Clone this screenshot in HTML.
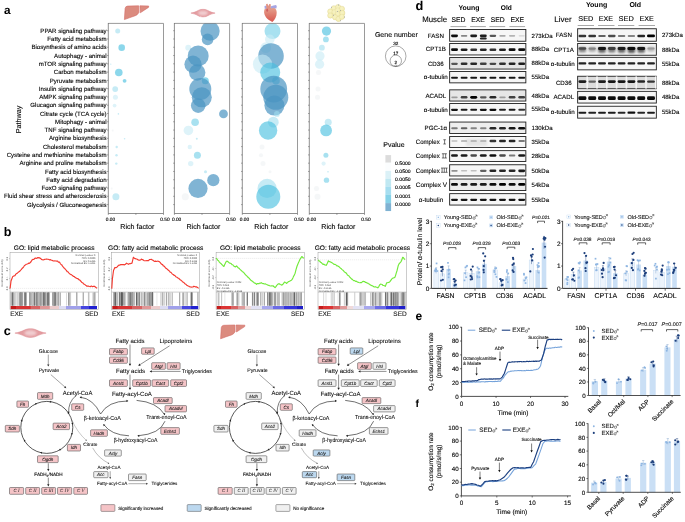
<!DOCTYPE html><html><head><meta charset="utf-8"><style>html,body{margin:0;padding:0;background:#fff;}svg{display:block;font-family:"Liberation Sans", sans-serif;will-change:transform;text-rendering:geometricPrecision;}</style></head><body>
<svg width="685" height="522" viewBox="0 0 685 522">
<defs><filter id="blur1" x="-50%" y="-50%" width="200%" height="200%"><feGaussianBlur stdDeviation="0.8"/></filter><filter id="blur3" x="-30%" y="-50%" width="160%" height="200%"><feGaussianBlur stdDeviation="0.9"/></filter><filter id="blur2" x="-20%" y="-50%" width="140%" height="200%"><feGaussianBlur stdDeviation="0.45"/></filter><linearGradient id="rwb" x1="0" x2="1" y1="0" y2="0"><stop offset="0" stop-color="#c41c1c"/><stop offset="0.06" stop-color="#c41c1c"/><stop offset="0.061" stop-color="#d83434"/><stop offset="0.23" stop-color="#d83434"/><stop offset="0.231" stop-color="#d86464"/><stop offset="0.34" stop-color="#d86464"/><stop offset="0.341" stop-color="#e09898"/><stop offset="0.45" stop-color="#e09898"/><stop offset="0.451" stop-color="#eccccc"/><stop offset="0.555" stop-color="#eccccc"/><stop offset="0.556" stop-color="#dcdcf2"/><stop offset="0.645" stop-color="#dcdcf2"/><stop offset="0.646" stop-color="#a0a0ea"/><stop offset="0.81" stop-color="#a0a0ea"/><stop offset="0.811" stop-color="#4646e0"/><stop offset="0.91" stop-color="#4646e0"/><stop offset="0.911" stop-color="#2020d0"/><stop offset="1" stop-color="#2020d0"/></linearGradient><linearGradient id="rwb2" x1="0" x2="1" y1="0" y2="0"><stop offset="0" stop-color="#c41c1c"/><stop offset="0.05" stop-color="#c41c1c"/><stop offset="0.051" stop-color="#dc3434"/><stop offset="0.17" stop-color="#dc3434"/><stop offset="0.171" stop-color="#d86464"/><stop offset="0.25" stop-color="#d86464"/><stop offset="0.251" stop-color="#e09a9a"/><stop offset="0.33" stop-color="#e09a9a"/><stop offset="0.331" stop-color="#f0dada"/><stop offset="0.4" stop-color="#f0dada"/><stop offset="0.401" stop-color="#e2e2f4"/><stop offset="0.52" stop-color="#e2e2f4"/><stop offset="0.521" stop-color="#a8a8ee"/><stop offset="0.65" stop-color="#a8a8ee"/><stop offset="0.651" stop-color="#6c6ce6"/><stop offset="0.78" stop-color="#6c6ce6"/><stop offset="0.781" stop-color="#3434dc"/><stop offset="0.93" stop-color="#3434dc"/><stop offset="0.931" stop-color="#1e1ec8"/><stop offset="1" stop-color="#1e1ec8"/></linearGradient><linearGradient id="heartg" x1="0" x2="0" y1="0" y2="1"><stop offset="0" stop-color="#e5a08c"/><stop offset="1" stop-color="#d8574f"/></linearGradient><clipPath id="pc0"><rect x="108.30" y="23.0" width="55.20" height="190.5"/></clipPath><clipPath id="pc1"><rect x="174.40" y="23.0" width="55.20" height="190.5"/></clipPath><clipPath id="pc2"><rect x="242.30" y="23.0" width="55.20" height="190.5"/></clipPath><clipPath id="pc3"><rect x="309.30" y="23.0" width="55.20" height="190.5"/></clipPath></defs>
<rect width="685" height="522" fill="#fff"/>
<text x="4.00" y="14.00" font-size="11.8" font-weight="bold">a</text>
<text x="415.40" y="9.90" font-size="12.8" font-weight="bold">d</text>
<text x="3.70" y="236.20" font-size="12.6" font-weight="bold">b</text>
<text x="3.80" y="335.10" font-size="12.6" font-weight="bold">c</text>
<text x="415.50" y="320.30" font-size="12" font-weight="bold">e</text>
<text x="415.50" y="407.40" font-size="10.5" font-weight="bold">f</text>
<text x="106.60" y="32.85" font-size="6.1" text-anchor="end" stroke="#111" stroke-width="0.12">PPAR signaling pathway</text>
<text x="106.60" y="41.13" font-size="6.1" text-anchor="end" stroke="#111" stroke-width="0.12">Fatty acid metabolism</text>
<text x="106.60" y="49.41" font-size="6.1" text-anchor="end" stroke="#111" stroke-width="0.12">Biosynthesis of amino acids</text>
<text x="106.60" y="57.69" font-size="6.1" text-anchor="end" stroke="#111" stroke-width="0.12">Autophagy - animal</text>
<text x="106.60" y="65.97" font-size="6.1" text-anchor="end" stroke="#111" stroke-width="0.12">mTOR signaling pathway</text>
<text x="106.60" y="74.25" font-size="6.1" text-anchor="end" stroke="#111" stroke-width="0.12">Carbon metabolism</text>
<text x="106.60" y="82.53" font-size="6.1" text-anchor="end" stroke="#111" stroke-width="0.12">Pyruvate metabolism</text>
<text x="106.60" y="90.81" font-size="6.1" text-anchor="end" stroke="#111" stroke-width="0.12">Insulin signaling pathway</text>
<text x="106.60" y="99.09" font-size="6.1" text-anchor="end" stroke="#111" stroke-width="0.12">AMPK signaling pathway</text>
<text x="106.60" y="107.37" font-size="6.1" text-anchor="end" stroke="#111" stroke-width="0.12">Glucagon signaling pathway</text>
<text x="106.60" y="115.65" font-size="6.1" text-anchor="end" stroke="#111" stroke-width="0.12">Citrate cycle (TCA cycle)</text>
<text x="106.60" y="123.93" font-size="6.1" text-anchor="end" stroke="#111" stroke-width="0.12">Mitophagy - animal</text>
<text x="106.60" y="132.21" font-size="6.1" text-anchor="end" stroke="#111" stroke-width="0.12">TNF signaling pathway</text>
<text x="106.60" y="140.49" font-size="6.1" text-anchor="end" stroke="#111" stroke-width="0.12">Arginine biosynthesis</text>
<text x="106.60" y="148.77" font-size="6.1" text-anchor="end" stroke="#111" stroke-width="0.12">Cholesterol metabolism</text>
<text x="106.60" y="157.05" font-size="6.1" text-anchor="end" stroke="#111" stroke-width="0.12">Cysteine and methionine metabolism</text>
<text x="106.60" y="165.33" font-size="6.1" text-anchor="end" stroke="#111" stroke-width="0.12">Arginine and proline metabolism</text>
<text x="106.60" y="173.61" font-size="6.1" text-anchor="end" stroke="#111" stroke-width="0.12">Fatty acid biosynthesis</text>
<text x="106.60" y="181.89" font-size="6.1" text-anchor="end" stroke="#111" stroke-width="0.12">Fatty acid degradation</text>
<text x="106.60" y="190.17" font-size="6.1" text-anchor="end" stroke="#111" stroke-width="0.12">FoxO signaling pathway</text>
<text x="106.60" y="198.45" font-size="6.1" text-anchor="end" stroke="#111" stroke-width="0.12">Fluid shear stress and atherosclerosis</text>
<text x="106.60" y="206.73" font-size="6.1" text-anchor="end" stroke="#111" stroke-width="0.12">Glycolysis / Gluconeogenesis</text>
<text x="20.80" y="119.50" font-size="7.2" text-anchor="middle" stroke="#111" stroke-width="0.12" transform="rotate(-90 20.80 119.50)">Pathway</text>
<g clip-path="url(#pc0)">
<circle cx="117.70" cy="31.10" r="2.50" fill="rgb(160,222,238)" fill-opacity="0.6"/>
<circle cx="121.70" cy="47.66" r="3.30" fill="rgb(69,191,222)" fill-opacity="0.62"/>
<circle cx="110.80" cy="64.22" r="0.60" fill="rgb(160,222,238)" fill-opacity="0.6"/>
<circle cx="118.80" cy="72.50" r="3.80" fill="rgb(69,191,222)" fill-opacity="0.62"/>
<circle cx="124.60" cy="80.78" r="1.90" fill="rgb(69,191,222)" fill-opacity="0.62"/>
<circle cx="115.20" cy="89.06" r="2.90" fill="rgb(160,222,238)" fill-opacity="0.6"/>
<circle cx="115.40" cy="97.34" r="2.50" fill="rgb(200,235,245)" fill-opacity="0.6"/>
<circle cx="114.60" cy="105.62" r="1.90" fill="rgb(200,235,245)" fill-opacity="0.6"/>
<circle cx="118.40" cy="113.90" r="0.80" fill="rgb(160,222,238)" fill-opacity="0.6"/>
<circle cx="112.70" cy="130.46" r="1.00" fill="rgb(236,240,242)" fill-opacity="0.5"/>
<circle cx="124.60" cy="138.74" r="0.80" fill="rgb(160,222,238)" fill-opacity="0.6"/>
<circle cx="116.70" cy="147.02" r="1.20" fill="rgb(160,222,238)" fill-opacity="0.6"/>
<circle cx="116.50" cy="155.30" r="1.20" fill="rgb(160,222,238)" fill-opacity="0.6"/>
<circle cx="116.30" cy="163.58" r="1.20" fill="rgb(160,222,238)" fill-opacity="0.6"/>
<circle cx="111.70" cy="188.42" r="1.00" fill="rgb(236,240,242)" fill-opacity="0.5"/>
<circle cx="115.90" cy="196.70" r="3.50" fill="rgb(160,222,238)" fill-opacity="0.6"/>
</g>
<line x1="108.30" y1="23.40" x2="163.50" y2="23.40" stroke="#808080" stroke-width="0.8"/>
<line x1="163.50" y1="23.40" x2="163.50" y2="213.50" stroke="#808080" stroke-width="0.8"/>
<line x1="108.30" y1="23.00" x2="108.30" y2="213.50" stroke="#444" stroke-width="0.6"/>
<line x1="108.30" y1="213.50" x2="163.50" y2="213.50" stroke="#444" stroke-width="0.6"/>
<line x1="107.00" y1="30.70" x2="108.30" y2="30.70" stroke="#444" stroke-width="0.45"/>
<line x1="107.00" y1="38.98" x2="108.30" y2="38.98" stroke="#444" stroke-width="0.45"/>
<line x1="107.00" y1="47.26" x2="108.30" y2="47.26" stroke="#444" stroke-width="0.45"/>
<line x1="107.00" y1="55.54" x2="108.30" y2="55.54" stroke="#444" stroke-width="0.45"/>
<line x1="107.00" y1="63.82" x2="108.30" y2="63.82" stroke="#444" stroke-width="0.45"/>
<line x1="107.00" y1="72.10" x2="108.30" y2="72.10" stroke="#444" stroke-width="0.45"/>
<line x1="107.00" y1="80.38" x2="108.30" y2="80.38" stroke="#444" stroke-width="0.45"/>
<line x1="107.00" y1="88.66" x2="108.30" y2="88.66" stroke="#444" stroke-width="0.45"/>
<line x1="107.00" y1="96.94" x2="108.30" y2="96.94" stroke="#444" stroke-width="0.45"/>
<line x1="107.00" y1="105.22" x2="108.30" y2="105.22" stroke="#444" stroke-width="0.45"/>
<line x1="107.00" y1="113.50" x2="108.30" y2="113.50" stroke="#444" stroke-width="0.45"/>
<line x1="107.00" y1="121.78" x2="108.30" y2="121.78" stroke="#444" stroke-width="0.45"/>
<line x1="107.00" y1="130.06" x2="108.30" y2="130.06" stroke="#444" stroke-width="0.45"/>
<line x1="107.00" y1="138.34" x2="108.30" y2="138.34" stroke="#444" stroke-width="0.45"/>
<line x1="107.00" y1="146.62" x2="108.30" y2="146.62" stroke="#444" stroke-width="0.45"/>
<line x1="107.00" y1="154.90" x2="108.30" y2="154.90" stroke="#444" stroke-width="0.45"/>
<line x1="107.00" y1="163.18" x2="108.30" y2="163.18" stroke="#444" stroke-width="0.45"/>
<line x1="107.00" y1="171.46" x2="108.30" y2="171.46" stroke="#444" stroke-width="0.45"/>
<line x1="107.00" y1="179.74" x2="108.30" y2="179.74" stroke="#444" stroke-width="0.45"/>
<line x1="107.00" y1="188.02" x2="108.30" y2="188.02" stroke="#444" stroke-width="0.45"/>
<line x1="107.00" y1="196.30" x2="108.30" y2="196.30" stroke="#444" stroke-width="0.45"/>
<line x1="107.00" y1="204.58" x2="108.30" y2="204.58" stroke="#444" stroke-width="0.45"/>
<line x1="108.30" y1="213.50" x2="108.30" y2="215.00" stroke="#444" stroke-width="0.45"/>
<line x1="135.90" y1="213.50" x2="135.90" y2="215.00" stroke="#444" stroke-width="0.45"/>
<line x1="163.50" y1="213.50" x2="163.50" y2="215.00" stroke="#444" stroke-width="0.45"/>
<text x="110.50" y="221.20" font-size="4.8" text-anchor="middle" stroke="#111" stroke-width="0.14">0.00</text>
<text x="164.90" y="221.20" font-size="4.8" text-anchor="middle" stroke="#111" stroke-width="0.14">0.50</text>
<text x="137.30" y="228.70" font-size="7.1" text-anchor="middle" stroke="#111" stroke-width="0.12">Rich factor</text>
<g clip-path="url(#pc1)">
<circle cx="210.10" cy="31.10" r="9.60" fill="rgb(74,148,194)" fill-opacity="0.7"/>
<circle cx="207.60" cy="39.38" r="5.80" fill="rgb(74,148,194)" fill-opacity="0.7"/>
<circle cx="188.20" cy="47.66" r="2.90" fill="rgb(200,235,245)" fill-opacity="0.6"/>
<circle cx="198.20" cy="55.94" r="10.50" fill="rgb(74,148,194)" fill-opacity="0.7"/>
<circle cx="193.00" cy="64.22" r="8.60" fill="rgb(74,148,194)" fill-opacity="0.7"/>
<circle cx="197.20" cy="72.50" r="8.20" fill="rgb(74,148,194)" fill-opacity="0.7"/>
<circle cx="205.30" cy="80.78" r="3.50" fill="rgb(69,191,222)" fill-opacity="0.62"/>
<circle cx="200.30" cy="89.06" r="11.00" fill="rgb(74,148,194)" fill-opacity="0.7"/>
<circle cx="201.80" cy="97.34" r="10.00" fill="rgb(74,148,194)" fill-opacity="0.7"/>
<circle cx="198.20" cy="105.62" r="7.30" fill="rgb(74,148,194)" fill-opacity="0.7"/>
<circle cx="223.50" cy="113.90" r="4.40" fill="rgb(74,148,194)" fill-opacity="0.7"/>
<circle cx="195.10" cy="122.18" r="3.80" fill="rgb(110,205,230)" fill-opacity="0.6"/>
<circle cx="188.40" cy="130.46" r="4.80" fill="rgb(200,235,245)" fill-opacity="0.6"/>
<circle cx="196.80" cy="138.74" r="1.00" fill="rgb(160,222,238)" fill-opacity="0.6"/>
<circle cx="189.80" cy="147.02" r="2.20" fill="rgb(200,235,245)" fill-opacity="0.6"/>
<circle cx="197.40" cy="155.30" r="3.50" fill="rgb(110,205,230)" fill-opacity="0.6"/>
<circle cx="190.70" cy="163.58" r="2.70" fill="rgb(200,235,245)" fill-opacity="0.6"/>
<circle cx="205.50" cy="171.86" r="1.50" fill="rgb(160,222,238)" fill-opacity="0.6"/>
<circle cx="213.30" cy="180.14" r="6.10" fill="rgb(74,148,194)" fill-opacity="0.7"/>
<circle cx="198.00" cy="188.42" r="9.60" fill="rgb(74,148,194)" fill-opacity="0.7"/>
<circle cx="185.30" cy="196.70" r="3.50" fill="rgb(236,240,242)" fill-opacity="0.5"/>
</g>
<line x1="174.40" y1="23.40" x2="229.60" y2="23.40" stroke="#808080" stroke-width="0.8"/>
<line x1="229.60" y1="23.40" x2="229.60" y2="213.50" stroke="#808080" stroke-width="0.8"/>
<line x1="174.40" y1="23.00" x2="174.40" y2="213.50" stroke="#444" stroke-width="0.6"/>
<line x1="174.40" y1="213.50" x2="229.60" y2="213.50" stroke="#444" stroke-width="0.6"/>
<line x1="173.10" y1="30.70" x2="174.40" y2="30.70" stroke="#444" stroke-width="0.45"/>
<line x1="173.10" y1="38.98" x2="174.40" y2="38.98" stroke="#444" stroke-width="0.45"/>
<line x1="173.10" y1="47.26" x2="174.40" y2="47.26" stroke="#444" stroke-width="0.45"/>
<line x1="173.10" y1="55.54" x2="174.40" y2="55.54" stroke="#444" stroke-width="0.45"/>
<line x1="173.10" y1="63.82" x2="174.40" y2="63.82" stroke="#444" stroke-width="0.45"/>
<line x1="173.10" y1="72.10" x2="174.40" y2="72.10" stroke="#444" stroke-width="0.45"/>
<line x1="173.10" y1="80.38" x2="174.40" y2="80.38" stroke="#444" stroke-width="0.45"/>
<line x1="173.10" y1="88.66" x2="174.40" y2="88.66" stroke="#444" stroke-width="0.45"/>
<line x1="173.10" y1="96.94" x2="174.40" y2="96.94" stroke="#444" stroke-width="0.45"/>
<line x1="173.10" y1="105.22" x2="174.40" y2="105.22" stroke="#444" stroke-width="0.45"/>
<line x1="173.10" y1="113.50" x2="174.40" y2="113.50" stroke="#444" stroke-width="0.45"/>
<line x1="173.10" y1="121.78" x2="174.40" y2="121.78" stroke="#444" stroke-width="0.45"/>
<line x1="173.10" y1="130.06" x2="174.40" y2="130.06" stroke="#444" stroke-width="0.45"/>
<line x1="173.10" y1="138.34" x2="174.40" y2="138.34" stroke="#444" stroke-width="0.45"/>
<line x1="173.10" y1="146.62" x2="174.40" y2="146.62" stroke="#444" stroke-width="0.45"/>
<line x1="173.10" y1="154.90" x2="174.40" y2="154.90" stroke="#444" stroke-width="0.45"/>
<line x1="173.10" y1="163.18" x2="174.40" y2="163.18" stroke="#444" stroke-width="0.45"/>
<line x1="173.10" y1="171.46" x2="174.40" y2="171.46" stroke="#444" stroke-width="0.45"/>
<line x1="173.10" y1="179.74" x2="174.40" y2="179.74" stroke="#444" stroke-width="0.45"/>
<line x1="173.10" y1="188.02" x2="174.40" y2="188.02" stroke="#444" stroke-width="0.45"/>
<line x1="173.10" y1="196.30" x2="174.40" y2="196.30" stroke="#444" stroke-width="0.45"/>
<line x1="173.10" y1="204.58" x2="174.40" y2="204.58" stroke="#444" stroke-width="0.45"/>
<line x1="174.40" y1="213.50" x2="174.40" y2="215.00" stroke="#444" stroke-width="0.45"/>
<line x1="202.00" y1="213.50" x2="202.00" y2="215.00" stroke="#444" stroke-width="0.45"/>
<line x1="229.60" y1="213.50" x2="229.60" y2="215.00" stroke="#444" stroke-width="0.45"/>
<text x="176.60" y="221.20" font-size="4.8" text-anchor="middle" stroke="#111" stroke-width="0.14">0.00</text>
<text x="231.00" y="221.20" font-size="4.8" text-anchor="middle" stroke="#111" stroke-width="0.14">0.50</text>
<text x="203.40" y="228.70" font-size="7.1" text-anchor="middle" stroke="#111" stroke-width="0.12">Rich factor</text>
<g clip-path="url(#pc2)">
<circle cx="272.50" cy="31.10" r="8.00" fill="rgb(110,205,230)" fill-opacity="0.6"/>
<circle cx="269.80" cy="39.38" r="4.80" fill="rgb(200,235,245)" fill-opacity="0.6"/>
<circle cx="265.80" cy="47.66" r="5.40" fill="rgb(200,235,245)" fill-opacity="0.6"/>
<circle cx="271.00" cy="55.94" r="12.80" fill="rgb(74,148,194)" fill-opacity="0.7"/>
<circle cx="262.50" cy="64.22" r="9.60" fill="rgb(200,235,245)" fill-opacity="0.6"/>
<circle cx="270.20" cy="72.50" r="10.00" fill="rgb(69,191,222)" fill-opacity="0.62"/>
<circle cx="276.00" cy="80.78" r="3.80" fill="rgb(69,191,222)" fill-opacity="0.62"/>
<circle cx="273.70" cy="89.06" r="13.40" fill="rgb(74,148,194)" fill-opacity="0.7"/>
<circle cx="275.80" cy="97.34" r="12.50" fill="rgb(74,148,194)" fill-opacity="0.7"/>
<circle cx="274.40" cy="105.62" r="10.00" fill="rgb(74,148,194)" fill-opacity="0.7"/>
<circle cx="276.90" cy="113.90" r="2.90" fill="rgb(160,222,238)" fill-opacity="0.6"/>
<circle cx="273.30" cy="122.18" r="5.40" fill="rgb(160,222,238)" fill-opacity="0.6"/>
<circle cx="268.10" cy="130.46" r="9.20" fill="rgb(69,191,222)" fill-opacity="0.62"/>
<circle cx="262.00" cy="147.02" r="2.50" fill="rgb(236,240,242)" fill-opacity="0.5"/>
<circle cx="261.00" cy="155.30" r="2.00" fill="rgb(236,240,242)" fill-opacity="0.5"/>
<circle cx="263.00" cy="163.58" r="2.50" fill="rgb(236,240,242)" fill-opacity="0.5"/>
<circle cx="270.00" cy="171.86" r="1.50" fill="rgb(236,240,242)" fill-opacity="0.5"/>
<circle cx="267.10" cy="188.42" r="9.60" fill="rgb(160,222,238)" fill-opacity="0.6"/>
<circle cx="268.30" cy="196.70" r="12.00" fill="rgb(69,191,222)" fill-opacity="0.62"/>
</g>
<line x1="242.30" y1="23.40" x2="297.50" y2="23.40" stroke="#808080" stroke-width="0.8"/>
<line x1="297.50" y1="23.40" x2="297.50" y2="213.50" stroke="#808080" stroke-width="0.8"/>
<line x1="242.30" y1="23.00" x2="242.30" y2="213.50" stroke="#444" stroke-width="0.6"/>
<line x1="242.30" y1="213.50" x2="297.50" y2="213.50" stroke="#444" stroke-width="0.6"/>
<line x1="241.00" y1="30.70" x2="242.30" y2="30.70" stroke="#444" stroke-width="0.45"/>
<line x1="241.00" y1="38.98" x2="242.30" y2="38.98" stroke="#444" stroke-width="0.45"/>
<line x1="241.00" y1="47.26" x2="242.30" y2="47.26" stroke="#444" stroke-width="0.45"/>
<line x1="241.00" y1="55.54" x2="242.30" y2="55.54" stroke="#444" stroke-width="0.45"/>
<line x1="241.00" y1="63.82" x2="242.30" y2="63.82" stroke="#444" stroke-width="0.45"/>
<line x1="241.00" y1="72.10" x2="242.30" y2="72.10" stroke="#444" stroke-width="0.45"/>
<line x1="241.00" y1="80.38" x2="242.30" y2="80.38" stroke="#444" stroke-width="0.45"/>
<line x1="241.00" y1="88.66" x2="242.30" y2="88.66" stroke="#444" stroke-width="0.45"/>
<line x1="241.00" y1="96.94" x2="242.30" y2="96.94" stroke="#444" stroke-width="0.45"/>
<line x1="241.00" y1="105.22" x2="242.30" y2="105.22" stroke="#444" stroke-width="0.45"/>
<line x1="241.00" y1="113.50" x2="242.30" y2="113.50" stroke="#444" stroke-width="0.45"/>
<line x1="241.00" y1="121.78" x2="242.30" y2="121.78" stroke="#444" stroke-width="0.45"/>
<line x1="241.00" y1="130.06" x2="242.30" y2="130.06" stroke="#444" stroke-width="0.45"/>
<line x1="241.00" y1="138.34" x2="242.30" y2="138.34" stroke="#444" stroke-width="0.45"/>
<line x1="241.00" y1="146.62" x2="242.30" y2="146.62" stroke="#444" stroke-width="0.45"/>
<line x1="241.00" y1="154.90" x2="242.30" y2="154.90" stroke="#444" stroke-width="0.45"/>
<line x1="241.00" y1="163.18" x2="242.30" y2="163.18" stroke="#444" stroke-width="0.45"/>
<line x1="241.00" y1="171.46" x2="242.30" y2="171.46" stroke="#444" stroke-width="0.45"/>
<line x1="241.00" y1="179.74" x2="242.30" y2="179.74" stroke="#444" stroke-width="0.45"/>
<line x1="241.00" y1="188.02" x2="242.30" y2="188.02" stroke="#444" stroke-width="0.45"/>
<line x1="241.00" y1="196.30" x2="242.30" y2="196.30" stroke="#444" stroke-width="0.45"/>
<line x1="241.00" y1="204.58" x2="242.30" y2="204.58" stroke="#444" stroke-width="0.45"/>
<line x1="242.30" y1="213.50" x2="242.30" y2="215.00" stroke="#444" stroke-width="0.45"/>
<line x1="269.90" y1="213.50" x2="269.90" y2="215.00" stroke="#444" stroke-width="0.45"/>
<line x1="297.50" y1="213.50" x2="297.50" y2="215.00" stroke="#444" stroke-width="0.45"/>
<text x="244.50" y="221.20" font-size="4.8" text-anchor="middle" stroke="#111" stroke-width="0.14">0.00</text>
<text x="298.90" y="221.20" font-size="4.8" text-anchor="middle" stroke="#111" stroke-width="0.14">0.50</text>
<text x="271.30" y="228.70" font-size="7.1" text-anchor="middle" stroke="#111" stroke-width="0.12">Rich factor</text>
<g clip-path="url(#pc3)">
<circle cx="326.50" cy="31.10" r="4.60" fill="rgb(69,191,222)" fill-opacity="0.62"/>
<circle cx="325.90" cy="39.38" r="2.90" fill="rgb(110,205,230)" fill-opacity="0.6"/>
<circle cx="321.90" cy="47.66" r="2.90" fill="rgb(160,222,238)" fill-opacity="0.6"/>
<circle cx="320.00" cy="55.94" r="4.60" fill="rgb(200,235,245)" fill-opacity="0.6"/>
<circle cx="319.60" cy="64.22" r="4.60" fill="rgb(200,235,245)" fill-opacity="0.6"/>
<circle cx="318.50" cy="72.50" r="2.50" fill="rgb(236,240,242)" fill-opacity="0.5"/>
<circle cx="318.00" cy="89.06" r="2.50" fill="rgb(236,240,242)" fill-opacity="0.5"/>
<circle cx="317.50" cy="97.34" r="2.50" fill="rgb(236,240,242)" fill-opacity="0.5"/>
<circle cx="328.20" cy="122.18" r="3.50" fill="rgb(160,222,238)" fill-opacity="0.6"/>
<circle cx="326.10" cy="130.46" r="5.90" fill="rgb(69,191,222)" fill-opacity="0.62"/>
<circle cx="325.90" cy="155.30" r="2.50" fill="rgb(110,205,230)" fill-opacity="0.6"/>
<circle cx="323.60" cy="163.58" r="2.10" fill="rgb(200,235,245)" fill-opacity="0.6"/>
<circle cx="328.00" cy="171.86" r="0.80" fill="rgb(160,222,238)" fill-opacity="0.6"/>
<circle cx="326.50" cy="180.14" r="2.70" fill="rgb(110,205,230)" fill-opacity="0.6"/>
<circle cx="316.50" cy="188.42" r="2.50" fill="rgb(236,240,242)" fill-opacity="0.5"/>
<circle cx="317.50" cy="196.70" r="3.00" fill="rgb(236,240,242)" fill-opacity="0.5"/>
</g>
<line x1="309.30" y1="23.40" x2="364.50" y2="23.40" stroke="#808080" stroke-width="0.8"/>
<line x1="364.50" y1="23.40" x2="364.50" y2="213.50" stroke="#808080" stroke-width="0.8"/>
<line x1="309.30" y1="23.00" x2="309.30" y2="213.50" stroke="#444" stroke-width="0.6"/>
<line x1="309.30" y1="213.50" x2="364.50" y2="213.50" stroke="#444" stroke-width="0.6"/>
<line x1="308.00" y1="30.70" x2="309.30" y2="30.70" stroke="#444" stroke-width="0.45"/>
<line x1="308.00" y1="38.98" x2="309.30" y2="38.98" stroke="#444" stroke-width="0.45"/>
<line x1="308.00" y1="47.26" x2="309.30" y2="47.26" stroke="#444" stroke-width="0.45"/>
<line x1="308.00" y1="55.54" x2="309.30" y2="55.54" stroke="#444" stroke-width="0.45"/>
<line x1="308.00" y1="63.82" x2="309.30" y2="63.82" stroke="#444" stroke-width="0.45"/>
<line x1="308.00" y1="72.10" x2="309.30" y2="72.10" stroke="#444" stroke-width="0.45"/>
<line x1="308.00" y1="80.38" x2="309.30" y2="80.38" stroke="#444" stroke-width="0.45"/>
<line x1="308.00" y1="88.66" x2="309.30" y2="88.66" stroke="#444" stroke-width="0.45"/>
<line x1="308.00" y1="96.94" x2="309.30" y2="96.94" stroke="#444" stroke-width="0.45"/>
<line x1="308.00" y1="105.22" x2="309.30" y2="105.22" stroke="#444" stroke-width="0.45"/>
<line x1="308.00" y1="113.50" x2="309.30" y2="113.50" stroke="#444" stroke-width="0.45"/>
<line x1="308.00" y1="121.78" x2="309.30" y2="121.78" stroke="#444" stroke-width="0.45"/>
<line x1="308.00" y1="130.06" x2="309.30" y2="130.06" stroke="#444" stroke-width="0.45"/>
<line x1="308.00" y1="138.34" x2="309.30" y2="138.34" stroke="#444" stroke-width="0.45"/>
<line x1="308.00" y1="146.62" x2="309.30" y2="146.62" stroke="#444" stroke-width="0.45"/>
<line x1="308.00" y1="154.90" x2="309.30" y2="154.90" stroke="#444" stroke-width="0.45"/>
<line x1="308.00" y1="163.18" x2="309.30" y2="163.18" stroke="#444" stroke-width="0.45"/>
<line x1="308.00" y1="171.46" x2="309.30" y2="171.46" stroke="#444" stroke-width="0.45"/>
<line x1="308.00" y1="179.74" x2="309.30" y2="179.74" stroke="#444" stroke-width="0.45"/>
<line x1="308.00" y1="188.02" x2="309.30" y2="188.02" stroke="#444" stroke-width="0.45"/>
<line x1="308.00" y1="196.30" x2="309.30" y2="196.30" stroke="#444" stroke-width="0.45"/>
<line x1="308.00" y1="204.58" x2="309.30" y2="204.58" stroke="#444" stroke-width="0.45"/>
<line x1="309.30" y1="213.50" x2="309.30" y2="215.00" stroke="#444" stroke-width="0.45"/>
<line x1="336.90" y1="213.50" x2="336.90" y2="215.00" stroke="#444" stroke-width="0.45"/>
<line x1="364.50" y1="213.50" x2="364.50" y2="215.00" stroke="#444" stroke-width="0.45"/>
<text x="311.50" y="221.20" font-size="4.8" text-anchor="middle" stroke="#111" stroke-width="0.14">0.00</text>
<text x="365.90" y="221.20" font-size="4.8" text-anchor="middle" stroke="#111" stroke-width="0.14">0.50</text>
<text x="338.30" y="228.70" font-size="7.1" text-anchor="middle" stroke="#111" stroke-width="0.12">Rich factor</text>
<g transform="translate(124.30,5.60) scale(1.0)"><path d="M0.1,14.0 L0.8,2.8 Q1.2,0.6 3.2,0.5 L14.4,0.2 L14.6,6.9 Q13.2,9.4 11,10.1 L5,12.2 Z" fill="#db8b7f" stroke="#d46c66" stroke-width="0.6" stroke-linejoin="round"/><path d="M15.6,0.2 L24.4,0.4 L24.2,1.8 Q20,4.5 16,7.2 Z" fill="#db8b7f" stroke="#d46c66" stroke-width="0.6" stroke-linejoin="round"/></g>
<g><path d="M190.90,13.10 C193.93,12.50 195.98,11.70 198.16,10.50 C200.58,8.90 205.42,8.90 207.84,10.50 C210.02,11.70 212.07,12.50 215.10,13.10 C212.07,13.70 210.02,14.50 207.84,15.70 C205.42,17.30 200.58,17.30 198.16,15.70 C195.98,14.50 193.93,13.70 190.90,13.10 Z" fill="#e39ca0" stroke="#dc8a90" stroke-width="0.5"/><ellipse cx="203.00" cy="13.10" rx="4.84" ry="2.40" fill="#f1cdd0" filter="url(#blur1)"/></g>
<g transform="translate(0.00,0.00)"><path d="M265.0,8.6 C263.4,11 263.8,15.5 267.3,18.8 C269.3,20.6 271.4,21.6 272.4,21.9 C274.6,20.0 276.8,16.5 276.7,12.5 C276.6,10.0 275.6,8.5 274.5,8.0 L266.5,8.0 Z" fill="url(#heartg)"/><path d="M264.5,6.0 L266.8,5.5 L267.0,8.4 L264.7,8.8 Z" fill="#a6a5e2"/><path d="M270.4,6.6 L273.5,5.5 L276.1,4.9 L276.8,6.4 L276.3,8.4 L273,8.1 L270.4,8.5 Z" fill="#a6a5e2"/><path d="M266.4,8.8 L266.1,4.0 L267.6,3.8 L268.3,6.0 L269.3,3.9 L270.8,4.3 L270.6,8.8 Z" fill="#e29282"/><ellipse cx="267.2" cy="10.2" rx="0.9" ry="1.6" fill="#cc5058" opacity="0.8"/></g>
<g>
<circle cx="333.90" cy="8.30" r="2.65" fill="#f4eeb0" stroke="#d6c97c" stroke-width="0.35"/>
<circle cx="338.10" cy="7.10" r="2.65" fill="#f4eeb0" stroke="#d6c97c" stroke-width="0.35"/>
<circle cx="341.90" cy="8.80" r="2.65" fill="#f4eeb0" stroke="#d6c97c" stroke-width="0.35"/>
<circle cx="330.30" cy="11.50" r="2.65" fill="#f4eeb0" stroke="#d6c97c" stroke-width="0.35"/>
<circle cx="334.50" cy="12.10" r="2.65" fill="#f4eeb0" stroke="#d6c97c" stroke-width="0.35"/>
<circle cx="337.70" cy="10.40" r="2.65" fill="#f4eeb0" stroke="#d6c97c" stroke-width="0.35"/>
<circle cx="337.90" cy="14.00" r="2.65" fill="#f4eeb0" stroke="#d6c97c" stroke-width="0.35"/>
<circle cx="342.30" cy="13.00" r="2.65" fill="#f4eeb0" stroke="#d6c97c" stroke-width="0.35"/>
<circle cx="330.30" cy="15.50" r="2.65" fill="#f4eeb0" stroke="#d6c97c" stroke-width="0.35"/>
<circle cx="335.10" cy="17.20" r="2.65" fill="#f4eeb0" stroke="#d6c97c" stroke-width="0.35"/>
<circle cx="338.50" cy="18.90" r="2.65" fill="#f4eeb0" stroke="#d6c97c" stroke-width="0.35"/>
<circle cx="341.90" cy="16.80" r="2.65" fill="#f4eeb0" stroke="#d6c97c" stroke-width="0.35"/>
<circle cx="333.60" cy="8.00" r="1.20" fill="#fbf8dc" filter="url(#blur1)"/>
<circle cx="337.80" cy="6.80" r="1.20" fill="#fbf8dc" filter="url(#blur1)"/>
<circle cx="341.60" cy="8.50" r="1.20" fill="#fbf8dc" filter="url(#blur1)"/>
<circle cx="330.00" cy="11.20" r="1.20" fill="#fbf8dc" filter="url(#blur1)"/>
<circle cx="334.20" cy="11.80" r="1.20" fill="#fbf8dc" filter="url(#blur1)"/>
<circle cx="337.40" cy="10.10" r="1.20" fill="#fbf8dc" filter="url(#blur1)"/>
<circle cx="337.60" cy="13.70" r="1.20" fill="#fbf8dc" filter="url(#blur1)"/>
<circle cx="342.00" cy="12.70" r="1.20" fill="#fbf8dc" filter="url(#blur1)"/>
<circle cx="330.00" cy="15.20" r="1.20" fill="#fbf8dc" filter="url(#blur1)"/>
<circle cx="334.80" cy="16.90" r="1.20" fill="#fbf8dc" filter="url(#blur1)"/>
<circle cx="338.20" cy="18.60" r="1.20" fill="#fbf8dc" filter="url(#blur1)"/>
<circle cx="341.60" cy="16.50" r="1.20" fill="#fbf8dc" filter="url(#blur1)"/>
<circle cx="331.60" cy="7.20" r="0.40" fill="#52629e"/>
<circle cx="338.40" cy="5.00" r="0.40" fill="#52629e"/>
<circle cx="340.60" cy="10.60" r="0.40" fill="#52629e"/>
<circle cx="333.40" cy="15.20" r="0.40" fill="#52629e"/>
<circle cx="344.30" cy="17.00" r="0.40" fill="#52629e"/>
<circle cx="340.50" cy="20.80" r="0.40" fill="#52629e"/>
<circle cx="337.40" cy="11.70" r="0.40" fill="#52629e"/>
</g>
<text x="374.90" y="37.10" font-size="7.0" stroke="#111" stroke-width="0.12" textLength="42.90" lengthAdjust="spacingAndGlyphs">Gene number</text>
<circle cx="395.70" cy="56.20" r="10.30" fill="none" stroke="#555" stroke-width="0.5"/>
<circle cx="395.80" cy="60.80" r="5.70" fill="none" stroke="#555" stroke-width="0.5"/>
<circle cx="395.80" cy="65.60" r="0.90" fill="none" stroke="#555" stroke-width="0.4"/>
<text x="395.70" y="44.80" font-size="4.6" text-anchor="middle" stroke="#111" stroke-width="0.14">32</text>
<text x="395.70" y="54.60" font-size="4.6" text-anchor="middle" stroke="#111" stroke-width="0.14">17</text>
<text x="395.80" y="64.20" font-size="4.6" text-anchor="middle" stroke="#111" stroke-width="0.14">2</text>
<text x="383.20" y="147.30" font-size="7.0" stroke="#111" stroke-width="0.12" textLength="21.50" lengthAdjust="spacingAndGlyphs">Pvalue</text>
<rect x="385.40" y="155.10" width="5.70" height="7.65" fill="#dcdcdc"/>
<rect x="385.40" y="162.70" width="5.70" height="8.25" fill="#fbfdfe"/>
<rect x="385.40" y="170.90" width="5.70" height="7.95" fill="#dbf1f7"/>
<rect x="385.40" y="178.80" width="5.70" height="7.95" fill="#c0e8f2"/>
<rect x="385.40" y="186.70" width="5.70" height="8.05" fill="#a6def0"/>
<rect x="385.40" y="194.70" width="5.70" height="8.45" fill="#86d2e8"/>
<rect x="385.40" y="203.10" width="5.70" height="7.95" fill="#7fb2d2"/>
<text x="395.10" y="164.75" font-size="5.0" stroke="#111" stroke-width="0.14" textLength="15.50" lengthAdjust="spacingAndGlyphs">0.5000</text>
<text x="395.10" y="172.95" font-size="5.0" stroke="#111" stroke-width="0.14" textLength="15.50" lengthAdjust="spacingAndGlyphs">0.0500</text>
<text x="395.10" y="180.95" font-size="5.0" stroke="#111" stroke-width="0.14" textLength="15.50" lengthAdjust="spacingAndGlyphs">0.0050</text>
<text x="395.10" y="189.25" font-size="5.0" stroke="#111" stroke-width="0.14" textLength="15.50" lengthAdjust="spacingAndGlyphs">0.0005</text>
<text x="395.10" y="197.65" font-size="5.0" stroke="#111" stroke-width="0.14" textLength="15.50" lengthAdjust="spacingAndGlyphs">0.0001</text>
<text x="395.10" y="205.65" font-size="5.0" stroke="#111" stroke-width="0.14" textLength="15.50" lengthAdjust="spacingAndGlyphs">0.0000</text>
<text x="54.15" y="249.60" font-size="6.6" text-anchor="middle" stroke="#111" stroke-width="0.12">GO: lipid metabolic process</text>
<rect x="10.00" y="252.60" width="88.30" height="56.80" fill="#fff" stroke="#9a9a9a" stroke-width="0.5"/>
<line x1="10.00" y1="292.10" x2="98.30" y2="292.10" stroke="#9a9a9a" stroke-width="0.5"/>
<line x1="10.00" y1="288.40" x2="98.30" y2="288.40" stroke="#cfcfcf" stroke-width="0.35" stroke-dasharray="1.2,0.8"/>
<g>
<line x1="22.45" y1="292.40" x2="22.45" y2="305.70" stroke="rgb(184,184,184)" stroke-width="0.54"/>
<line x1="53.75" y1="292.40" x2="53.75" y2="305.70" stroke="rgb(167,167,167)" stroke-width="0.94"/>
<line x1="18.94" y1="292.40" x2="18.94" y2="305.70" stroke="rgb(195,195,195)" stroke-width="0.67"/>
<line x1="76.89" y1="292.40" x2="76.89" y2="305.70" stroke="rgb(136,136,136)" stroke-width="0.89"/>
<line x1="30.63" y1="292.40" x2="30.63" y2="305.70" stroke="rgb(205,205,205)" stroke-width="0.37"/>
<line x1="13.01" y1="292.40" x2="13.01" y2="305.70" stroke="rgb(210,210,210)" stroke-width="0.64"/>
<line x1="29.58" y1="292.40" x2="29.58" y2="305.70" stroke="rgb(74,74,74)" stroke-width="0.52"/>
<line x1="48.76" y1="292.40" x2="48.76" y2="305.70" stroke="rgb(104,104,104)" stroke-width="0.52"/>
<line x1="29.77" y1="292.40" x2="29.77" y2="305.70" stroke="rgb(113,113,113)" stroke-width="0.37"/>
<line x1="66.49" y1="292.40" x2="66.49" y2="305.70" stroke="rgb(218,218,218)" stroke-width="0.99"/>
<line x1="21.28" y1="292.40" x2="21.28" y2="305.70" stroke="rgb(178,178,178)" stroke-width="0.88"/>
<line x1="37.10" y1="292.40" x2="37.10" y2="305.70" stroke="rgb(202,202,202)" stroke-width="0.98"/>
<line x1="54.61" y1="292.40" x2="54.61" y2="305.70" stroke="rgb(75,75,75)" stroke-width="0.53"/>
<line x1="25.80" y1="292.40" x2="25.80" y2="305.70" stroke="rgb(175,175,175)" stroke-width="0.86"/>
<line x1="43.29" y1="292.40" x2="43.29" y2="305.70" stroke="rgb(146,146,146)" stroke-width="0.93"/>
<line x1="55.97" y1="292.40" x2="55.97" y2="305.70" stroke="rgb(143,143,143)" stroke-width="0.37"/>
<line x1="14.57" y1="292.40" x2="14.57" y2="305.70" stroke="rgb(217,217,217)" stroke-width="0.79"/>
<line x1="44.93" y1="292.40" x2="44.93" y2="305.70" stroke="rgb(145,145,145)" stroke-width="1.09"/>
<line x1="55.34" y1="292.40" x2="55.34" y2="305.70" stroke="rgb(156,156,156)" stroke-width="0.69"/>
<line x1="34.15" y1="292.40" x2="34.15" y2="305.70" stroke="rgb(213,213,213)" stroke-width="0.35"/>
<line x1="15.67" y1="292.40" x2="15.67" y2="305.70" stroke="rgb(155,155,155)" stroke-width="0.5"/>
<line x1="54.56" y1="292.40" x2="54.56" y2="305.70" stroke="rgb(123,123,123)" stroke-width="0.61"/>
<line x1="57.49" y1="292.40" x2="57.49" y2="305.70" stroke="rgb(161,161,161)" stroke-width="0.69"/>
<line x1="13.23" y1="292.40" x2="13.23" y2="305.70" stroke="rgb(96,96,96)" stroke-width="0.79"/>
<line x1="32.93" y1="292.40" x2="32.93" y2="305.70" stroke="rgb(170,170,170)" stroke-width="0.41"/>
<line x1="12.25" y1="292.40" x2="12.25" y2="305.70" stroke="rgb(183,183,183)" stroke-width="0.54"/>
<line x1="20.29" y1="292.40" x2="20.29" y2="305.70" stroke="rgb(121,121,121)" stroke-width="0.4"/>
<line x1="24.64" y1="292.40" x2="24.64" y2="305.70" stroke="rgb(95,95,95)" stroke-width="0.55"/>
<line x1="38.72" y1="292.40" x2="38.72" y2="305.70" stroke="rgb(73,73,73)" stroke-width="0.64"/>
<line x1="47.29" y1="292.40" x2="47.29" y2="305.70" stroke="rgb(86,86,86)" stroke-width="1.02"/>
<line x1="55.03" y1="292.40" x2="55.03" y2="305.70" stroke="rgb(160,160,160)" stroke-width="0.96"/>
<line x1="12.60" y1="292.40" x2="12.60" y2="305.70" stroke="rgb(91,91,91)" stroke-width="0.89"/>
<line x1="24.69" y1="292.40" x2="24.69" y2="305.70" stroke="rgb(171,171,171)" stroke-width="0.76"/>
<line x1="29.93" y1="292.40" x2="29.93" y2="305.70" stroke="rgb(189,189,189)" stroke-width="0.74"/>
<line x1="30.15" y1="292.40" x2="30.15" y2="305.70" stroke="rgb(129,129,129)" stroke-width="0.78"/>
<line x1="38.65" y1="292.40" x2="38.65" y2="305.70" stroke="rgb(78,78,78)" stroke-width="0.57"/>
<line x1="37.36" y1="292.40" x2="37.36" y2="305.70" stroke="rgb(116,116,116)" stroke-width="1.05"/>
<line x1="32.68" y1="292.40" x2="32.68" y2="305.70" stroke="rgb(201,201,201)" stroke-width="0.38"/>
<line x1="60.24" y1="292.40" x2="60.24" y2="305.70" stroke="rgb(200,200,200)" stroke-width="1.08"/>
<line x1="43.57" y1="292.40" x2="43.57" y2="305.70" stroke="rgb(100,100,100)" stroke-width="0.86"/>
<line x1="48.34" y1="292.40" x2="48.34" y2="305.70" stroke="rgb(85,85,85)" stroke-width="0.85"/>
<line x1="36.47" y1="292.40" x2="36.47" y2="305.70" stroke="rgb(118,118,118)" stroke-width="1.0"/>
<line x1="88.80" y1="292.40" x2="88.80" y2="305.70" stroke="rgb(100,100,100)" stroke-width="0.6"/>
<line x1="40.20" y1="292.40" x2="40.20" y2="305.70" stroke="rgb(171,171,171)" stroke-width="0.98"/>
<line x1="52.81" y1="292.40" x2="52.81" y2="305.70" stroke="rgb(105,105,105)" stroke-width="0.89"/>
<line x1="18.14" y1="292.40" x2="18.14" y2="305.70" stroke="rgb(206,206,206)" stroke-width="0.51"/>
<line x1="40.30" y1="292.40" x2="40.30" y2="305.70" stroke="rgb(200,200,200)" stroke-width="0.8"/>
<line x1="22.53" y1="292.40" x2="22.53" y2="305.70" stroke="rgb(85,85,85)" stroke-width="0.38"/>
<line x1="17.15" y1="292.40" x2="17.15" y2="305.70" stroke="rgb(188,188,188)" stroke-width="0.97"/>
<line x1="40.36" y1="292.40" x2="40.36" y2="305.70" stroke="rgb(187,187,187)" stroke-width="0.63"/>
<line x1="17.89" y1="292.40" x2="17.89" y2="305.70" stroke="rgb(203,203,203)" stroke-width="0.77"/>
<line x1="34.83" y1="292.40" x2="34.83" y2="305.70" stroke="rgb(194,194,194)" stroke-width="0.36"/>
<line x1="68.92" y1="292.40" x2="68.92" y2="305.70" stroke="rgb(87,87,87)" stroke-width="1.01"/>
<line x1="14.27" y1="292.40" x2="14.27" y2="305.70" stroke="rgb(218,218,218)" stroke-width="0.67"/>
<line x1="20.82" y1="292.40" x2="20.82" y2="305.70" stroke="rgb(106,106,106)" stroke-width="0.91"/>
<line x1="19.72" y1="292.40" x2="19.72" y2="305.70" stroke="rgb(126,126,126)" stroke-width="1.08"/>
<line x1="32.77" y1="292.40" x2="32.77" y2="305.70" stroke="rgb(85,85,85)" stroke-width="0.84"/>
<line x1="14.24" y1="292.40" x2="14.24" y2="305.70" stroke="rgb(217,217,217)" stroke-width="0.57"/>
<line x1="37.96" y1="292.40" x2="37.96" y2="305.70" stroke="rgb(207,207,207)" stroke-width="1.08"/>
<line x1="94.88" y1="292.40" x2="94.88" y2="305.70" stroke="rgb(102,102,102)" stroke-width="0.81"/>
<line x1="33.26" y1="292.40" x2="33.26" y2="305.70" stroke="rgb(116,116,116)" stroke-width="0.53"/>
<line x1="17.85" y1="292.40" x2="17.85" y2="305.70" stroke="rgb(217,217,217)" stroke-width="0.69"/>
<line x1="37.40" y1="292.40" x2="37.40" y2="305.70" stroke="rgb(117,117,117)" stroke-width="0.99"/>
<line x1="39.79" y1="292.40" x2="39.79" y2="305.70" stroke="rgb(156,156,156)" stroke-width="0.8"/>
<line x1="32.05" y1="292.40" x2="32.05" y2="305.70" stroke="rgb(106,106,106)" stroke-width="0.4"/>
<line x1="58.59" y1="292.40" x2="58.59" y2="305.70" stroke="rgb(81,81,81)" stroke-width="0.83"/>
<line x1="36.01" y1="292.40" x2="36.01" y2="305.70" stroke="rgb(143,143,143)" stroke-width="1.0"/>
<line x1="24.17" y1="292.40" x2="24.17" y2="305.70" stroke="rgb(189,189,189)" stroke-width="0.41"/>
<line x1="93.10" y1="292.40" x2="93.10" y2="305.70" stroke="rgb(186,186,186)" stroke-width="1.09"/>
<line x1="20.07" y1="292.40" x2="20.07" y2="305.70" stroke="rgb(207,207,207)" stroke-width="0.57"/>
<line x1="88.29" y1="292.40" x2="88.29" y2="305.70" stroke="rgb(206,206,206)" stroke-width="0.37"/>
<line x1="38.20" y1="292.40" x2="38.20" y2="305.70" stroke="rgb(190,190,190)" stroke-width="1.03"/>
<line x1="70.59" y1="292.40" x2="70.59" y2="305.70" stroke="rgb(134,134,134)" stroke-width="0.47"/>
<line x1="32.70" y1="292.40" x2="32.70" y2="305.70" stroke="rgb(214,214,214)" stroke-width="0.96"/>
<line x1="58.42" y1="292.40" x2="58.42" y2="305.70" stroke="rgb(197,197,197)" stroke-width="0.69"/>
<line x1="45.11" y1="292.40" x2="45.11" y2="305.70" stroke="rgb(108,108,108)" stroke-width="0.37"/>
<line x1="60.27" y1="292.40" x2="60.27" y2="305.70" stroke="rgb(123,123,123)" stroke-width="0.45"/>
<line x1="21.65" y1="292.40" x2="21.65" y2="305.70" stroke="rgb(194,194,194)" stroke-width="0.65"/>
<line x1="45.57" y1="292.40" x2="45.57" y2="305.70" stroke="rgb(105,105,105)" stroke-width="0.36"/>
<line x1="56.64" y1="292.40" x2="56.64" y2="305.70" stroke="rgb(167,167,167)" stroke-width="0.68"/>
<line x1="31.47" y1="292.40" x2="31.47" y2="305.70" stroke="rgb(141,141,141)" stroke-width="0.52"/>
<line x1="46.54" y1="292.40" x2="46.54" y2="305.70" stroke="rgb(206,206,206)" stroke-width="1.04"/>
<line x1="34.66" y1="292.40" x2="34.66" y2="305.70" stroke="rgb(77,77,77)" stroke-width="0.4"/>
<line x1="55.16" y1="292.40" x2="55.16" y2="305.70" stroke="rgb(93,93,93)" stroke-width="0.92"/>
<line x1="43.02" y1="292.40" x2="43.02" y2="305.70" stroke="rgb(180,180,180)" stroke-width="0.8"/>
<line x1="26.08" y1="292.40" x2="26.08" y2="305.70" stroke="rgb(102,102,102)" stroke-width="0.78"/>
<line x1="76.50" y1="292.40" x2="76.50" y2="305.70" stroke="rgb(172,172,172)" stroke-width="0.89"/>
<line x1="40.97" y1="292.40" x2="40.97" y2="305.70" stroke="rgb(94,94,94)" stroke-width="0.9"/>
<line x1="14.33" y1="292.40" x2="14.33" y2="305.70" stroke="rgb(191,191,191)" stroke-width="0.82"/>
<line x1="33.99" y1="292.40" x2="33.99" y2="305.70" stroke="rgb(213,213,213)" stroke-width="0.45"/>
<line x1="49.39" y1="292.40" x2="49.39" y2="305.70" stroke="rgb(215,215,215)" stroke-width="0.64"/>
<line x1="25.08" y1="292.40" x2="25.08" y2="305.70" stroke="rgb(88,88,88)" stroke-width="1.03"/>
<line x1="93.98" y1="292.40" x2="93.98" y2="305.70" stroke="rgb(160,160,160)" stroke-width="0.66"/>
<line x1="21.04" y1="292.40" x2="21.04" y2="305.70" stroke="rgb(107,107,107)" stroke-width="0.91"/>
<line x1="11.15" y1="292.40" x2="11.15" y2="305.70" stroke="rgb(135,135,135)" stroke-width="0.37"/>
<line x1="83.22" y1="292.40" x2="83.22" y2="305.70" stroke="rgb(112,112,112)" stroke-width="0.76"/>
<line x1="34.49" y1="292.40" x2="34.49" y2="305.70" stroke="rgb(107,107,107)" stroke-width="0.86"/>
<line x1="53.35" y1="292.40" x2="53.35" y2="305.70" stroke="rgb(185,185,185)" stroke-width="0.78"/>
<line x1="44.03" y1="292.40" x2="44.03" y2="305.70" stroke="rgb(86,86,86)" stroke-width="0.96"/>
<line x1="21.04" y1="292.40" x2="21.04" y2="305.70" stroke="rgb(151,151,151)" stroke-width="1.07"/>
<line x1="22.64" y1="292.40" x2="22.64" y2="305.70" stroke="rgb(155,155,155)" stroke-width="0.58"/>
<line x1="54.41" y1="292.40" x2="54.41" y2="305.70" stroke="rgb(149,149,149)" stroke-width="0.35"/>
<line x1="49.15" y1="292.40" x2="49.15" y2="305.70" stroke="rgb(115,115,115)" stroke-width="0.65"/>
<line x1="53.48" y1="292.40" x2="53.48" y2="305.70" stroke="rgb(126,126,126)" stroke-width="0.5"/>
<line x1="11.14" y1="292.40" x2="11.14" y2="305.70" stroke="rgb(159,159,159)" stroke-width="1.01"/>
<line x1="37.27" y1="292.40" x2="37.27" y2="305.70" stroke="rgb(163,163,163)" stroke-width="0.75"/>
<line x1="41.96" y1="292.40" x2="41.96" y2="305.70" stroke="rgb(128,128,128)" stroke-width="0.67"/>
<line x1="45.94" y1="292.40" x2="45.94" y2="305.70" stroke="rgb(157,157,157)" stroke-width="0.9"/>
<line x1="53.52" y1="292.40" x2="53.52" y2="305.70" stroke="rgb(166,166,166)" stroke-width="0.84"/>
<line x1="41.10" y1="292.40" x2="41.10" y2="305.70" stroke="rgb(176,176,176)" stroke-width="1.01"/>
</g>
<rect x="10.60" y="306.00" width="86.40" height="3.10" fill="url(#rwb)"/>
<line x1="9.10" y1="258.60" x2="10.00" y2="258.60" stroke="#666" stroke-width="0.3"/>
<text x="8.00" y="258.60" font-size="2.6" fill="#444" text-anchor="middle" transform="rotate(-90 8.00 258.60)">0.3</text>
<line x1="9.10" y1="269.40" x2="10.00" y2="269.40" stroke="#666" stroke-width="0.3"/>
<text x="8.00" y="269.40" font-size="2.6" fill="#444" text-anchor="middle" transform="rotate(-90 8.00 269.40)">0.2</text>
<line x1="9.10" y1="278.40" x2="10.00" y2="278.40" stroke="#666" stroke-width="0.3"/>
<text x="8.00" y="278.40" font-size="2.6" fill="#444" text-anchor="middle" transform="rotate(-90 8.00 278.40)">0.1</text>
<line x1="9.10" y1="288.40" x2="10.00" y2="288.40" stroke="#666" stroke-width="0.3"/>
<text x="8.00" y="288.40" font-size="2.6" fill="#444" text-anchor="middle" transform="rotate(-90 8.00 288.40)">0.0</text>
<text x="3.40" y="273.00" font-size="2.7" fill="#555" text-anchor="middle" transform="rotate(-90 3.40 273.00)">Enrichment score (ES)</text>
<text x="95.40" y="255.90" font-size="2.4" text-anchor="end" fill="#444">Nominal p-value: 0</text>
<text x="95.40" y="258.70" font-size="2.4" text-anchor="end" fill="#444">FDR: 0.0000</text>
<text x="95.40" y="261.50" font-size="2.4" text-anchor="end" fill="#444">ES: 0.3416</text>
<text x="95.40" y="264.30" font-size="2.4" text-anchor="end" fill="#444">Normalized ES: 1.2411</text>
<polyline points="10.10,288.49 11.00,281.07 11.90,278.71 12.80,276.41 13.85,275.92 14.90,275.70 15.80,274.14 16.70,273.51 17.60,272.91 18.53,272.04 19.47,271.55 20.40,270.33 21.22,269.62 22.04,268.50 22.86,267.75 23.68,266.81 24.50,265.46 25.40,264.90 26.30,264.25 27.20,263.99 27.90,263.71 28.60,263.11 29.30,263.38 30.00,262.75 31.00,261.73 32.00,260.04 32.85,259.43 33.70,259.51 34.55,258.52 35.40,258.00 36.10,258.40 36.80,258.18 37.50,257.63 38.20,257.96 38.90,257.53 39.75,258.15 40.60,258.34 41.45,259.38 42.30,259.73 43.12,259.87 43.94,259.76 44.76,259.28 45.58,259.26 46.40,259.07 47.22,259.17 48.04,259.24 48.86,259.52 49.68,259.85 50.50,259.55 51.20,260.24 51.90,260.23 52.60,260.43 53.30,261.00 54.00,260.99 54.90,260.87 55.80,260.99 56.70,261.14 57.63,261.16 58.57,262.27 59.50,262.07 60.26,263.51 61.02,264.52 61.79,264.88 62.55,266.35 63.31,266.99 64.07,268.08 64.84,268.62 65.60,269.58 66.39,270.36 67.17,271.59 67.96,271.74 68.74,272.82 69.53,273.63 70.31,274.32 71.10,274.59 71.92,275.14 72.74,275.80 73.56,276.51 74.38,276.59 75.20,277.57 76.13,278.07 77.07,278.59 78.00,278.48 78.80,279.80 79.60,279.88 80.40,280.74 81.20,281.61 82.00,282.51 82.80,282.79 83.62,283.90 84.44,284.33 85.26,284.87 86.08,285.57 86.90,286.17 87.75,286.10 88.60,286.15 89.45,286.53 90.30,286.75 91.00,286.16 91.70,286.08 92.40,286.74 93.10,286.42 93.80,286.33 94.50,286.22 95.40,287.03 96.30,287.76 97.20,288.10" fill="none" stroke="#f43a30" stroke-width="1.15" stroke-linejoin="round"/>
<text x="10.20" y="316.10" font-size="6.5" fill="#222" stroke="#222" stroke-width="0.12">EXE</text>
<text x="98.30" y="316.10" font-size="6.5" text-anchor="end" fill="#222" stroke="#222" stroke-width="0.12">SED</text>
<text x="155.65" y="249.60" font-size="6.6" text-anchor="middle" stroke="#111" stroke-width="0.12">GO: fatty acid metabolic process</text>
<rect x="111.70" y="252.60" width="87.90" height="56.80" fill="#fff" stroke="#9a9a9a" stroke-width="0.5"/>
<line x1="111.70" y1="292.10" x2="199.60" y2="292.10" stroke="#9a9a9a" stroke-width="0.5"/>
<line x1="111.70" y1="288.40" x2="199.60" y2="288.40" stroke="#cfcfcf" stroke-width="0.35" stroke-dasharray="1.2,0.8"/>
<g>
<line x1="117.38" y1="292.40" x2="117.38" y2="305.70" stroke="rgb(195,195,195)" stroke-width="0.9"/>
<line x1="162.66" y1="292.40" x2="162.66" y2="305.70" stroke="rgb(134,134,134)" stroke-width="0.65"/>
<line x1="150.89" y1="292.40" x2="150.89" y2="305.70" stroke="rgb(75,75,75)" stroke-width="0.37"/>
<line x1="152.62" y1="292.40" x2="152.62" y2="305.70" stroke="rgb(127,127,127)" stroke-width="1.02"/>
<line x1="132.88" y1="292.40" x2="132.88" y2="305.70" stroke="rgb(118,118,118)" stroke-width="0.45"/>
<line x1="170.71" y1="292.40" x2="170.71" y2="305.70" stroke="rgb(204,204,204)" stroke-width="0.95"/>
<line x1="143.03" y1="292.40" x2="143.03" y2="305.70" stroke="rgb(214,214,214)" stroke-width="0.47"/>
<line x1="152.32" y1="292.40" x2="152.32" y2="305.70" stroke="rgb(143,143,143)" stroke-width="1.04"/>
<line x1="143.04" y1="292.40" x2="143.04" y2="305.70" stroke="rgb(204,204,204)" stroke-width="0.7"/>
<line x1="131.64" y1="292.40" x2="131.64" y2="305.70" stroke="rgb(174,174,174)" stroke-width="0.47"/>
<line x1="139.41" y1="292.40" x2="139.41" y2="305.70" stroke="rgb(146,146,146)" stroke-width="1.05"/>
<line x1="166.29" y1="292.40" x2="166.29" y2="305.70" stroke="rgb(193,193,193)" stroke-width="0.89"/>
<line x1="190.83" y1="292.40" x2="190.83" y2="305.70" stroke="rgb(181,181,181)" stroke-width="0.39"/>
<line x1="132.06" y1="292.40" x2="132.06" y2="305.70" stroke="rgb(85,85,85)" stroke-width="0.74"/>
<line x1="130.66" y1="292.40" x2="130.66" y2="305.70" stroke="rgb(133,133,133)" stroke-width="0.89"/>
<line x1="115.25" y1="292.40" x2="115.25" y2="305.70" stroke="rgb(95,95,95)" stroke-width="0.85"/>
<line x1="119.65" y1="292.40" x2="119.65" y2="305.70" stroke="rgb(73,73,73)" stroke-width="0.9"/>
<line x1="114.32" y1="292.40" x2="114.32" y2="305.70" stroke="rgb(192,192,192)" stroke-width="0.47"/>
<line x1="128.36" y1="292.40" x2="128.36" y2="305.70" stroke="rgb(127,127,127)" stroke-width="0.38"/>
<line x1="197.94" y1="292.40" x2="197.94" y2="305.70" stroke="rgb(75,75,75)" stroke-width="0.61"/>
<line x1="122.26" y1="292.40" x2="122.26" y2="305.70" stroke="rgb(74,74,74)" stroke-width="0.69"/>
<line x1="121.31" y1="292.40" x2="121.31" y2="305.70" stroke="rgb(201,201,201)" stroke-width="0.45"/>
<line x1="156.93" y1="292.40" x2="156.93" y2="305.70" stroke="rgb(213,213,213)" stroke-width="0.54"/>
<line x1="114.06" y1="292.40" x2="114.06" y2="305.70" stroke="rgb(91,91,91)" stroke-width="0.39"/>
<line x1="115.40" y1="292.40" x2="115.40" y2="305.70" stroke="rgb(84,84,84)" stroke-width="0.83"/>
<line x1="132.56" y1="292.40" x2="132.56" y2="305.70" stroke="rgb(107,107,107)" stroke-width="0.79"/>
<line x1="149.01" y1="292.40" x2="149.01" y2="305.70" stroke="rgb(70,70,70)" stroke-width="0.38"/>
<line x1="147.77" y1="292.40" x2="147.77" y2="305.70" stroke="rgb(178,178,178)" stroke-width="0.53"/>
<line x1="121.11" y1="292.40" x2="121.11" y2="305.70" stroke="rgb(104,104,104)" stroke-width="0.51"/>
<line x1="139.23" y1="292.40" x2="139.23" y2="305.70" stroke="rgb(101,101,101)" stroke-width="1.03"/>
<line x1="149.93" y1="292.40" x2="149.93" y2="305.70" stroke="rgb(157,157,157)" stroke-width="0.39"/>
<line x1="148.57" y1="292.40" x2="148.57" y2="305.70" stroke="rgb(97,97,97)" stroke-width="0.42"/>
<line x1="114.14" y1="292.40" x2="114.14" y2="305.70" stroke="rgb(85,85,85)" stroke-width="0.58"/>
<line x1="113.86" y1="292.40" x2="113.86" y2="305.70" stroke="rgb(131,131,131)" stroke-width="0.71"/>
<line x1="130.47" y1="292.40" x2="130.47" y2="305.70" stroke="rgb(81,81,81)" stroke-width="0.56"/>
<line x1="144.68" y1="292.40" x2="144.68" y2="305.70" stroke="rgb(81,81,81)" stroke-width="0.92"/>
<line x1="129.10" y1="292.40" x2="129.10" y2="305.70" stroke="rgb(128,128,128)" stroke-width="0.7"/>
<line x1="123.01" y1="292.40" x2="123.01" y2="305.70" stroke="rgb(82,82,82)" stroke-width="0.99"/>
<line x1="172.28" y1="292.40" x2="172.28" y2="305.70" stroke="rgb(168,168,168)" stroke-width="0.93"/>
<line x1="143.36" y1="292.40" x2="143.36" y2="305.70" stroke="rgb(189,189,189)" stroke-width="0.55"/>
<line x1="138.11" y1="292.40" x2="138.11" y2="305.70" stroke="rgb(143,143,143)" stroke-width="0.54"/>
<line x1="149.41" y1="292.40" x2="149.41" y2="305.70" stroke="rgb(207,207,207)" stroke-width="0.79"/>
<line x1="183.08" y1="292.40" x2="183.08" y2="305.70" stroke="rgb(123,123,123)" stroke-width="1.1"/>
<line x1="125.14" y1="292.40" x2="125.14" y2="305.70" stroke="rgb(80,80,80)" stroke-width="0.41"/>
<line x1="168.43" y1="292.40" x2="168.43" y2="305.70" stroke="rgb(114,114,114)" stroke-width="0.52"/>
<line x1="150.37" y1="292.40" x2="150.37" y2="305.70" stroke="rgb(86,86,86)" stroke-width="0.76"/>
<line x1="120.80" y1="292.40" x2="120.80" y2="305.70" stroke="rgb(177,177,177)" stroke-width="0.54"/>
<line x1="161.99" y1="292.40" x2="161.99" y2="305.70" stroke="rgb(136,136,136)" stroke-width="0.37"/>
<line x1="128.07" y1="292.40" x2="128.07" y2="305.70" stroke="rgb(142,142,142)" stroke-width="0.65"/>
<line x1="131.92" y1="292.40" x2="131.92" y2="305.70" stroke="rgb(130,130,130)" stroke-width="0.85"/>
<line x1="113.50" y1="292.40" x2="113.50" y2="305.70" stroke="rgb(176,176,176)" stroke-width="1.01"/>
<line x1="113.98" y1="292.40" x2="113.98" y2="305.70" stroke="rgb(179,179,179)" stroke-width="0.8"/>
<line x1="121.17" y1="292.40" x2="121.17" y2="305.70" stroke="rgb(185,185,185)" stroke-width="0.5"/>
<line x1="129.03" y1="292.40" x2="129.03" y2="305.70" stroke="rgb(90,90,90)" stroke-width="0.81"/>
<line x1="149.99" y1="292.40" x2="149.99" y2="305.70" stroke="rgb(154,154,154)" stroke-width="0.7"/>
<line x1="130.19" y1="292.40" x2="130.19" y2="305.70" stroke="rgb(80,80,80)" stroke-width="0.35"/>
<line x1="141.40" y1="292.40" x2="141.40" y2="305.70" stroke="rgb(145,145,145)" stroke-width="0.37"/>
<line x1="119.39" y1="292.40" x2="119.39" y2="305.70" stroke="rgb(96,96,96)" stroke-width="0.91"/>
<line x1="187.07" y1="292.40" x2="187.07" y2="305.70" stroke="rgb(94,94,94)" stroke-width="0.64"/>
<line x1="152.60" y1="292.40" x2="152.60" y2="305.70" stroke="rgb(71,71,71)" stroke-width="0.77"/>
<line x1="150.71" y1="292.40" x2="150.71" y2="305.70" stroke="rgb(116,116,116)" stroke-width="0.84"/>
<line x1="191.44" y1="292.40" x2="191.44" y2="305.70" stroke="rgb(193,193,193)" stroke-width="0.58"/>
<line x1="185.05" y1="292.40" x2="185.05" y2="305.70" stroke="rgb(164,164,164)" stroke-width="0.64"/>
<line x1="139.09" y1="292.40" x2="139.09" y2="305.70" stroke="rgb(138,138,138)" stroke-width="0.52"/>
<line x1="136.45" y1="292.40" x2="136.45" y2="305.70" stroke="rgb(86,86,86)" stroke-width="0.96"/>
<line x1="145.23" y1="292.40" x2="145.23" y2="305.70" stroke="rgb(117,117,117)" stroke-width="0.41"/>
<line x1="151.97" y1="292.40" x2="151.97" y2="305.70" stroke="rgb(136,136,136)" stroke-width="0.57"/>
<line x1="150.64" y1="292.40" x2="150.64" y2="305.70" stroke="rgb(209,209,209)" stroke-width="0.59"/>
<line x1="121.09" y1="292.40" x2="121.09" y2="305.70" stroke="rgb(98,98,98)" stroke-width="0.86"/>
<line x1="144.76" y1="292.40" x2="144.76" y2="305.70" stroke="rgb(189,189,189)" stroke-width="0.52"/>
<line x1="147.04" y1="292.40" x2="147.04" y2="305.70" stroke="rgb(121,121,121)" stroke-width="1.01"/>
<line x1="137.67" y1="292.40" x2="137.67" y2="305.70" stroke="rgb(170,170,170)" stroke-width="0.63"/>
<line x1="146.60" y1="292.40" x2="146.60" y2="305.70" stroke="rgb(213,213,213)" stroke-width="0.62"/>
<line x1="128.59" y1="292.40" x2="128.59" y2="305.70" stroke="rgb(89,89,89)" stroke-width="0.37"/>
<line x1="142.77" y1="292.40" x2="142.77" y2="305.70" stroke="rgb(207,207,207)" stroke-width="1.01"/>
<line x1="137.07" y1="292.40" x2="137.07" y2="305.70" stroke="rgb(92,92,92)" stroke-width="0.59"/>
<line x1="192.43" y1="292.40" x2="192.43" y2="305.70" stroke="rgb(91,91,91)" stroke-width="0.5"/>
<line x1="134.16" y1="292.40" x2="134.16" y2="305.70" stroke="rgb(107,107,107)" stroke-width="0.61"/>
<line x1="133.77" y1="292.40" x2="133.77" y2="305.70" stroke="rgb(161,161,161)" stroke-width="0.6"/>
<line x1="144.67" y1="292.40" x2="144.67" y2="305.70" stroke="rgb(79,79,79)" stroke-width="0.46"/>
<line x1="179.71" y1="292.40" x2="179.71" y2="305.70" stroke="rgb(148,148,148)" stroke-width="0.98"/>
<line x1="141.67" y1="292.40" x2="141.67" y2="305.70" stroke="rgb(161,161,161)" stroke-width="0.65"/>
<line x1="139.84" y1="292.40" x2="139.84" y2="305.70" stroke="rgb(159,159,159)" stroke-width="0.79"/>
<line x1="151.73" y1="292.40" x2="151.73" y2="305.70" stroke="rgb(148,148,148)" stroke-width="0.38"/>
<line x1="121.84" y1="292.40" x2="121.84" y2="305.70" stroke="rgb(89,89,89)" stroke-width="1.05"/>
<line x1="119.17" y1="292.40" x2="119.17" y2="305.70" stroke="rgb(189,189,189)" stroke-width="0.36"/>
<line x1="121.64" y1="292.40" x2="121.64" y2="305.70" stroke="rgb(95,95,95)" stroke-width="0.46"/>
<line x1="170.30" y1="292.40" x2="170.30" y2="305.70" stroke="rgb(215,215,215)" stroke-width="0.84"/>
<line x1="116.79" y1="292.40" x2="116.79" y2="305.70" stroke="rgb(106,106,106)" stroke-width="0.71"/>
<line x1="160.72" y1="292.40" x2="160.72" y2="305.70" stroke="rgb(145,145,145)" stroke-width="0.4"/>
<line x1="129.73" y1="292.40" x2="129.73" y2="305.70" stroke="rgb(193,193,193)" stroke-width="0.74"/>
<line x1="124.58" y1="292.40" x2="124.58" y2="305.70" stroke="rgb(89,89,89)" stroke-width="0.44"/>
<line x1="121.84" y1="292.40" x2="121.84" y2="305.70" stroke="rgb(77,77,77)" stroke-width="0.51"/>
<line x1="145.22" y1="292.40" x2="145.22" y2="305.70" stroke="rgb(198,198,198)" stroke-width="1.03"/>
<line x1="191.64" y1="292.40" x2="191.64" y2="305.70" stroke="rgb(85,85,85)" stroke-width="0.96"/>
<line x1="166.62" y1="292.40" x2="166.62" y2="305.70" stroke="rgb(126,126,126)" stroke-width="0.57"/>
<line x1="149.68" y1="292.40" x2="149.68" y2="305.70" stroke="rgb(129,129,129)" stroke-width="0.95"/>
<line x1="132.27" y1="292.40" x2="132.27" y2="305.70" stroke="rgb(174,174,174)" stroke-width="0.84"/>
<line x1="115.14" y1="292.40" x2="115.14" y2="305.70" stroke="rgb(100,100,100)" stroke-width="0.5"/>
<line x1="116.62" y1="292.40" x2="116.62" y2="305.70" stroke="rgb(193,193,193)" stroke-width="0.98"/>
<line x1="164.12" y1="292.40" x2="164.12" y2="305.70" stroke="rgb(99,99,99)" stroke-width="0.43"/>
<line x1="128.59" y1="292.40" x2="128.59" y2="305.70" stroke="rgb(216,216,216)" stroke-width="1.02"/>
<line x1="152.53" y1="292.40" x2="152.53" y2="305.70" stroke="rgb(101,101,101)" stroke-width="0.97"/>
<line x1="148.11" y1="292.40" x2="148.11" y2="305.70" stroke="rgb(178,178,178)" stroke-width="0.69"/>
<line x1="169.39" y1="292.40" x2="169.39" y2="305.70" stroke="rgb(175,175,175)" stroke-width="0.55"/>
<line x1="191.07" y1="292.40" x2="191.07" y2="305.70" stroke="rgb(119,119,119)" stroke-width="0.75"/>
<line x1="146.36" y1="292.40" x2="146.36" y2="305.70" stroke="rgb(208,208,208)" stroke-width="0.5"/>
<line x1="151.72" y1="292.40" x2="151.72" y2="305.70" stroke="rgb(140,140,140)" stroke-width="0.54"/>
<line x1="128.97" y1="292.40" x2="128.97" y2="305.70" stroke="rgb(98,98,98)" stroke-width="0.7"/>
<line x1="127.21" y1="292.40" x2="127.21" y2="305.70" stroke="rgb(199,199,199)" stroke-width="0.52"/>
</g>
<rect x="112.30" y="306.00" width="86.00" height="3.10" fill="url(#rwb)"/>
<line x1="110.80" y1="258.60" x2="111.70" y2="258.60" stroke="#666" stroke-width="0.3"/>
<text x="109.70" y="258.60" font-size="2.6" fill="#444" text-anchor="middle" transform="rotate(-90 109.70 258.60)">0.3</text>
<line x1="110.80" y1="269.40" x2="111.70" y2="269.40" stroke="#666" stroke-width="0.3"/>
<text x="109.70" y="269.40" font-size="2.6" fill="#444" text-anchor="middle" transform="rotate(-90 109.70 269.40)">0.2</text>
<line x1="110.80" y1="278.40" x2="111.70" y2="278.40" stroke="#666" stroke-width="0.3"/>
<text x="109.70" y="278.40" font-size="2.6" fill="#444" text-anchor="middle" transform="rotate(-90 109.70 278.40)">0.1</text>
<line x1="110.80" y1="288.40" x2="111.70" y2="288.40" stroke="#666" stroke-width="0.3"/>
<text x="109.70" y="288.40" font-size="2.6" fill="#444" text-anchor="middle" transform="rotate(-90 109.70 288.40)">0.0</text>
<text x="105.10" y="273.00" font-size="2.7" fill="#555" text-anchor="middle" transform="rotate(-90 105.10 273.00)">Enrichment score (ES)</text>
<text x="197.20" y="255.90" font-size="2.4" text-anchor="end" fill="#444">Nominal p-value: 0</text>
<text x="197.20" y="258.70" font-size="2.4" text-anchor="end" fill="#444">FDR: 0.0000</text>
<text x="197.20" y="261.50" font-size="2.4" text-anchor="end" fill="#444">ES: 0.3416</text>
<text x="197.20" y="264.30" font-size="2.4" text-anchor="end" fill="#444">Normalized ES: 1.2411</text>
<polyline points="111.80,288.61 112.40,279.03 113.50,270.59 114.20,269.03 114.90,267.45 115.90,267.61 116.90,267.18 118.30,265.58 119.15,265.06 120.00,265.09 120.85,264.49 121.70,264.61 122.63,264.69 123.57,264.61 124.50,264.83 125.50,264.23 126.50,263.19 127.55,263.79 128.60,264.31 129.45,263.66 130.30,263.76 131.15,263.40 132.00,263.24 132.70,260.13 133.40,257.22 134.30,258.18 135.20,258.65 136.10,258.86 136.80,258.97 137.50,259.39 138.20,260.04 138.90,260.15 139.80,260.28 140.70,259.70 141.60,259.09 142.30,259.69 143.00,259.76 143.70,260.44 144.40,260.71 145.10,260.71 145.95,260.70 146.80,260.64 147.65,260.61 148.50,260.63 149.40,259.64 150.30,259.54 151.20,259.37 151.90,259.58 152.60,260.20 153.30,260.27 154.00,261.25 154.70,261.42 155.52,261.13 156.34,261.51 157.16,261.27 157.98,261.19 158.80,261.39 159.56,261.86 160.31,262.62 161.07,263.79 161.82,264.38 162.58,264.61 163.33,265.86 164.09,266.04 164.84,266.97 165.60,268.08 166.37,268.57 167.13,269.04 167.90,269.78 168.67,270.48 169.43,270.98 170.20,272.28 170.97,272.31 171.73,273.26 172.50,274.17 173.27,274.46 174.03,275.40 174.80,275.42 175.57,276.47 176.33,276.94 177.10,277.32 177.87,278.01 178.63,278.23 179.40,279.03 180.17,279.69 180.94,280.18 181.71,280.84 182.49,281.69 183.26,282.16 184.03,282.62 184.80,283.77 185.50,284.00 186.20,284.71 186.90,285.48 187.60,285.61 188.30,286.07 189.15,286.36 190.00,286.91 190.85,286.98 191.70,287.13 192.40,286.97 193.10,287.00 193.80,286.23 194.70,286.47 195.60,286.93 196.50,286.88 197.55,287.44 198.60,288.40" fill="none" stroke="#f43a30" stroke-width="1.15" stroke-linejoin="round"/>
<text x="111.90" y="316.10" font-size="6.5" fill="#222" stroke="#222" stroke-width="0.12">EXE</text>
<text x="199.60" y="316.10" font-size="6.5" text-anchor="end" fill="#222" stroke="#222" stroke-width="0.12">SED</text>
<text x="260.20" y="249.60" font-size="6.6" text-anchor="middle" stroke="#111" stroke-width="0.12">GO: lipid metabolic process</text>
<rect x="216.10" y="252.60" width="88.20" height="56.80" fill="#fff" stroke="#9a9a9a" stroke-width="0.5"/>
<line x1="216.10" y1="292.10" x2="304.30" y2="292.10" stroke="#9a9a9a" stroke-width="0.5"/>
<line x1="216.10" y1="258.40" x2="304.30" y2="258.40" stroke="#cfcfcf" stroke-width="0.35" stroke-dasharray="1.2,0.8"/>
<g>
<line x1="271.09" y1="292.40" x2="271.09" y2="305.70" stroke="rgb(71,71,71)" stroke-width="0.98"/>
<line x1="239.36" y1="292.40" x2="239.36" y2="305.70" stroke="rgb(219,219,219)" stroke-width="0.7"/>
<line x1="289.34" y1="292.40" x2="289.34" y2="305.70" stroke="rgb(165,165,165)" stroke-width="0.46"/>
<line x1="275.04" y1="292.40" x2="275.04" y2="305.70" stroke="rgb(183,183,183)" stroke-width="0.79"/>
<line x1="242.99" y1="292.40" x2="242.99" y2="305.70" stroke="rgb(199,199,199)" stroke-width="0.7"/>
<line x1="293.01" y1="292.40" x2="293.01" y2="305.70" stroke="rgb(90,90,90)" stroke-width="0.51"/>
<line x1="300.51" y1="292.40" x2="300.51" y2="305.70" stroke="rgb(163,163,163)" stroke-width="0.58"/>
<line x1="260.83" y1="292.40" x2="260.83" y2="305.70" stroke="rgb(122,122,122)" stroke-width="0.79"/>
<line x1="275.03" y1="292.40" x2="275.03" y2="305.70" stroke="rgb(199,199,199)" stroke-width="1.07"/>
<line x1="295.25" y1="292.40" x2="295.25" y2="305.70" stroke="rgb(177,177,177)" stroke-width="0.51"/>
<line x1="288.92" y1="292.40" x2="288.92" y2="305.70" stroke="rgb(112,112,112)" stroke-width="0.4"/>
<line x1="252.45" y1="292.40" x2="252.45" y2="305.70" stroke="rgb(114,114,114)" stroke-width="0.93"/>
<line x1="292.48" y1="292.40" x2="292.48" y2="305.70" stroke="rgb(162,162,162)" stroke-width="0.38"/>
<line x1="279.12" y1="292.40" x2="279.12" y2="305.70" stroke="rgb(202,202,202)" stroke-width="1.09"/>
<line x1="243.72" y1="292.40" x2="243.72" y2="305.70" stroke="rgb(159,159,159)" stroke-width="0.37"/>
<line x1="269.77" y1="292.40" x2="269.77" y2="305.70" stroke="rgb(76,76,76)" stroke-width="1.0"/>
<line x1="294.55" y1="292.40" x2="294.55" y2="305.70" stroke="rgb(139,139,139)" stroke-width="0.74"/>
<line x1="272.66" y1="292.40" x2="272.66" y2="305.70" stroke="rgb(153,153,153)" stroke-width="0.82"/>
<line x1="298.36" y1="292.40" x2="298.36" y2="305.70" stroke="rgb(134,134,134)" stroke-width="0.89"/>
<line x1="237.48" y1="292.40" x2="237.48" y2="305.70" stroke="rgb(216,216,216)" stroke-width="0.74"/>
<line x1="264.39" y1="292.40" x2="264.39" y2="305.70" stroke="rgb(132,132,132)" stroke-width="0.78"/>
<line x1="271.65" y1="292.40" x2="271.65" y2="305.70" stroke="rgb(164,164,164)" stroke-width="0.7"/>
<line x1="275.73" y1="292.40" x2="275.73" y2="305.70" stroke="rgb(176,176,176)" stroke-width="0.9"/>
<line x1="218.82" y1="292.40" x2="218.82" y2="305.70" stroke="rgb(171,171,171)" stroke-width="1.07"/>
<line x1="268.23" y1="292.40" x2="268.23" y2="305.70" stroke="rgb(124,124,124)" stroke-width="0.58"/>
<line x1="242.91" y1="292.40" x2="242.91" y2="305.70" stroke="rgb(185,185,185)" stroke-width="0.37"/>
<line x1="243.75" y1="292.40" x2="243.75" y2="305.70" stroke="rgb(190,190,190)" stroke-width="0.53"/>
<line x1="277.35" y1="292.40" x2="277.35" y2="305.70" stroke="rgb(118,118,118)" stroke-width="0.6"/>
<line x1="289.08" y1="292.40" x2="289.08" y2="305.70" stroke="rgb(198,198,198)" stroke-width="0.48"/>
<line x1="293.53" y1="292.40" x2="293.53" y2="305.70" stroke="rgb(103,103,103)" stroke-width="0.44"/>
<line x1="262.77" y1="292.40" x2="262.77" y2="305.70" stroke="rgb(191,191,191)" stroke-width="0.98"/>
<line x1="232.80" y1="292.40" x2="232.80" y2="305.70" stroke="rgb(191,191,191)" stroke-width="0.83"/>
<line x1="286.72" y1="292.40" x2="286.72" y2="305.70" stroke="rgb(89,89,89)" stroke-width="0.57"/>
<line x1="285.65" y1="292.40" x2="285.65" y2="305.70" stroke="rgb(121,121,121)" stroke-width="0.66"/>
<line x1="253.25" y1="292.40" x2="253.25" y2="305.70" stroke="rgb(208,208,208)" stroke-width="0.47"/>
<line x1="297.21" y1="292.40" x2="297.21" y2="305.70" stroke="rgb(181,181,181)" stroke-width="0.98"/>
<line x1="274.31" y1="292.40" x2="274.31" y2="305.70" stroke="rgb(113,113,113)" stroke-width="0.61"/>
<line x1="236.60" y1="292.40" x2="236.60" y2="305.70" stroke="rgb(158,158,158)" stroke-width="0.57"/>
<line x1="287.06" y1="292.40" x2="287.06" y2="305.70" stroke="rgb(205,205,205)" stroke-width="0.87"/>
<line x1="296.91" y1="292.40" x2="296.91" y2="305.70" stroke="rgb(204,204,204)" stroke-width="0.78"/>
<line x1="231.78" y1="292.40" x2="231.78" y2="305.70" stroke="rgb(169,169,169)" stroke-width="0.74"/>
<line x1="269.91" y1="292.40" x2="269.91" y2="305.70" stroke="rgb(107,107,107)" stroke-width="1.0"/>
<line x1="247.37" y1="292.40" x2="247.37" y2="305.70" stroke="rgb(150,150,150)" stroke-width="0.96"/>
<line x1="296.72" y1="292.40" x2="296.72" y2="305.70" stroke="rgb(193,193,193)" stroke-width="0.36"/>
<line x1="253.53" y1="292.40" x2="253.53" y2="305.70" stroke="rgb(186,186,186)" stroke-width="0.35"/>
<line x1="221.65" y1="292.40" x2="221.65" y2="305.70" stroke="rgb(88,88,88)" stroke-width="0.4"/>
<line x1="301.31" y1="292.40" x2="301.31" y2="305.70" stroke="rgb(82,82,82)" stroke-width="0.73"/>
<line x1="244.26" y1="292.40" x2="244.26" y2="305.70" stroke="rgb(122,122,122)" stroke-width="0.84"/>
<line x1="267.70" y1="292.40" x2="267.70" y2="305.70" stroke="rgb(98,98,98)" stroke-width="0.6"/>
<line x1="278.91" y1="292.40" x2="278.91" y2="305.70" stroke="rgb(81,81,81)" stroke-width="0.48"/>
<line x1="284.68" y1="292.40" x2="284.68" y2="305.70" stroke="rgb(190,190,190)" stroke-width="0.82"/>
<line x1="254.28" y1="292.40" x2="254.28" y2="305.70" stroke="rgb(144,144,144)" stroke-width="0.88"/>
<line x1="256.81" y1="292.40" x2="256.81" y2="305.70" stroke="rgb(150,150,150)" stroke-width="0.87"/>
<line x1="298.00" y1="292.40" x2="298.00" y2="305.70" stroke="rgb(204,204,204)" stroke-width="0.94"/>
<line x1="285.53" y1="292.40" x2="285.53" y2="305.70" stroke="rgb(180,180,180)" stroke-width="0.77"/>
<line x1="217.32" y1="292.40" x2="217.32" y2="305.70" stroke="rgb(186,186,186)" stroke-width="0.38"/>
<line x1="224.85" y1="292.40" x2="224.85" y2="305.70" stroke="rgb(202,202,202)" stroke-width="0.48"/>
<line x1="299.38" y1="292.40" x2="299.38" y2="305.70" stroke="rgb(189,189,189)" stroke-width="0.38"/>
<line x1="283.36" y1="292.40" x2="283.36" y2="305.70" stroke="rgb(177,177,177)" stroke-width="0.43"/>
<line x1="237.87" y1="292.40" x2="237.87" y2="305.70" stroke="rgb(107,107,107)" stroke-width="0.81"/>
<line x1="282.16" y1="292.40" x2="282.16" y2="305.70" stroke="rgb(125,125,125)" stroke-width="0.65"/>
<line x1="247.23" y1="292.40" x2="247.23" y2="305.70" stroke="rgb(82,82,82)" stroke-width="0.73"/>
<line x1="301.17" y1="292.40" x2="301.17" y2="305.70" stroke="rgb(182,182,182)" stroke-width="0.47"/>
<line x1="275.26" y1="292.40" x2="275.26" y2="305.70" stroke="rgb(142,142,142)" stroke-width="0.83"/>
<line x1="294.61" y1="292.40" x2="294.61" y2="305.70" stroke="rgb(84,84,84)" stroke-width="0.91"/>
<line x1="296.28" y1="292.40" x2="296.28" y2="305.70" stroke="rgb(136,136,136)" stroke-width="0.89"/>
<line x1="233.02" y1="292.40" x2="233.02" y2="305.70" stroke="rgb(99,99,99)" stroke-width="0.79"/>
<line x1="244.17" y1="292.40" x2="244.17" y2="305.70" stroke="rgb(173,173,173)" stroke-width="1.07"/>
<line x1="267.53" y1="292.40" x2="267.53" y2="305.70" stroke="rgb(102,102,102)" stroke-width="0.37"/>
<line x1="258.42" y1="292.40" x2="258.42" y2="305.70" stroke="rgb(95,95,95)" stroke-width="0.62"/>
<line x1="288.05" y1="292.40" x2="288.05" y2="305.70" stroke="rgb(142,142,142)" stroke-width="0.89"/>
<line x1="291.09" y1="292.40" x2="291.09" y2="305.70" stroke="rgb(180,180,180)" stroke-width="1.07"/>
<line x1="257.38" y1="292.40" x2="257.38" y2="305.70" stroke="rgb(105,105,105)" stroke-width="0.89"/>
<line x1="290.85" y1="292.40" x2="290.85" y2="305.70" stroke="rgb(98,98,98)" stroke-width="0.54"/>
<line x1="244.04" y1="292.40" x2="244.04" y2="305.70" stroke="rgb(179,179,179)" stroke-width="0.41"/>
<line x1="242.17" y1="292.40" x2="242.17" y2="305.70" stroke="rgb(157,157,157)" stroke-width="0.86"/>
<line x1="254.68" y1="292.40" x2="254.68" y2="305.70" stroke="rgb(101,101,101)" stroke-width="0.79"/>
<line x1="299.63" y1="292.40" x2="299.63" y2="305.70" stroke="rgb(151,151,151)" stroke-width="0.44"/>
<line x1="295.60" y1="292.40" x2="295.60" y2="305.70" stroke="rgb(211,211,211)" stroke-width="0.63"/>
<line x1="283.79" y1="292.40" x2="283.79" y2="305.70" stroke="rgb(114,114,114)" stroke-width="0.86"/>
</g>
<rect x="216.70" y="306.00" width="86.30" height="3.10" fill="url(#rwb2)"/>
<line x1="215.20" y1="258.60" x2="216.10" y2="258.60" stroke="#666" stroke-width="0.3"/>
<text x="214.10" y="258.60" font-size="2.6" fill="#444" text-anchor="middle" transform="rotate(-90 214.10 258.60)">0.0</text>
<line x1="215.20" y1="268.50" x2="216.10" y2="268.50" stroke="#666" stroke-width="0.3"/>
<text x="214.10" y="268.50" font-size="2.6" fill="#444" text-anchor="middle" transform="rotate(-90 214.10 268.50)">-0.1</text>
<line x1="215.20" y1="277.60" x2="216.10" y2="277.60" stroke="#666" stroke-width="0.3"/>
<text x="214.10" y="277.60" font-size="2.6" fill="#444" text-anchor="middle" transform="rotate(-90 214.10 277.60)">-0.2</text>
<line x1="215.20" y1="287.10" x2="216.10" y2="287.10" stroke="#666" stroke-width="0.3"/>
<text x="214.10" y="287.10" font-size="2.6" fill="#444" text-anchor="middle" transform="rotate(-90 214.10 287.10)">-0.3</text>
<text x="209.50" y="273.00" font-size="2.7" fill="#555" text-anchor="middle" transform="rotate(-90 209.50 273.00)">Enrichment score (ES)</text>
<text x="216.80" y="283.40" font-size="2.4" fill="#444">Nominal p-value: 0.002</text>
<text x="216.80" y="286.20" font-size="2.4" fill="#444">FDR: 0.024</text>
<text x="216.80" y="289.00" font-size="2.4" fill="#444">ES: -0.3136</text>
<text x="216.80" y="291.80" font-size="2.4" fill="#444">Normalized ES: -1.6638</text>
<polyline points="216.10,258.08 216.92,258.92 217.74,260.23 218.56,260.78 219.38,262.07 220.20,262.91 220.94,263.43 221.68,264.49 222.42,264.90 223.16,265.91 223.90,266.40 224.73,264.51 225.57,262.85 226.40,261.23 227.20,261.19 228.00,261.71 228.80,262.44 229.60,263.11 230.40,263.30 231.20,263.63 232.02,264.73 232.84,264.78 233.66,266.05 234.48,266.35 235.30,266.95 236.60,265.93 237.40,266.80 238.20,267.89 239.00,268.18 239.80,269.19 240.60,269.96 241.40,270.51 242.20,271.43 243.00,271.89 243.80,272.69 244.60,273.59 245.40,274.73 246.20,275.35 246.99,276.06 247.77,277.03 248.56,277.72 249.34,278.40 250.13,279.53 250.91,280.25 251.70,280.72 252.50,281.47 253.30,281.95 254.10,282.71 254.90,283.13 255.70,283.33 256.50,284.34 257.30,283.57 258.10,283.61 258.90,283.68 259.70,283.09 260.50,283.16 261.30,282.68 262.14,283.32 262.98,283.59 263.82,283.65 264.66,284.06 265.50,283.87 266.35,284.49 267.20,284.77 268.05,285.11 268.90,285.37 269.72,285.76 270.54,285.95 271.36,285.74 272.18,285.99 273.00,285.69 273.70,286.57 274.40,286.97 275.10,287.65 275.95,286.60 276.80,285.30 277.65,284.45 278.50,283.72 279.35,283.72 280.20,284.47 281.05,284.72 281.90,285.13 282.60,284.29 283.30,283.99 284.00,282.74 284.70,282.02 285.70,282.62 286.70,283.46 287.40,282.33 288.10,282.01 288.80,281.51 289.50,281.17 290.40,280.66 291.30,280.22 292.20,279.34 292.90,277.89 293.60,276.30 294.30,275.12 295.00,273.62 296.00,269.66 297.00,266.27 297.70,264.59 298.40,262.86 299.10,261.31 299.80,259.66 300.80,258.08 301.80,256.55 302.85,257.49 303.90,258.20" fill="none" stroke="#72ea3a" stroke-width="1.15" stroke-linejoin="round"/>
<text x="216.30" y="316.10" font-size="6.5" fill="#222" stroke="#222" stroke-width="0.12">EXE</text>
<text x="304.30" y="316.10" font-size="6.5" text-anchor="end" fill="#222" stroke="#222" stroke-width="0.12">SED</text>
<text x="362.35" y="249.60" font-size="6.6" text-anchor="middle" stroke="#111" stroke-width="0.12">GO: fatty acid metabolic process</text>
<rect x="318.00" y="252.60" width="88.70" height="56.80" fill="#fff" stroke="#9a9a9a" stroke-width="0.5"/>
<line x1="318.00" y1="292.10" x2="406.70" y2="292.10" stroke="#9a9a9a" stroke-width="0.5"/>
<line x1="318.00" y1="259.80" x2="406.70" y2="259.80" stroke="#cfcfcf" stroke-width="0.35" stroke-dasharray="1.2,0.8"/>
<g>
<line x1="339.36" y1="292.40" x2="339.36" y2="305.70" stroke="rgb(129,129,129)" stroke-width="0.47"/>
<line x1="398.75" y1="292.40" x2="398.75" y2="305.70" stroke="rgb(184,184,184)" stroke-width="0.52"/>
<line x1="365.54" y1="292.40" x2="365.54" y2="305.70" stroke="rgb(95,95,95)" stroke-width="0.43"/>
<line x1="391.00" y1="292.40" x2="391.00" y2="305.70" stroke="rgb(190,190,190)" stroke-width="0.5"/>
<line x1="395.45" y1="292.40" x2="395.45" y2="305.70" stroke="rgb(160,160,160)" stroke-width="0.85"/>
<line x1="362.87" y1="292.40" x2="362.87" y2="305.70" stroke="rgb(141,141,141)" stroke-width="0.42"/>
<line x1="400.20" y1="292.40" x2="400.20" y2="305.70" stroke="rgb(152,152,152)" stroke-width="0.58"/>
<line x1="397.96" y1="292.40" x2="397.96" y2="305.70" stroke="rgb(202,202,202)" stroke-width="0.99"/>
<line x1="363.08" y1="292.40" x2="363.08" y2="305.70" stroke="rgb(159,159,159)" stroke-width="0.67"/>
<line x1="332.85" y1="292.40" x2="332.85" y2="305.70" stroke="rgb(191,191,191)" stroke-width="0.38"/>
<line x1="359.85" y1="292.40" x2="359.85" y2="305.70" stroke="rgb(219,219,219)" stroke-width="0.5"/>
<line x1="354.75" y1="292.40" x2="354.75" y2="305.70" stroke="rgb(164,164,164)" stroke-width="0.56"/>
<line x1="397.57" y1="292.40" x2="397.57" y2="305.70" stroke="rgb(79,79,79)" stroke-width="0.52"/>
<line x1="385.45" y1="292.40" x2="385.45" y2="305.70" stroke="rgb(105,105,105)" stroke-width="0.6"/>
<line x1="402.94" y1="292.40" x2="402.94" y2="305.70" stroke="rgb(131,131,131)" stroke-width="1.06"/>
<line x1="344.36" y1="292.40" x2="344.36" y2="305.70" stroke="rgb(136,136,136)" stroke-width="0.45"/>
<line x1="347.66" y1="292.40" x2="347.66" y2="305.70" stroke="rgb(76,76,76)" stroke-width="0.48"/>
<line x1="387.06" y1="292.40" x2="387.06" y2="305.70" stroke="rgb(113,113,113)" stroke-width="0.42"/>
<line x1="404.31" y1="292.40" x2="404.31" y2="305.70" stroke="rgb(101,101,101)" stroke-width="0.39"/>
<line x1="323.61" y1="292.40" x2="323.61" y2="305.70" stroke="rgb(171,171,171)" stroke-width="0.46"/>
<line x1="386.20" y1="292.40" x2="386.20" y2="305.70" stroke="rgb(218,218,218)" stroke-width="0.71"/>
<line x1="391.18" y1="292.40" x2="391.18" y2="305.70" stroke="rgb(74,74,74)" stroke-width="0.54"/>
<line x1="339.91" y1="292.40" x2="339.91" y2="305.70" stroke="rgb(104,104,104)" stroke-width="1.0"/>
<line x1="331.14" y1="292.40" x2="331.14" y2="305.70" stroke="rgb(209,209,209)" stroke-width="0.77"/>
<line x1="405.08" y1="292.40" x2="405.08" y2="305.70" stroke="rgb(205,205,205)" stroke-width="0.84"/>
<line x1="387.68" y1="292.40" x2="387.68" y2="305.70" stroke="rgb(144,144,144)" stroke-width="0.42"/>
<line x1="388.44" y1="292.40" x2="388.44" y2="305.70" stroke="rgb(192,192,192)" stroke-width="0.75"/>
<line x1="375.83" y1="292.40" x2="375.83" y2="305.70" stroke="rgb(110,110,110)" stroke-width="1.04"/>
<line x1="402.09" y1="292.40" x2="402.09" y2="305.70" stroke="rgb(215,215,215)" stroke-width="1.07"/>
<line x1="377.01" y1="292.40" x2="377.01" y2="305.70" stroke="rgb(204,204,204)" stroke-width="0.45"/>
<line x1="403.16" y1="292.40" x2="403.16" y2="305.70" stroke="rgb(79,79,79)" stroke-width="0.48"/>
<line x1="374.13" y1="292.40" x2="374.13" y2="305.70" stroke="rgb(181,181,181)" stroke-width="1.05"/>
<line x1="337.83" y1="292.40" x2="337.83" y2="305.70" stroke="rgb(208,208,208)" stroke-width="0.36"/>
<line x1="395.14" y1="292.40" x2="395.14" y2="305.70" stroke="rgb(191,191,191)" stroke-width="0.94"/>
<line x1="395.26" y1="292.40" x2="395.26" y2="305.70" stroke="rgb(201,201,201)" stroke-width="0.5"/>
<line x1="377.29" y1="292.40" x2="377.29" y2="305.70" stroke="rgb(203,203,203)" stroke-width="0.93"/>
<line x1="359.87" y1="292.40" x2="359.87" y2="305.70" stroke="rgb(73,73,73)" stroke-width="0.38"/>
<line x1="370.58" y1="292.40" x2="370.58" y2="305.70" stroke="rgb(199,199,199)" stroke-width="0.81"/>
<line x1="385.66" y1="292.40" x2="385.66" y2="305.70" stroke="rgb(71,71,71)" stroke-width="0.98"/>
<line x1="390.88" y1="292.40" x2="390.88" y2="305.70" stroke="rgb(151,151,151)" stroke-width="0.64"/>
<line x1="387.38" y1="292.40" x2="387.38" y2="305.70" stroke="rgb(105,105,105)" stroke-width="0.71"/>
<line x1="402.96" y1="292.40" x2="402.96" y2="305.70" stroke="rgb(87,87,87)" stroke-width="0.82"/>
<line x1="395.91" y1="292.40" x2="395.91" y2="305.70" stroke="rgb(135,135,135)" stroke-width="0.99"/>
<line x1="386.44" y1="292.40" x2="386.44" y2="305.70" stroke="rgb(202,202,202)" stroke-width="0.5"/>
<line x1="334.16" y1="292.40" x2="334.16" y2="305.70" stroke="rgb(144,144,144)" stroke-width="0.6"/>
<line x1="380.69" y1="292.40" x2="380.69" y2="305.70" stroke="rgb(116,116,116)" stroke-width="0.76"/>
<line x1="360.98" y1="292.40" x2="360.98" y2="305.70" stroke="rgb(106,106,106)" stroke-width="0.99"/>
<line x1="404.66" y1="292.40" x2="404.66" y2="305.70" stroke="rgb(171,171,171)" stroke-width="0.81"/>
<line x1="387.33" y1="292.40" x2="387.33" y2="305.70" stroke="rgb(136,136,136)" stroke-width="0.46"/>
<line x1="385.96" y1="292.40" x2="385.96" y2="305.70" stroke="rgb(169,169,169)" stroke-width="0.45"/>
<line x1="325.99" y1="292.40" x2="325.99" y2="305.70" stroke="rgb(191,191,191)" stroke-width="0.48"/>
<line x1="397.36" y1="292.40" x2="397.36" y2="305.70" stroke="rgb(156,156,156)" stroke-width="0.61"/>
<line x1="372.87" y1="292.40" x2="372.87" y2="305.70" stroke="rgb(130,130,130)" stroke-width="1.05"/>
<line x1="347.25" y1="292.40" x2="347.25" y2="305.70" stroke="rgb(73,73,73)" stroke-width="0.37"/>
<line x1="401.49" y1="292.40" x2="401.49" y2="305.70" stroke="rgb(190,190,190)" stroke-width="0.96"/>
<line x1="401.84" y1="292.40" x2="401.84" y2="305.70" stroke="rgb(157,157,157)" stroke-width="0.72"/>
<line x1="396.92" y1="292.40" x2="396.92" y2="305.70" stroke="rgb(116,116,116)" stroke-width="0.52"/>
<line x1="405.59" y1="292.40" x2="405.59" y2="305.70" stroke="rgb(130,130,130)" stroke-width="0.65"/>
<line x1="390.00" y1="292.40" x2="390.00" y2="305.70" stroke="rgb(131,131,131)" stroke-width="0.36"/>
<line x1="379.19" y1="292.40" x2="379.19" y2="305.70" stroke="rgb(124,124,124)" stroke-width="1.06"/>
<line x1="373.08" y1="292.40" x2="373.08" y2="305.70" stroke="rgb(80,80,80)" stroke-width="1.08"/>
<line x1="404.84" y1="292.40" x2="404.84" y2="305.70" stroke="rgb(160,160,160)" stroke-width="0.58"/>
<line x1="396.54" y1="292.40" x2="396.54" y2="305.70" stroke="rgb(92,92,92)" stroke-width="0.53"/>
<line x1="378.09" y1="292.40" x2="378.09" y2="305.70" stroke="rgb(213,213,213)" stroke-width="0.55"/>
<line x1="364.47" y1="292.40" x2="364.47" y2="305.70" stroke="rgb(84,84,84)" stroke-width="0.37"/>
<line x1="346.37" y1="292.40" x2="346.37" y2="305.70" stroke="rgb(79,79,79)" stroke-width="1.09"/>
<line x1="379.94" y1="292.40" x2="379.94" y2="305.70" stroke="rgb(168,168,168)" stroke-width="1.06"/>
<line x1="395.32" y1="292.40" x2="395.32" y2="305.70" stroke="rgb(153,153,153)" stroke-width="0.87"/>
<line x1="381.83" y1="292.40" x2="381.83" y2="305.70" stroke="rgb(145,145,145)" stroke-width="0.47"/>
<line x1="392.34" y1="292.40" x2="392.34" y2="305.70" stroke="rgb(80,80,80)" stroke-width="0.48"/>
<line x1="394.99" y1="292.40" x2="394.99" y2="305.70" stroke="rgb(128,128,128)" stroke-width="0.86"/>
<line x1="393.85" y1="292.40" x2="393.85" y2="305.70" stroke="rgb(128,128,128)" stroke-width="0.67"/>
<line x1="332.08" y1="292.40" x2="332.08" y2="305.70" stroke="rgb(197,197,197)" stroke-width="0.97"/>
<line x1="405.59" y1="292.40" x2="405.59" y2="305.70" stroke="rgb(208,208,208)" stroke-width="1.05"/>
<line x1="391.42" y1="292.40" x2="391.42" y2="305.70" stroke="rgb(86,86,86)" stroke-width="0.81"/>
<line x1="398.21" y1="292.40" x2="398.21" y2="305.70" stroke="rgb(167,167,167)" stroke-width="1.02"/>
<line x1="371.07" y1="292.40" x2="371.07" y2="305.70" stroke="rgb(164,164,164)" stroke-width="0.54"/>
<line x1="393.53" y1="292.40" x2="393.53" y2="305.70" stroke="rgb(116,116,116)" stroke-width="1.02"/>
<line x1="373.24" y1="292.40" x2="373.24" y2="305.70" stroke="rgb(195,195,195)" stroke-width="1.02"/>
<line x1="396.60" y1="292.40" x2="396.60" y2="305.70" stroke="rgb(168,168,168)" stroke-width="0.87"/>
</g>
<rect x="318.60" y="306.00" width="86.80" height="3.10" fill="url(#rwb2)"/>
<line x1="317.10" y1="258.60" x2="318.00" y2="258.60" stroke="#666" stroke-width="0.3"/>
<text x="316.00" y="258.60" font-size="2.6" fill="#444" text-anchor="middle" transform="rotate(-90 316.00 258.60)">0.0</text>
<line x1="317.10" y1="268.50" x2="318.00" y2="268.50" stroke="#666" stroke-width="0.3"/>
<text x="316.00" y="268.50" font-size="2.6" fill="#444" text-anchor="middle" transform="rotate(-90 316.00 268.50)">-0.1</text>
<line x1="317.10" y1="277.60" x2="318.00" y2="277.60" stroke="#666" stroke-width="0.3"/>
<text x="316.00" y="277.60" font-size="2.6" fill="#444" text-anchor="middle" transform="rotate(-90 316.00 277.60)">-0.2</text>
<line x1="317.10" y1="287.10" x2="318.00" y2="287.10" stroke="#666" stroke-width="0.3"/>
<text x="316.00" y="287.10" font-size="2.6" fill="#444" text-anchor="middle" transform="rotate(-90 316.00 287.10)">-0.3</text>
<text x="311.40" y="273.00" font-size="2.7" fill="#555" text-anchor="middle" transform="rotate(-90 311.40 273.00)">Enrichment score (ES)</text>
<text x="318.70" y="283.30" font-size="2.4" fill="#444">Nominal p-value: 0.002</text>
<text x="318.70" y="286.10" font-size="2.4" fill="#444">FDR: 0.024</text>
<text x="318.70" y="288.90" font-size="2.4" fill="#444">ES: -0.3136</text>
<text x="318.70" y="291.70" font-size="2.4" fill="#444">Normalized ES: -1.6638</text>
<polyline points="318.10,259.71 318.92,260.98 319.74,261.16 320.56,262.32 321.38,262.65 322.20,263.52 323.02,264.39 323.84,264.18 324.66,264.82 325.48,265.03 326.30,265.37 327.35,263.20 328.40,260.78 329.20,261.68 330.00,261.61 330.80,262.16 331.60,262.46 332.40,263.09 333.20,263.64 333.97,264.38 334.74,264.42 335.51,264.63 336.29,265.13 337.06,266.04 337.83,265.79 338.60,266.58 339.40,267.10 340.20,267.98 341.00,268.44 341.80,269.37 342.60,269.91 343.40,270.70 344.20,271.68 345.00,272.26 345.80,272.75 346.60,273.50 347.40,274.91 348.20,275.39 348.90,275.87 349.60,277.08 350.30,277.51 351.00,278.30 351.70,279.10 352.40,279.36 353.10,280.10 353.92,280.78 354.74,280.58 355.56,281.35 356.38,281.20 357.20,281.93 358.02,282.16 358.84,282.55 359.66,282.70 360.48,282.68 361.30,282.69 362.30,281.86 363.30,281.32 364.00,281.59 364.70,281.56 365.40,282.42 366.10,282.43 366.80,282.84 367.65,283.08 368.50,283.67 369.35,284.08 370.20,284.89 371.05,285.19 371.90,285.65 372.75,285.96 373.60,286.63 374.44,286.93 375.28,286.69 376.12,287.11 376.96,287.21 377.80,287.81 378.70,286.80 379.60,285.02 380.50,284.19 381.30,284.26 382.10,284.46 382.90,285.39 383.70,285.49 384.50,285.77 385.30,286.35 386.70,282.71 387.60,282.60 388.50,282.40 389.40,282.14 390.10,281.41 390.80,280.35 391.50,279.37 392.20,278.51 393.10,278.06 394.00,277.88 394.90,277.30 395.60,275.35 396.30,272.87 397.00,270.75 398.30,265.44 399.00,263.94 399.70,263.06 400.40,262.30 401.10,261.62 401.90,259.45 402.70,257.27 403.53,257.83 404.37,259.09 405.20,259.60" fill="none" stroke="#72ea3a" stroke-width="1.15" stroke-linejoin="round"/>
<text x="318.20" y="316.10" font-size="6.5" fill="#222" stroke="#222" stroke-width="0.12">EXE</text>
<text x="406.70" y="316.10" font-size="6.5" text-anchor="end" fill="#222" stroke="#222" stroke-width="0.12">SED</text>
<g><path d="M14.90,333.10 C18.80,332.41 21.45,331.49 24.26,330.11 C27.38,328.27 33.62,328.27 36.74,330.11 C39.55,331.49 42.20,332.41 46.10,333.10 C42.20,333.79 39.55,334.71 36.74,336.09 C33.62,337.93 27.38,337.93 24.26,336.09 C21.45,334.71 18.80,333.79 14.90,333.10 Z" fill="#e39ca0" stroke="#dc8a90" stroke-width="0.5"/><ellipse cx="30.50" cy="333.10" rx="6.24" ry="2.76" fill="#f1cdd0" filter="url(#blur1)"/></g>
<g transform="translate(220.50,324.80) scale(1.0)"><path d="M0.1,14.0 L0.8,2.8 Q1.2,0.6 3.2,0.5 L14.4,0.2 L14.6,6.9 Q13.2,9.4 11,10.1 L5,12.2 Z" fill="#db8b7f" stroke="#d46c66" stroke-width="0.6" stroke-linejoin="round"/><path d="M15.6,0.2 L24.4,0.4 L24.2,1.8 Q20,4.5 16,7.2 Z" fill="#db8b7f" stroke="#d46c66" stroke-width="0.6" stroke-linejoin="round"/></g>
<g transform="translate(0.00,0)">
<text x="48.30" y="352.80" font-size="5.2" text-anchor="middle" stroke="#111" stroke-width="0.06">Glucose</text>
<text x="48.90" y="372.00" font-size="5.2" text-anchor="middle" stroke="#111" stroke-width="0.06">Pyruvate</text>
<text x="77.60" y="394.90" font-size="6.0" text-anchor="middle" stroke="#111" stroke-width="0.06" textLength="29.50" lengthAdjust="spacingAndGlyphs">Acetyl-CoA</text>
<text x="130.00" y="343.10" font-size="6.0" text-anchor="middle" stroke="#111" stroke-width="0.06">Fatty acids</text>
<text x="175.90" y="343.10" font-size="6.0" text-anchor="middle" stroke="#111" stroke-width="0.06">Lipoproteins</text>
<text x="130.60" y="373.20" font-size="6.0" text-anchor="middle" stroke="#111" stroke-width="0.06">Fatty acids</text>
<text x="181.80" y="373.10" font-size="5.4" stroke="#111" stroke-width="0.06" textLength="30.00" lengthAdjust="spacingAndGlyphs">Triglycerides</text>
<text x="131.90" y="395.50" font-size="6.0" text-anchor="middle" stroke="#111" stroke-width="0.06" textLength="40.00" lengthAdjust="spacingAndGlyphs">Fatty-acyl-CoA</text>
<text x="166.40" y="419.30" font-size="5.8" text-anchor="middle" stroke="#111" stroke-width="0.06" textLength="40.20" lengthAdjust="spacingAndGlyphs">Trans-enoyl-CoA</text>
<text x="102.30" y="420.20" font-size="5.8" text-anchor="middle" stroke="#111" stroke-width="0.06" textLength="37.00" lengthAdjust="spacingAndGlyphs">β-ketoacyl-CoA</text>
<text x="135.50" y="442.40" font-size="5.8" text-anchor="middle" stroke="#111" stroke-width="0.06" textLength="43.70" lengthAdjust="spacingAndGlyphs">β-hydroxyacyl-CoA</text>
<text x="90.40" y="445.90" font-size="4.8" text-anchor="middle" stroke="#111" stroke-width="0.06">Citrate</text>
<text x="109.00" y="468.90" font-size="4.6" text-anchor="middle" stroke="#111" stroke-width="0.06">Acetyl-CoA</text>
<text x="112.10" y="485.30" font-size="4.6" text-anchor="middle" stroke="#111" stroke-width="0.06">Fatty-acyl-CoA</text>
<text x="164.40" y="485.30" font-size="4.6" text-anchor="middle" stroke="#111" stroke-width="0.06">Triglycerides</text>
<text x="48.5" y="476.0" font-size="4.6" text-anchor="middle" stroke="#111" stroke-width="0.12">FADH<tspan font-size="3.2" dy="1">2</tspan><tspan dy="-1">/NADH</tspan></text>
<line x1="48.30" y1="354.60" x2="48.30" y2="365.60" stroke="#333" stroke-width="0.45"/>
<path d="M48.30,366.60 L47.16,364.51 L49.44,364.51 Z" fill="#333"/>
<line x1="50.80" y1="374.60" x2="65.55" y2="387.54" stroke="#333" stroke-width="0.45"/>
<path d="M66.30,388.20 L63.98,387.68 L65.48,385.96 Z" fill="#333"/>
<line x1="130.00" y1="344.50" x2="130.00" y2="365.00" stroke="#222" stroke-width="0.5"/>
<path d="M130.00,366.00 L128.79,363.79 L131.21,363.79 Z" fill="#222"/>
<line x1="169.60" y1="345.80" x2="139.04" y2="365.26" stroke="#222" stroke-width="0.5"/>
<path d="M138.20,365.80 L139.42,363.59 L140.71,365.63 Z" fill="#222"/>
<line x1="180.60" y1="371.40" x2="150.60" y2="371.40" stroke="#222" stroke-width="0.5"/>
<path d="M149.60,371.40 L151.81,370.19 L151.81,372.61 Z" fill="#222"/>
<line x1="130.00" y1="374.60" x2="130.00" y2="389.00" stroke="#222" stroke-width="0.5"/>
<path d="M130.00,390.00 L128.79,387.79 L131.21,387.79 Z" fill="#222"/>
<line x1="48.30" y1="463.30" x2="48.30" y2="470.20" stroke="#222" stroke-width="0.55"/>
<path d="M48.30,471.20 L47.16,469.11 L49.44,469.11 Z" fill="#222"/>
<line x1="48.30" y1="477.60" x2="48.30" y2="485.40" stroke="#222" stroke-width="0.55"/>
<path d="M48.30,486.40 L47.16,484.31 L49.44,484.31 Z" fill="#222"/>
<line x1="110.20" y1="471.20" x2="110.20" y2="477.90" stroke="#222" stroke-width="0.4"/>
<path d="M110.20,478.90 L109.33,477.30 L111.07,477.30 Z" fill="#222"/>
<line x1="128.50" y1="483.70" x2="147.00" y2="483.70" stroke="#333" stroke-width="0.4"/>
<path d="M148.00,483.70 L146.16,484.71 L146.16,482.69 Z" fill="#333"/>
<circle cx="46.80" cy="427.40" r="26.00" fill="none" stroke="#222" stroke-width="0.75"/>
<path d="M37.06,403.29 L35.85,405.04 L34.94,403.22 Z" fill="#222"/>
<path d="M51.76,401.88 L49.79,402.68 L50.02,400.66 Z" fill="#222"/>
<path d="M69.09,414.01 L67.17,413.09 L68.83,411.90 Z" fill="#222"/>
<path d="M72.66,424.68 L71.31,423.04 L73.32,422.66 Z" fill="#222"/>
<path d="M71.66,435.00 L71.07,432.96 L73.06,433.40 Z" fill="#222"/>
<path d="M59.01,450.36 L60.03,448.49 L61.13,450.21 Z" fill="#222"/>
<path d="M40.07,452.51 L42.09,451.85 L41.72,453.85 Z" fill="#222"/>
<path d="M23.84,439.61 L25.71,440.63 L23.99,441.73 Z" fill="#222"/>
<path d="M22.07,419.37 L22.63,421.42 L20.65,420.94 Z" fill="#222"/>
<path d="M75.8,395.8 Q68.2,402 68.6,413.0" stroke="#222" stroke-width="0.6" fill="none"/>
<path d="M68.60,413.60 L67.65,411.70 L69.68,411.77 Z" fill="#222"/>
<path d="M71.6,419.5 Q77,432 86.5,440.6" stroke="#666" stroke-width="0.35" fill="none"/>
<path d="M86.80,440.90 L85.24,440.44 L86.34,439.34 Z" fill="#666"/>
<path d="M92.7,447.9 Q98,458 109,463.5" stroke="#444" stroke-width="0.35" fill="none"/>
<path d="M109.30,463.70 L107.68,463.80 L108.34,462.39 Z" fill="#444"/>
<path d="M100.6,414.0 Q93,398.5 80.2,397.2" stroke="#222" stroke-width="0.65" fill="none"/>
<path d="M79.60,397.20 L81.66,396.30 L81.47,398.45 Z" fill="#222"/>
<path d="M100.6,414.0 Q108,401 127.6,401.0" stroke="#222" stroke-width="0.65" fill="none"/>
<path d="M128.40,401.10 L126.34,402.00 L126.53,399.85 Z" fill="#222"/>
<path d="M136.6,400.4 Q157,402 164.6,414.6" stroke="#222" stroke-width="0.65" fill="none"/>
<path d="M165.00,415.20 L163.19,413.87 L165.14,412.95 Z" fill="#222"/>
<path d="M165.0,421.2 Q160,434 138.0,435.8" stroke="#222" stroke-width="0.65" fill="none"/>
<path d="M137.30,435.80 L139.27,434.72 L139.27,436.88 Z" fill="#222"/>
<path d="M129.0,435.8 Q111,435 103.8,424.6" stroke="#222" stroke-width="0.65" fill="none"/>
<path d="M103.30,424.00 L105.32,425.00 L103.55,426.24 Z" fill="#222"/>
<rect x="37.50" y="392.60" width="15.20" height="6.70" fill="#f5c4c7" stroke="#4a4a4a" stroke-width="0.55" rx="0.8"/>
<text x="45.10" y="397.50" font-size="4.5" text-anchor="middle" fill="#1e1e1e" stroke="#1e1e1e" stroke-width="0.1" font-style="italic">Mdh</text>
<rect x="16.90" y="401.00" width="11.60" height="6.30" fill="#f5c4c7" stroke="#4a4a4a" stroke-width="0.55" rx="0.8"/>
<text x="22.70" y="405.70" font-size="4.5" text-anchor="middle" fill="#1e1e1e" stroke="#1e1e1e" stroke-width="0.1" font-style="italic">Fh</text>
<rect x="71.70" y="403.80" width="12.00" height="6.50" fill="#f5c4c7" stroke="#4a4a4a" stroke-width="0.55" rx="0.8"/>
<text x="77.70" y="408.60" font-size="4.5" text-anchor="middle" fill="#1e1e1e" stroke="#1e1e1e" stroke-width="0.1" font-style="italic">Cs</text>
<rect x="5.30" y="425.40" width="14.10" height="6.60" fill="#f5c4c7" stroke="#4a4a4a" stroke-width="0.55" rx="0.8"/>
<text x="12.35" y="430.25" font-size="4.5" text-anchor="middle" fill="#1e1e1e" stroke="#1e1e1e" stroke-width="0.1" font-style="italic">Sdh</text>
<rect x="53.10" y="423.10" width="16.40" height="6.50" fill="#f5c4c7" stroke="#4a4a4a" stroke-width="0.55" rx="0.8"/>
<text x="61.30" y="427.90" font-size="4.5" text-anchor="middle" fill="#1e1e1e" stroke="#1e1e1e" stroke-width="0.1" font-style="italic">Aco2</text>
<rect x="67.40" y="444.40" width="13.10" height="6.60" fill="#f5c4c7" stroke="#4a4a4a" stroke-width="0.55" rx="0.8"/>
<text x="73.95" y="449.25" font-size="4.5" text-anchor="middle" fill="#1e1e1e" stroke="#1e1e1e" stroke-width="0.1" font-style="italic">Idh</text>
<rect x="37.50" y="455.80" width="20.70" height="6.80" fill="#f5c4c7" stroke="#4a4a4a" stroke-width="0.55" rx="0.8"/>
<text x="47.85" y="460.75" font-size="4.5" text-anchor="middle" fill="#1e1e1e" stroke="#1e1e1e" stroke-width="0.1" font-style="italic">Ogdh</text>
<rect x="9.50" y="487.50" width="14.10" height="6.80" fill="#f5c4c7" stroke="#4a4a4a" stroke-width="0.55" rx="0.8"/>
<text x="16.55" y="492.45" font-size="4.5" text-anchor="middle" font-style="italic" fill="#1a1a1a">C <tspan font-family="Liberation Serif" font-size="4.8">I</tspan></text>
<rect x="25.70" y="487.50" width="13.90" height="6.80" fill="#f5c4c7" stroke="#4a4a4a" stroke-width="0.55" rx="0.8"/>
<text x="32.65" y="492.45" font-size="4.5" text-anchor="middle" font-style="italic" fill="#1a1a1a">C <tspan font-family="Liberation Serif" font-size="4.8">II</tspan></text>
<rect x="41.70" y="487.50" width="13.90" height="6.80" fill="#f5c4c7" stroke="#4a4a4a" stroke-width="0.55" rx="0.8"/>
<text x="48.65" y="492.45" font-size="4.5" text-anchor="middle" font-style="italic" fill="#1a1a1a">C <tspan font-family="Liberation Serif" font-size="4.8">III</tspan></text>
<rect x="57.50" y="487.50" width="14.20" height="6.80" fill="#f5c4c7" stroke="#4a4a4a" stroke-width="0.55" rx="0.8"/>
<text x="64.60" y="492.45" font-size="4.5" text-anchor="middle" font-style="italic" fill="#1a1a1a">C <tspan font-family="Liberation Serif" font-size="4.8">IV</tspan></text>
<rect x="73.80" y="487.50" width="13.70" height="6.80" fill="#f5c4c7" stroke="#4a4a4a" stroke-width="0.55" rx="0.8"/>
<text x="80.65" y="492.45" font-size="4.5" text-anchor="middle" font-style="italic" fill="#1a1a1a">C <tspan font-family="Liberation Serif" font-size="4.8">V</tspan></text>
<rect x="109.50" y="348.60" width="17.90" height="6.30" fill="#f5c4c7" stroke="#4a4a4a" stroke-width="0.55" rx="0.8"/>
<text x="118.45" y="353.30" font-size="4.5" text-anchor="middle" fill="#1e1e1e" stroke="#1e1e1e" stroke-width="0.1" font-style="italic">Fabp</text>
<rect x="109.50" y="357.00" width="17.90" height="6.30" fill="#f5c4c7" stroke="#4a4a4a" stroke-width="0.55" rx="0.8"/>
<text x="118.45" y="361.70" font-size="4.5" text-anchor="middle" fill="#1e1e1e" stroke="#1e1e1e" stroke-width="0.1" font-style="italic">Cd36</text>
<rect x="141.60" y="347.90" width="12.60" height="6.30" fill="#f5c4c7" stroke="#4a4a4a" stroke-width="0.55" rx="0.8"/>
<text x="147.90" y="352.60" font-size="4.5" text-anchor="middle" fill="#1e1e1e" stroke="#1e1e1e" stroke-width="0.1" font-style="italic">Lpl</text>
<rect x="151.70" y="362.70" width="13.70" height="6.60" fill="#f5c4c7" stroke="#4a4a4a" stroke-width="0.55" rx="0.8"/>
<text x="158.55" y="367.55" font-size="4.5" text-anchor="middle" fill="#1e1e1e" stroke="#1e1e1e" stroke-width="0.1" font-style="italic">Atgl</text>
<rect x="167.10" y="362.70" width="13.00" height="6.60" fill="#f5c4c7" stroke="#4a4a4a" stroke-width="0.55" rx="0.8"/>
<text x="173.60" y="367.55" font-size="4.5" text-anchor="middle" fill="#1e1e1e" stroke="#1e1e1e" stroke-width="0.1" font-style="italic">Hsl</text>
<rect x="109.50" y="379.80" width="17.90" height="6.60" fill="#f5c4c7" stroke="#4a4a4a" stroke-width="0.55" rx="0.8"/>
<text x="118.45" y="384.65" font-size="4.5" text-anchor="middle" fill="#1e1e1e" stroke="#1e1e1e" stroke-width="0.1" font-style="italic">Acsl1</text>
<rect x="132.70" y="379.80" width="17.90" height="6.60" fill="#f5c4c7" stroke="#4a4a4a" stroke-width="0.55" rx="0.8"/>
<text x="141.65" y="384.65" font-size="4.5" text-anchor="middle" fill="#1e1e1e" stroke="#1e1e1e" stroke-width="0.1" font-style="italic">Cpt1b</text>
<rect x="152.10" y="379.80" width="16.50" height="6.60" fill="#f5c4c7" stroke="#4a4a4a" stroke-width="0.55" rx="0.8"/>
<text x="160.35" y="384.65" font-size="4.5" text-anchor="middle" fill="#1e1e1e" stroke="#1e1e1e" stroke-width="0.1" font-style="italic">Cact</text>
<rect x="170.70" y="379.80" width="15.80" height="6.60" fill="#f5c4c7" stroke="#4a4a4a" stroke-width="0.55" rx="0.8"/>
<text x="178.60" y="384.65" font-size="4.5" text-anchor="middle" fill="#1e1e1e" stroke="#1e1e1e" stroke-width="0.1" font-style="italic">Cpt2</text>
<rect x="153.50" y="397.60" width="18.70" height="6.00" fill="#f5c4c7" stroke="#4a4a4a" stroke-width="0.55" rx="0.8"/>
<text x="162.85" y="402.15" font-size="4.5" text-anchor="middle" fill="#1e1e1e" stroke="#1e1e1e" stroke-width="0.1" font-style="italic">Acadl</text>
<rect x="165.00" y="405.60" width="21.50" height="6.30" fill="#f5c4c7" stroke="#4a4a4a" stroke-width="0.55" rx="0.8"/>
<text x="175.75" y="410.30" font-size="4.5" text-anchor="middle" fill="#1e1e1e" stroke="#1e1e1e" stroke-width="0.1" font-style="italic">Acadvl</text>
<rect x="160.80" y="427.60" width="18.60" height="6.70" fill="#f5c4c7" stroke="#4a4a4a" stroke-width="0.55" rx="0.8"/>
<text x="170.10" y="432.50" font-size="4.5" text-anchor="middle" fill="#1e1e1e" stroke="#1e1e1e" stroke-width="0.1" font-style="italic">Echs1</text>
<rect x="90.60" y="429.80" width="16.80" height="6.50" fill="#f5c4c7" stroke="#4a4a4a" stroke-width="0.55" rx="0.8"/>
<text x="99.00" y="434.60" font-size="4.5" text-anchor="middle" fill="#1e1e1e" stroke="#1e1e1e" stroke-width="0.1" font-style="italic">Hadh</text>
<rect x="104.60" y="449.90" width="16.70" height="6.20" fill="#f0f0f0" stroke="#4a4a4a" stroke-width="0.55" rx="0.8"/>
<text x="112.95" y="454.55" font-size="4.5" text-anchor="middle" fill="#1e1e1e" stroke="#1e1e1e" stroke-width="0.1" font-style="italic">Acly</text>
<rect x="93.70" y="471.60" width="14.30" height="6.10" fill="#f0f0f0" stroke="#4a4a4a" stroke-width="0.55" rx="0.8"/>
<text x="100.85" y="476.20" font-size="4.5" text-anchor="middle" fill="#1e1e1e" stroke="#1e1e1e" stroke-width="0.1" font-style="italic">Acc</text>
<rect x="128.50" y="474.00" width="17.70" height="6.60" fill="#f0f0f0" stroke="#4a4a4a" stroke-width="0.55" rx="0.8"/>
<text x="137.35" y="478.85" font-size="4.5" text-anchor="middle" fill="#1e1e1e" stroke="#1e1e1e" stroke-width="0.1" font-style="italic">Fasn</text>
</g>
<g transform="translate(208.60,0)">
<text x="48.30" y="352.80" font-size="5.2" text-anchor="middle" stroke="#111" stroke-width="0.06">Glucose</text>
<text x="48.90" y="372.00" font-size="5.2" text-anchor="middle" stroke="#111" stroke-width="0.06">Pyruvate</text>
<text x="77.60" y="394.90" font-size="6.0" text-anchor="middle" stroke="#111" stroke-width="0.06" textLength="29.50" lengthAdjust="spacingAndGlyphs">Acetyl-CoA</text>
<text x="130.00" y="343.10" font-size="6.0" text-anchor="middle" stroke="#111" stroke-width="0.06">Fatty acids</text>
<text x="175.90" y="343.10" font-size="6.0" text-anchor="middle" stroke="#111" stroke-width="0.06">Lipoproteins</text>
<text x="130.60" y="373.20" font-size="6.0" text-anchor="middle" stroke="#111" stroke-width="0.06">Fatty acids</text>
<text x="179.10" y="373.10" font-size="5.4" stroke="#111" stroke-width="0.06" textLength="30.00" lengthAdjust="spacingAndGlyphs">Triglycerides</text>
<text x="131.90" y="395.50" font-size="6.0" text-anchor="middle" stroke="#111" stroke-width="0.06" textLength="40.00" lengthAdjust="spacingAndGlyphs">Fatty-acyl-CoA</text>
<text x="166.40" y="419.30" font-size="5.8" text-anchor="middle" stroke="#111" stroke-width="0.06" textLength="40.20" lengthAdjust="spacingAndGlyphs">Trans-enoyl-CoA</text>
<text x="102.30" y="420.20" font-size="5.8" text-anchor="middle" stroke="#111" stroke-width="0.06" textLength="37.00" lengthAdjust="spacingAndGlyphs">β-ketoacyl-CoA</text>
<text x="135.50" y="442.40" font-size="5.8" text-anchor="middle" stroke="#111" stroke-width="0.06" textLength="43.70" lengthAdjust="spacingAndGlyphs">β-hydroxyacyl-CoA</text>
<text x="90.40" y="445.90" font-size="4.8" text-anchor="middle" stroke="#111" stroke-width="0.06">Citrate</text>
<text x="109.00" y="468.90" font-size="4.6" text-anchor="middle" stroke="#111" stroke-width="0.06">Acetyl-CoA</text>
<text x="112.10" y="485.30" font-size="4.6" text-anchor="middle" stroke="#111" stroke-width="0.06">Fatty-acyl-CoA</text>
<text x="164.40" y="485.30" font-size="4.6" text-anchor="middle" stroke="#111" stroke-width="0.06">Triglycerides</text>
<text x="48.5" y="476.0" font-size="4.6" text-anchor="middle" stroke="#111" stroke-width="0.12">FADH<tspan font-size="3.2" dy="1">2</tspan><tspan dy="-1">/NADH</tspan></text>
<line x1="48.30" y1="354.60" x2="48.30" y2="365.60" stroke="#333" stroke-width="0.45"/>
<path d="M48.30,366.60 L47.16,364.51 L49.44,364.51 Z" fill="#333"/>
<line x1="50.80" y1="374.60" x2="65.55" y2="387.54" stroke="#333" stroke-width="0.45"/>
<path d="M66.30,388.20 L63.98,387.68 L65.48,385.96 Z" fill="#333"/>
<line x1="130.00" y1="344.50" x2="130.00" y2="365.00" stroke="#222" stroke-width="0.5"/>
<path d="M130.00,366.00 L128.79,363.79 L131.21,363.79 Z" fill="#222"/>
<line x1="169.60" y1="345.80" x2="139.04" y2="365.26" stroke="#222" stroke-width="0.5"/>
<path d="M138.20,365.80 L139.42,363.59 L140.71,365.63 Z" fill="#222"/>
<line x1="177.90" y1="371.40" x2="150.60" y2="371.40" stroke="#222" stroke-width="0.5"/>
<path d="M149.60,371.40 L151.81,370.19 L151.81,372.61 Z" fill="#222"/>
<line x1="130.00" y1="374.60" x2="130.00" y2="389.00" stroke="#222" stroke-width="0.5"/>
<path d="M130.00,390.00 L128.79,387.79 L131.21,387.79 Z" fill="#222"/>
<line x1="48.30" y1="463.30" x2="48.30" y2="470.20" stroke="#222" stroke-width="0.55"/>
<path d="M48.30,471.20 L47.16,469.11 L49.44,469.11 Z" fill="#222"/>
<line x1="48.30" y1="477.60" x2="48.30" y2="485.40" stroke="#222" stroke-width="0.55"/>
<path d="M48.30,486.40 L47.16,484.31 L49.44,484.31 Z" fill="#222"/>
<line x1="110.20" y1="471.20" x2="110.20" y2="477.90" stroke="#222" stroke-width="0.4"/>
<path d="M110.20,478.90 L109.33,477.30 L111.07,477.30 Z" fill="#222"/>
<line x1="128.50" y1="483.70" x2="147.00" y2="483.70" stroke="#333" stroke-width="0.4"/>
<path d="M148.00,483.70 L146.16,484.71 L146.16,482.69 Z" fill="#333"/>
<circle cx="46.80" cy="427.40" r="26.00" fill="none" stroke="#222" stroke-width="0.75"/>
<path d="M37.06,403.29 L35.85,405.04 L34.94,403.22 Z" fill="#222"/>
<path d="M51.76,401.88 L49.79,402.68 L50.02,400.66 Z" fill="#222"/>
<path d="M69.09,414.01 L67.17,413.09 L68.83,411.90 Z" fill="#222"/>
<path d="M72.66,424.68 L71.31,423.04 L73.32,422.66 Z" fill="#222"/>
<path d="M71.66,435.00 L71.07,432.96 L73.06,433.40 Z" fill="#222"/>
<path d="M59.01,450.36 L60.03,448.49 L61.13,450.21 Z" fill="#222"/>
<path d="M40.07,452.51 L42.09,451.85 L41.72,453.85 Z" fill="#222"/>
<path d="M23.84,439.61 L25.71,440.63 L23.99,441.73 Z" fill="#222"/>
<path d="M22.07,419.37 L22.63,421.42 L20.65,420.94 Z" fill="#222"/>
<path d="M75.8,395.8 Q68.2,402 68.6,413.0" stroke="#222" stroke-width="0.6" fill="none"/>
<path d="M68.60,413.60 L67.65,411.70 L69.68,411.77 Z" fill="#222"/>
<path d="M71.6,419.5 Q77,432 86.5,440.6" stroke="#666" stroke-width="0.35" fill="none"/>
<path d="M86.80,440.90 L85.24,440.44 L86.34,439.34 Z" fill="#666"/>
<path d="M92.7,447.9 Q98,458 109,463.5" stroke="#444" stroke-width="0.35" fill="none"/>
<path d="M109.30,463.70 L107.68,463.80 L108.34,462.39 Z" fill="#444"/>
<path d="M100.6,414.0 Q93,398.5 80.2,397.2" stroke="#222" stroke-width="0.65" fill="none"/>
<path d="M79.60,397.20 L81.66,396.30 L81.47,398.45 Z" fill="#222"/>
<path d="M100.6,414.0 Q108,401 127.6,401.0" stroke="#222" stroke-width="0.65" fill="none"/>
<path d="M128.40,401.10 L126.34,402.00 L126.53,399.85 Z" fill="#222"/>
<path d="M136.6,400.4 Q157,402 164.6,414.6" stroke="#222" stroke-width="0.65" fill="none"/>
<path d="M165.00,415.20 L163.19,413.87 L165.14,412.95 Z" fill="#222"/>
<path d="M165.0,421.2 Q160,434 138.0,435.8" stroke="#222" stroke-width="0.65" fill="none"/>
<path d="M137.30,435.80 L139.27,434.72 L139.27,436.88 Z" fill="#222"/>
<path d="M129.0,435.8 Q111,435 103.8,424.6" stroke="#222" stroke-width="0.65" fill="none"/>
<path d="M103.30,424.00 L105.32,425.00 L103.55,426.24 Z" fill="#222"/>
<rect x="37.50" y="392.60" width="15.20" height="6.70" fill="#f0f0f0" stroke="#4a4a4a" stroke-width="0.55" rx="0.8"/>
<text x="45.10" y="397.50" font-size="4.5" text-anchor="middle" fill="#1e1e1e" stroke="#1e1e1e" stroke-width="0.1" font-style="italic">Mdh</text>
<rect x="16.90" y="401.00" width="11.60" height="6.30" fill="#f5c4c7" stroke="#4a4a4a" stroke-width="0.55" rx="0.8"/>
<text x="22.70" y="405.70" font-size="4.5" text-anchor="middle" fill="#1e1e1e" stroke="#1e1e1e" stroke-width="0.1" font-style="italic">Fh</text>
<rect x="71.70" y="403.80" width="12.00" height="6.50" fill="#f5c4c7" stroke="#4a4a4a" stroke-width="0.55" rx="0.8"/>
<text x="77.70" y="408.60" font-size="4.5" text-anchor="middle" fill="#1e1e1e" stroke="#1e1e1e" stroke-width="0.1" font-style="italic">Cs</text>
<rect x="5.30" y="425.40" width="14.10" height="6.60" fill="#f0f0f0" stroke="#4a4a4a" stroke-width="0.55" rx="0.8"/>
<text x="12.35" y="430.25" font-size="4.5" text-anchor="middle" fill="#1e1e1e" stroke="#1e1e1e" stroke-width="0.1" font-style="italic">Sdh</text>
<rect x="53.10" y="423.10" width="16.40" height="6.50" fill="#f0f0f0" stroke="#4a4a4a" stroke-width="0.55" rx="0.8"/>
<text x="61.30" y="427.90" font-size="4.5" text-anchor="middle" fill="#1e1e1e" stroke="#1e1e1e" stroke-width="0.1" font-style="italic">Aco2</text>
<rect x="67.40" y="444.40" width="13.10" height="6.60" fill="#f0f0f0" stroke="#4a4a4a" stroke-width="0.55" rx="0.8"/>
<text x="73.95" y="449.25" font-size="4.5" text-anchor="middle" fill="#1e1e1e" stroke="#1e1e1e" stroke-width="0.1" font-style="italic">Idh</text>
<rect x="37.50" y="455.80" width="20.70" height="6.80" fill="#f0f0f0" stroke="#4a4a4a" stroke-width="0.55" rx="0.8"/>
<text x="47.85" y="460.75" font-size="4.5" text-anchor="middle" fill="#1e1e1e" stroke="#1e1e1e" stroke-width="0.1" font-style="italic">Ogdh</text>
<rect x="9.50" y="487.50" width="14.10" height="6.80" fill="#f5c4c7" stroke="#4a4a4a" stroke-width="0.55" rx="0.8"/>
<text x="16.55" y="492.45" font-size="4.5" text-anchor="middle" font-style="italic" fill="#1a1a1a">C <tspan font-family="Liberation Serif" font-size="4.8">I</tspan></text>
<rect x="25.70" y="487.50" width="13.90" height="6.80" fill="#f0f0f0" stroke="#4a4a4a" stroke-width="0.55" rx="0.8"/>
<text x="32.65" y="492.45" font-size="4.5" text-anchor="middle" font-style="italic" fill="#1a1a1a">C <tspan font-family="Liberation Serif" font-size="4.8">II</tspan></text>
<rect x="41.70" y="487.50" width="13.90" height="6.80" fill="#f0f0f0" stroke="#4a4a4a" stroke-width="0.55" rx="0.8"/>
<text x="48.65" y="492.45" font-size="4.5" text-anchor="middle" font-style="italic" fill="#1a1a1a">C <tspan font-family="Liberation Serif" font-size="4.8">III</tspan></text>
<rect x="57.50" y="487.50" width="14.20" height="6.80" fill="#f0f0f0" stroke="#4a4a4a" stroke-width="0.55" rx="0.8"/>
<text x="64.60" y="492.45" font-size="4.5" text-anchor="middle" font-style="italic" fill="#1a1a1a">C <tspan font-family="Liberation Serif" font-size="4.8">IV</tspan></text>
<rect x="73.80" y="487.50" width="13.70" height="6.80" fill="#f0f0f0" stroke="#4a4a4a" stroke-width="0.55" rx="0.8"/>
<text x="80.65" y="492.45" font-size="4.5" text-anchor="middle" font-style="italic" fill="#1a1a1a">C <tspan font-family="Liberation Serif" font-size="4.8">V</tspan></text>
<rect x="109.50" y="348.60" width="17.90" height="6.30" fill="#f5c4c7" stroke="#4a4a4a" stroke-width="0.55" rx="0.8"/>
<text x="118.45" y="353.30" font-size="4.5" text-anchor="middle" fill="#1e1e1e" stroke="#1e1e1e" stroke-width="0.1" font-style="italic">Fabp</text>
<rect x="109.50" y="357.00" width="17.90" height="6.30" fill="#f5c4c7" stroke="#4a4a4a" stroke-width="0.55" rx="0.8"/>
<text x="118.45" y="361.70" font-size="4.5" text-anchor="middle" fill="#1e1e1e" stroke="#1e1e1e" stroke-width="0.1" font-style="italic">Cd36</text>
<rect x="141.60" y="347.90" width="12.60" height="6.30" fill="#bcd8ef" stroke="#4a4a4a" stroke-width="0.55" rx="0.8"/>
<text x="147.90" y="352.60" font-size="4.5" text-anchor="middle" fill="#1e1e1e" stroke="#1e1e1e" stroke-width="0.1" font-style="italic">Lpl</text>
<rect x="149.00" y="362.70" width="13.70" height="6.60" fill="#f5c4c7" stroke="#4a4a4a" stroke-width="0.55" rx="0.8"/>
<text x="155.85" y="367.55" font-size="4.5" text-anchor="middle" fill="#1e1e1e" stroke="#1e1e1e" stroke-width="0.1" font-style="italic">Atgl</text>
<rect x="164.40" y="362.70" width="13.00" height="6.60" fill="#f0f0f0" stroke="#4a4a4a" stroke-width="0.55" rx="0.8"/>
<text x="170.90" y="367.55" font-size="4.5" text-anchor="middle" fill="#1e1e1e" stroke="#1e1e1e" stroke-width="0.1" font-style="italic">Hsl</text>
<rect x="109.50" y="379.80" width="17.90" height="6.60" fill="#f0f0f0" stroke="#4a4a4a" stroke-width="0.55" rx="0.8"/>
<text x="118.45" y="384.65" font-size="4.5" text-anchor="middle" fill="#1e1e1e" stroke="#1e1e1e" stroke-width="0.1" font-style="italic">Acsl1</text>
<rect x="132.70" y="379.80" width="17.90" height="6.60" fill="#f0f0f0" stroke="#4a4a4a" stroke-width="0.55" rx="0.8"/>
<text x="141.65" y="384.65" font-size="4.5" text-anchor="middle" fill="#1e1e1e" stroke="#1e1e1e" stroke-width="0.1" font-style="italic">Cpt1b</text>
<rect x="152.10" y="379.80" width="16.50" height="6.60" fill="#f0f0f0" stroke="#4a4a4a" stroke-width="0.55" rx="0.8"/>
<text x="160.35" y="384.65" font-size="4.5" text-anchor="middle" fill="#1e1e1e" stroke="#1e1e1e" stroke-width="0.1" font-style="italic">Cact</text>
<rect x="170.70" y="379.80" width="15.80" height="6.60" fill="#f0f0f0" stroke="#4a4a4a" stroke-width="0.55" rx="0.8"/>
<text x="178.60" y="384.65" font-size="4.5" text-anchor="middle" fill="#1e1e1e" stroke="#1e1e1e" stroke-width="0.1" font-style="italic">Cpt2</text>
<rect x="153.50" y="397.60" width="18.70" height="6.00" fill="#f5c4c7" stroke="#4a4a4a" stroke-width="0.55" rx="0.8"/>
<text x="162.85" y="402.15" font-size="4.5" text-anchor="middle" fill="#1e1e1e" stroke="#1e1e1e" stroke-width="0.1" font-style="italic">Acadl</text>
<rect x="165.00" y="405.60" width="21.50" height="6.30" fill="#f0f0f0" stroke="#4a4a4a" stroke-width="0.55" rx="0.8"/>
<text x="175.75" y="410.30" font-size="4.5" text-anchor="middle" fill="#1e1e1e" stroke="#1e1e1e" stroke-width="0.1" font-style="italic">Acadvl</text>
<rect x="160.80" y="427.60" width="18.60" height="6.70" fill="#f0f0f0" stroke="#4a4a4a" stroke-width="0.55" rx="0.8"/>
<text x="170.10" y="432.50" font-size="4.5" text-anchor="middle" fill="#1e1e1e" stroke="#1e1e1e" stroke-width="0.1" font-style="italic">Echs1</text>
<rect x="90.60" y="429.80" width="16.80" height="6.50" fill="#f0f0f0" stroke="#4a4a4a" stroke-width="0.55" rx="0.8"/>
<text x="99.00" y="434.60" font-size="4.5" text-anchor="middle" fill="#1e1e1e" stroke="#1e1e1e" stroke-width="0.1" font-style="italic">Hadh</text>
<rect x="104.60" y="449.90" width="16.70" height="6.20" fill="#bcd8ef" stroke="#4a4a4a" stroke-width="0.55" rx="0.8"/>
<text x="112.95" y="454.55" font-size="4.5" text-anchor="middle" fill="#1e1e1e" stroke="#1e1e1e" stroke-width="0.1" font-style="italic">Acly</text>
<rect x="93.70" y="471.60" width="14.30" height="6.10" fill="#bcd8ef" stroke="#4a4a4a" stroke-width="0.55" rx="0.8"/>
<text x="100.85" y="476.20" font-size="4.5" text-anchor="middle" fill="#1e1e1e" stroke="#1e1e1e" stroke-width="0.1" font-style="italic">Acc</text>
<rect x="128.50" y="474.00" width="17.70" height="6.60" fill="#bcd8ef" stroke="#4a4a4a" stroke-width="0.55" rx="0.8"/>
<text x="137.35" y="478.85" font-size="4.5" text-anchor="middle" fill="#1e1e1e" stroke="#1e1e1e" stroke-width="0.1" font-style="italic">Fasn</text>
</g>
<rect x="100.90" y="504.60" width="14.00" height="6.80" fill="#f5c4c7" stroke="#555" stroke-width="0.5" rx="0.8"/>
<text x="118.20" y="509.70" font-size="4.6" fill="#222" stroke="#222" stroke-width="0.14" textLength="45.00" lengthAdjust="spacingAndGlyphs">Significantly increased</text>
<rect x="187.20" y="504.60" width="14.00" height="6.80" fill="#bcd8ef" stroke="#555" stroke-width="0.5" rx="0.8"/>
<text x="204.50" y="509.70" font-size="4.6" fill="#222" stroke="#222" stroke-width="0.14" textLength="47.10" lengthAdjust="spacingAndGlyphs">Significantly decreased</text>
<rect x="275.90" y="504.60" width="14.00" height="6.80" fill="#f0f0f0" stroke="#555" stroke-width="0.5" rx="0.8"/>
<text x="293.20" y="509.70" font-size="4.6" fill="#222" stroke="#222" stroke-width="0.14" textLength="31.10" lengthAdjust="spacingAndGlyphs">No significance</text>
<text x="458.40" y="10.30" font-size="6.9" font-weight="bold" textLength="21.00" lengthAdjust="spacingAndGlyphs">Young</text>
<text x="500.80" y="10.30" font-size="6.9" font-weight="bold" textLength="11.00" lengthAdjust="spacingAndGlyphs">Old</text>
<text x="422.20" y="21.80" font-size="8.0" stroke="#111" stroke-width="0.12" textLength="24.80" lengthAdjust="spacingAndGlyphs">Muscle</text>
<text x="451.40" y="22.00" font-size="6.8" stroke="#111" stroke-width="0.12" textLength="14.00" lengthAdjust="spacingAndGlyphs">SED</text>
<text x="471.20" y="22.00" font-size="6.8" stroke="#111" stroke-width="0.12" textLength="13.60" lengthAdjust="spacingAndGlyphs">EXE</text>
<text x="490.80" y="22.00" font-size="6.8" stroke="#111" stroke-width="0.12" textLength="14.00" lengthAdjust="spacingAndGlyphs">SED</text>
<text x="510.40" y="22.00" font-size="6.8" stroke="#111" stroke-width="0.12" textLength="13.70" lengthAdjust="spacingAndGlyphs">EXE</text>
<line x1="450.50" y1="26.60" x2="466.30" y2="26.60" stroke="#a8a8a8" stroke-width="1.0"/>
<line x1="470.10" y1="26.60" x2="485.90" y2="26.60" stroke="#a8a8a8" stroke-width="1.0"/>
<line x1="489.40" y1="26.60" x2="505.20" y2="26.60" stroke="#a8a8a8" stroke-width="1.0"/>
<line x1="509.40" y1="26.60" x2="525.10" y2="26.60" stroke="#a8a8a8" stroke-width="1.0"/>
<g>
<rect x="449.65" y="29.45" width="76.20" height="11.80" fill="#f6f6f6" stroke="#1e1e1e" stroke-width="0.9"/>
<g filter="url(#blur2)">
<rect x="451.03" y="34.51" width="6.95" height="2.67" rx="1.34" fill="rgb(17,17,17)"/>
<rect x="460.89" y="34.90" width="6.42" height="1.90" rx="0.95" fill="rgb(133,133,133)"/>
<rect x="470.25" y="34.55" width="6.89" height="2.60" rx="1.30" fill="rgb(29,29,29)"/>
<rect x="479.85" y="34.55" width="6.89" height="2.60" rx="1.30" fill="rgb(29,29,29)"/>
<rect x="479.85" y="37.45" width="6.89" height="1.95" rx="1" fill="rgb(39,39,39)"/>
<rect x="489.58" y="34.74" width="6.63" height="2.21" rx="1.11" fill="rgb(87,87,87)"/>
<rect x="499.37" y="35.01" width="6.27" height="1.67" rx="0.84" fill="rgb(168,168,168)"/>
<rect x="508.99" y="35.05" width="6.21" height="1.60" rx="0.80" fill="rgb(180,180,180)"/>
<rect x="518.66" y="35.15" width="6.08" height="1.39" rx="0.70" fill="rgb(210,210,210)"/>
</g>
</g>
<text x="435.80" y="37.55" font-size="6.2" text-anchor="middle" stroke="#111" stroke-width="0.12">FASN</text>
<text x="531.60" y="37.50" font-size="6.1" stroke="#111" stroke-width="0.12" textLength="21.00" lengthAdjust="spacingAndGlyphs">273kDa</text>
<g>
<rect x="449.65" y="43.45" width="76.20" height="11.50" fill="#f6f6f6" stroke="#1e1e1e" stroke-width="0.9"/>
<g filter="url(#blur2)">
<rect x="451.02" y="48.35" width="6.97" height="2.70" rx="1.35" fill="rgb(12,12,12)"/>
<rect x="460.65" y="48.40" width="6.89" height="2.60" rx="1.30" fill="rgb(29,29,29)"/>
<rect x="470.31" y="48.48" width="6.79" height="2.44" rx="1.22" fill="rgb(52,52,52)"/>
<rect x="479.88" y="48.44" width="6.84" height="2.52" rx="1.26" fill="rgb(40,40,40)"/>
<rect x="489.50" y="48.48" width="6.79" height="2.44" rx="1.22" fill="rgb(52,52,52)"/>
<rect x="499.06" y="48.42" width="6.87" height="2.57" rx="1.28" fill="rgb(33,33,33)"/>
<rect x="508.63" y="48.36" width="6.95" height="2.67" rx="1.34" fill="rgb(17,17,17)"/>
<rect x="518.21" y="48.34" width="6.98" height="2.72" rx="1.36" fill="rgb(10,10,10)"/>
</g>
</g>
<text x="435.80" y="51.40" font-size="6.2" text-anchor="middle" stroke="#111" stroke-width="0.12">CPT1B</text>
<text x="531.60" y="51.35" font-size="6.1" stroke="#111" stroke-width="0.12" textLength="17.45" lengthAdjust="spacingAndGlyphs">88kDa</text>
<g>
<rect x="449.65" y="57.55" width="76.20" height="11.50" fill="#e4e4e4" stroke="#1e1e1e" stroke-width="0.9"/>
<g filter="url(#blur2)">
<rect x="451.18" y="62.69" width="6.63" height="2.21" rx="1.11" fill="rgb(87,87,87)"/>
<rect x="460.69" y="62.56" width="6.81" height="2.47" rx="1.24" fill="rgb(47,47,47)"/>
<rect x="470.28" y="62.54" width="6.84" height="2.52" rx="1.26" fill="rgb(40,40,40)"/>
<rect x="479.93" y="62.62" width="6.74" height="2.37" rx="1.18" fill="rgb(64,64,64)"/>
<rect x="489.55" y="62.64" width="6.71" height="2.32" rx="1.16" fill="rgb(70,70,70)"/>
<rect x="499.09" y="62.56" width="6.81" height="2.47" rx="1.24" fill="rgb(47,47,47)"/>
<rect x="508.66" y="62.52" width="6.87" height="2.57" rx="1.28" fill="rgb(33,33,33)"/>
<rect x="518.25" y="62.50" width="6.89" height="2.60" rx="1.30" fill="rgb(29,29,29)"/>
</g>
</g>
<text x="435.80" y="65.50" font-size="6.2" text-anchor="middle" stroke="#111" stroke-width="0.12">CD36</text>
<text x="531.60" y="65.45" font-size="6.1" stroke="#111" stroke-width="0.12" textLength="17.45" lengthAdjust="spacingAndGlyphs">88kDa</text>
<g>
<rect x="449.65" y="71.45" width="76.20" height="11.40" fill="#f6f6f6" stroke="#1e1e1e" stroke-width="0.9"/>
<g filter="url(#blur2)">
<rect x="451.04" y="76.64" width="6.92" height="2.03" rx="1.01" fill="rgb(24,24,24)"/>
<rect x="460.64" y="76.64" width="6.92" height="2.03" rx="1.01" fill="rgb(24,24,24)"/>
<rect x="470.24" y="76.64" width="6.92" height="2.03" rx="1.01" fill="rgb(24,24,24)"/>
<rect x="479.84" y="76.64" width="6.92" height="2.03" rx="1.01" fill="rgb(24,24,24)"/>
<rect x="489.44" y="76.64" width="6.92" height="2.03" rx="1.01" fill="rgb(24,24,24)"/>
<rect x="499.04" y="76.64" width="6.92" height="2.03" rx="1.01" fill="rgb(24,24,24)"/>
<rect x="508.64" y="76.64" width="6.92" height="2.03" rx="1.01" fill="rgb(24,24,24)"/>
<rect x="518.24" y="76.64" width="6.92" height="2.03" rx="1.01" fill="rgb(24,24,24)"/>
</g>
</g>
<text x="435.80" y="79.35" font-size="6.2" text-anchor="middle" stroke="#111" stroke-width="0.12">α-tubulin</text>
<text x="531.60" y="79.30" font-size="6.1" stroke="#111" stroke-width="0.12" textLength="17.45" lengthAdjust="spacingAndGlyphs">55kDa</text>
<g>
<rect x="449.65" y="89.85" width="76.20" height="11.20" fill="#e6e6e6" stroke="#1e1e1e" stroke-width="0.9"/>
<g filter="url(#blur2)">
<rect x="451.34" y="96.43" width="6.32" height="1.75" rx="0.87" fill="rgb(156,156,156)"/>
<rect x="460.73" y="96.12" width="6.74" height="2.37" rx="1.18" fill="rgb(64,64,64)"/>
<rect x="470.20" y="95.92" width="7.00" height="2.75" rx="1.38" fill="rgb(6,6,6)"/>
<rect x="479.98" y="96.19" width="6.63" height="2.21" rx="1.11" fill="rgb(87,87,87)"/>
<rect x="489.48" y="96.04" width="6.84" height="2.52" rx="1.26" fill="rgb(40,40,40)"/>
<rect x="499.34" y="96.43" width="6.32" height="1.75" rx="0.87" fill="rgb(156,156,156)"/>
<rect x="508.73" y="96.12" width="6.74" height="2.37" rx="1.18" fill="rgb(64,64,64)"/>
<rect x="518.33" y="96.12" width="6.74" height="2.37" rx="1.18" fill="rgb(64,64,64)"/>
</g>
</g>
<text x="435.80" y="97.65" font-size="6.2" text-anchor="middle" stroke="#111" stroke-width="0.12">ACADL</text>
<text x="531.60" y="97.60" font-size="6.1" stroke="#111" stroke-width="0.12" textLength="17.45" lengthAdjust="spacingAndGlyphs">48kDa</text>
<g>
<rect x="449.65" y="103.55" width="76.20" height="11.50" fill="#f6f6f6" stroke="#1e1e1e" stroke-width="0.9"/>
<g filter="url(#blur2)">
<rect x="451.04" y="108.73" width="6.92" height="2.15" rx="1.07" fill="rgb(24,24,24)"/>
<rect x="460.65" y="108.74" width="6.89" height="2.12" rx="1.06" fill="rgb(29,29,29)"/>
<rect x="470.25" y="108.74" width="6.89" height="2.12" rx="1.06" fill="rgb(29,29,29)"/>
<rect x="479.84" y="108.73" width="6.92" height="2.15" rx="1.07" fill="rgb(24,24,24)"/>
<rect x="489.43" y="108.71" width="6.95" height="2.19" rx="1.09" fill="rgb(17,17,17)"/>
<rect x="499.06" y="108.75" width="6.87" height="2.10" rx="1.05" fill="rgb(33,33,33)"/>
<rect x="508.65" y="108.74" width="6.89" height="2.12" rx="1.06" fill="rgb(29,29,29)"/>
<rect x="518.31" y="108.80" width="6.79" height="2.00" rx="1.00" fill="rgb(52,52,52)"/>
</g>
</g>
<text x="435.80" y="111.50" font-size="6.2" text-anchor="middle" stroke="#111" stroke-width="0.12">α-tubulin</text>
<text x="531.60" y="111.45" font-size="6.1" stroke="#111" stroke-width="0.12" textLength="17.45" lengthAdjust="spacingAndGlyphs">55kDa</text>
<g>
<rect x="449.65" y="122.05" width="76.20" height="11.40" fill="#eeeeee" stroke="#1e1e1e" stroke-width="0.9"/>
<g filter="url(#blur2)">
<rect x="451.26" y="127.26" width="6.47" height="1.98" rx="0.99" fill="rgb(122,122,122)"/>
<rect x="460.81" y="127.18" width="6.58" height="2.13" rx="1.07" fill="rgb(98,98,98)"/>
<rect x="470.49" y="127.30" width="6.42" height="1.90" rx="0.95" fill="rgb(133,133,133)"/>
<rect x="480.09" y="127.30" width="6.42" height="1.90" rx="0.95" fill="rgb(133,133,133)"/>
<rect x="489.48" y="126.99" width="6.84" height="2.52" rx="1.26" fill="rgb(40,40,40)"/>
<rect x="499.08" y="126.99" width="6.84" height="2.52" rx="1.26" fill="rgb(40,40,40)"/>
<rect x="508.64" y="126.94" width="6.92" height="2.63" rx="1.31" fill="rgb(24,24,24)"/>
<rect x="518.22" y="126.90" width="6.97" height="2.70" rx="1.35" fill="rgb(12,12,12)"/>
</g>
</g>
<text x="435.80" y="129.95" font-size="6.2" text-anchor="middle" stroke="#111" stroke-width="0.12">PGC-1α</text>
<text x="531.60" y="129.90" font-size="6.1" stroke="#111" stroke-width="0.12" textLength="21.00" lengthAdjust="spacingAndGlyphs">130kDa</text>
<g>
<rect x="449.65" y="136.55" width="76.20" height="11.00" fill="#f6f6f6" stroke="#1e1e1e" stroke-width="0.9"/>
<rect x="466.00" y="139.00" width="21.00" height="7.00" fill="#e4e4e4" filter="url(#blur1)"/>
<g filter="url(#blur2)">
<rect x="451.42" y="140.24" width="6.16" height="1.52" rx="0.76" fill="rgb(191,191,191)"/>
<rect x="460.97" y="140.16" width="6.27" height="1.67" rx="0.84" fill="rgb(168,168,168)"/>
<rect x="470.57" y="140.16" width="6.27" height="1.67" rx="0.84" fill="rgb(168,168,168)"/>
<rect x="480.17" y="140.16" width="6.27" height="1.67" rx="0.84" fill="rgb(168,168,168)"/>
<rect x="489.50" y="139.78" width="6.79" height="2.44" rx="1.22" fill="rgb(52,52,52)"/>
<rect x="499.08" y="139.74" width="6.84" height="2.52" rx="1.26" fill="rgb(40,40,40)"/>
<rect x="508.68" y="139.74" width="6.84" height="2.52" rx="1.26" fill="rgb(40,40,40)"/>
<rect x="518.46" y="140.01" width="6.47" height="1.98" rx="0.99" fill="rgb(122,122,122)"/>
</g>
</g>
<text x="415.80" y="144.25" font-size="6.4" stroke="#111" stroke-width="0.12" textLength="23.90" lengthAdjust="spacingAndGlyphs">Complex</text>
<path d="M443.30,139.75 h2.60 M443.30,144.00 h2.60 M444.60,139.75 V144.00" stroke="#1a1a1a" stroke-width="0.6" fill="none"/>
<text x="531.60" y="144.20" font-size="6.1" stroke="#111" stroke-width="0.12" textLength="17.45" lengthAdjust="spacingAndGlyphs">35kDa</text>
<g>
<rect x="449.65" y="150.65" width="76.20" height="10.80" fill="#f6f6f6" stroke="#1e1e1e" stroke-width="0.9"/>
<g filter="url(#blur2)">
<rect x="451.05" y="154.20" width="6.89" height="2.60" rx="1.30" fill="rgb(29,29,29)"/>
<rect x="460.65" y="154.20" width="6.89" height="2.60" rx="1.30" fill="rgb(29,29,29)"/>
<rect x="470.36" y="154.36" width="6.68" height="2.29" rx="1.14" fill="rgb(75,75,75)"/>
<rect x="479.85" y="154.20" width="6.89" height="2.60" rx="1.30" fill="rgb(29,29,29)"/>
<rect x="489.43" y="154.16" width="6.95" height="2.67" rx="1.34" fill="rgb(17,17,17)"/>
<rect x="499.16" y="154.36" width="6.68" height="2.29" rx="1.14" fill="rgb(75,75,75)"/>
<rect x="508.86" y="154.51" width="6.47" height="1.98" rx="0.99" fill="rgb(122,122,122)"/>
<rect x="518.24" y="154.19" width="6.92" height="2.63" rx="1.31" fill="rgb(24,24,24)"/>
</g>
</g>
<text x="415.80" y="158.25" font-size="6.4" stroke="#111" stroke-width="0.12" textLength="23.90" lengthAdjust="spacingAndGlyphs">Complex</text>
<path d="M441.90,153.75 h5.00 M441.90,158.00 h5.00 M443.15,153.75 V158.00 M445.65,153.75 V158.00" stroke="#1a1a1a" stroke-width="0.6" fill="none"/>
<text x="531.60" y="158.20" font-size="6.1" stroke="#111" stroke-width="0.12" textLength="17.45" lengthAdjust="spacingAndGlyphs">28kDa</text>
<g>
<rect x="449.65" y="164.75" width="76.20" height="11.20" fill="#f6f6f6" stroke="#1e1e1e" stroke-width="0.9"/>
<g filter="url(#blur2)">
<rect x="451.31" y="169.94" width="6.37" height="1.83" rx="0.91" fill="rgb(145,145,145)"/>
<rect x="461.02" y="170.09" width="6.16" height="1.52" rx="0.76" fill="rgb(191,191,191)"/>
<rect x="470.62" y="170.09" width="6.16" height="1.52" rx="0.76" fill="rgb(191,191,191)"/>
<rect x="480.01" y="169.78" width="6.58" height="2.13" rx="1.07" fill="rgb(98,98,98)"/>
<rect x="489.48" y="169.59" width="6.84" height="2.52" rx="1.26" fill="rgb(40,40,40)"/>
<rect x="499.08" y="169.59" width="6.84" height="2.52" rx="1.26" fill="rgb(40,40,40)"/>
<rect x="508.68" y="169.59" width="6.84" height="2.52" rx="1.26" fill="rgb(40,40,40)"/>
<rect x="518.25" y="169.55" width="6.89" height="2.60" rx="1.30" fill="rgb(29,29,29)"/>
</g>
</g>
<text x="415.80" y="172.55" font-size="6.4" stroke="#111" stroke-width="0.12" textLength="23.90" lengthAdjust="spacingAndGlyphs">Complex</text>
<path d="M441.00,168.05 h6.60 M441.00,172.30 h6.60 M442.10,168.05 V172.30 M444.30,168.05 V172.30 M446.50,168.05 V172.30" stroke="#1a1a1a" stroke-width="0.6" fill="none"/>
<text x="531.60" y="172.50" font-size="6.1" stroke="#111" stroke-width="0.12" textLength="17.45" lengthAdjust="spacingAndGlyphs">50kDa</text>
<g>
<rect x="449.65" y="179.05" width="76.20" height="11.50" fill="#ececec" stroke="#1e1e1e" stroke-width="0.9"/>
<g filter="url(#blur2)">
<rect x="451.03" y="183.06" width="6.95" height="2.67" rx="1.34" fill="rgb(17,17,17)"/>
<rect x="460.65" y="183.10" width="6.89" height="2.60" rx="1.30" fill="rgb(29,29,29)"/>
<rect x="470.25" y="183.10" width="6.89" height="2.60" rx="1.30" fill="rgb(29,29,29)"/>
<rect x="479.85" y="183.10" width="6.89" height="2.60" rx="1.30" fill="rgb(29,29,29)"/>
<rect x="489.42" y="183.05" width="6.97" height="2.70" rx="1.35" fill="rgb(12,12,12)"/>
<rect x="499.00" y="183.03" width="7.00" height="2.75" rx="1.38" fill="rgb(6,6,6)"/>
<rect x="508.62" y="183.05" width="6.97" height="2.70" rx="1.35" fill="rgb(12,12,12)"/>
<rect x="518.20" y="183.03" width="7.00" height="2.75" rx="1.38" fill="rgb(6,6,6)"/>
</g>
</g>
<text x="415.80" y="187.00" font-size="6.4" stroke="#111" stroke-width="0.12" textLength="31.30" lengthAdjust="spacingAndGlyphs">Complex V</text>
<text x="531.60" y="186.95" font-size="6.1" stroke="#111" stroke-width="0.12" textLength="17.45" lengthAdjust="spacingAndGlyphs">54kDa</text>
<g>
<rect x="449.65" y="193.65" width="76.20" height="11.40" fill="#f6f6f6" stroke="#1e1e1e" stroke-width="0.9"/>
<g filter="url(#blur2)">
<rect x="451.04" y="198.78" width="6.92" height="2.15" rx="1.07" fill="rgb(24,24,24)"/>
<rect x="460.64" y="198.78" width="6.92" height="2.15" rx="1.07" fill="rgb(24,24,24)"/>
<rect x="470.24" y="198.78" width="6.92" height="2.15" rx="1.07" fill="rgb(24,24,24)"/>
<rect x="479.84" y="198.78" width="6.92" height="2.15" rx="1.07" fill="rgb(24,24,24)"/>
<rect x="489.44" y="198.78" width="6.92" height="2.15" rx="1.07" fill="rgb(24,24,24)"/>
<rect x="499.04" y="198.78" width="6.92" height="2.15" rx="1.07" fill="rgb(24,24,24)"/>
<rect x="508.64" y="198.78" width="6.92" height="2.15" rx="1.07" fill="rgb(24,24,24)"/>
<rect x="518.24" y="198.78" width="6.92" height="2.15" rx="1.07" fill="rgb(24,24,24)"/>
</g>
</g>
<text x="431.00" y="201.55" font-size="6.3" text-anchor="middle" stroke="#111" stroke-width="0.12">α-tubulin</text>
<text x="531.60" y="201.50" font-size="6.1" stroke="#111" stroke-width="0.12" textLength="17.45" lengthAdjust="spacingAndGlyphs">55kDa</text>
<text x="585.90" y="7.40" font-size="7.0" font-weight="bold" textLength="21.40" lengthAdjust="spacingAndGlyphs">Young</text>
<text x="629.40" y="7.40" font-size="7.0" font-weight="bold" textLength="11.70" lengthAdjust="spacingAndGlyphs">Old</text>
<text x="554.20" y="22.20" font-size="8.0" stroke="#111" stroke-width="0.12" textLength="17.40" lengthAdjust="spacingAndGlyphs">Liver</text>
<text x="578.30" y="21.20" font-size="7.0" stroke="#111" stroke-width="0.12" textLength="15.10" lengthAdjust="spacingAndGlyphs">SED</text>
<text x="598.80" y="21.20" font-size="7.0" stroke="#111" stroke-width="0.12" textLength="14.30" lengthAdjust="spacingAndGlyphs">EXE</text>
<text x="618.60" y="21.20" font-size="7.0" stroke="#111" stroke-width="0.12" textLength="15.30" lengthAdjust="spacingAndGlyphs">SED</text>
<text x="639.40" y="21.20" font-size="7.0" stroke="#111" stroke-width="0.12" textLength="14.30" lengthAdjust="spacingAndGlyphs">EXE</text>
<line x1="577.70" y1="25.50" x2="594.00" y2="25.50" stroke="#a8a8a8" stroke-width="1.0"/>
<line x1="598.10" y1="25.50" x2="614.50" y2="25.50" stroke="#a8a8a8" stroke-width="1.0"/>
<line x1="618.00" y1="25.50" x2="634.30" y2="25.50" stroke="#a8a8a8" stroke-width="1.0"/>
<line x1="638.60" y1="25.50" x2="655.00" y2="25.50" stroke="#a8a8a8" stroke-width="1.0"/>
<g>
<rect x="577.65" y="28.75" width="78.70" height="12.50" fill="#f6f6f6" stroke="#1e1e1e" stroke-width="0.9"/>
<g filter="url(#blur2)">
<rect x="578.52" y="34.78" width="7.76" height="2.44" rx="1.22" fill="rgb(52,52,52)"/>
<rect x="588.32" y="34.78" width="7.76" height="2.44" rx="1.22" fill="rgb(52,52,52)"/>
<rect x="598.24" y="34.93" width="7.52" height="2.13" rx="1.07" fill="rgb(98,98,98)"/>
<rect x="607.98" y="34.86" width="7.64" height="2.29" rx="1.14" fill="rgb(75,75,75)"/>
<rect x="617.90" y="35.01" width="7.40" height="1.98" rx="0.99" fill="rgb(122,122,122)"/>
<rect x="627.73" y="35.05" width="7.34" height="1.90" rx="0.95" fill="rgb(133,133,133)"/>
<rect x="637.29" y="34.74" width="7.82" height="2.52" rx="1.26" fill="rgb(40,40,40)"/>
<rect x="647.00" y="34.62" width="8.00" height="2.75" rx="1.38" fill="rgb(6,6,6)"/>
</g>
</g>
<text x="563.80" y="37.20" font-size="6.2" text-anchor="middle" stroke="#111" stroke-width="0.12">FASN</text>
<text x="661.90" y="37.15" font-size="6.1" stroke="#111" stroke-width="0.12" textLength="21.00" lengthAdjust="spacingAndGlyphs">273kDa</text>
<g>
<rect x="577.65" y="43.45" width="78.70" height="11.80" fill="#f2f2f2" stroke="#1e1e1e" stroke-width="0.9"/>
<g filter="url(#blur3)">
<rect x="578.80" y="47.00" width="7.20" height="5.28" rx="1.5" fill="rgb(130,130,130)"/>
<rect x="588.60" y="47.00" width="7.20" height="4.68" rx="1.5" fill="rgb(167,167,167)"/>
<rect x="598.40" y="47.00" width="7.20" height="5.81" rx="1.5" fill="rgb(97,97,97)"/>
<rect x="608.20" y="47.00" width="7.20" height="5.40" rx="1.5" fill="rgb(122,122,122)"/>
<rect x="618.00" y="47.00" width="7.20" height="5.76" rx="1.5" fill="rgb(100,100,100)"/>
<rect x="627.80" y="47.00" width="7.20" height="5.93" rx="1.5" fill="rgb(89,89,89)"/>
<rect x="637.60" y="47.00" width="7.20" height="5.81" rx="1.5" fill="rgb(97,97,97)"/>
<rect x="647.40" y="47.00" width="7.20" height="4.44" rx="1.5" fill="rgb(182,182,182)"/>
</g>
<g filter="url(#blur2)">
<rect x="578.58" y="47.15" width="7.64" height="2.70" rx="1.35" fill="rgb(75,75,75)"/>
<rect x="588.53" y="47.38" width="7.34" height="2.25" rx="1.12" fill="rgb(133,133,133)"/>
<rect x="598.05" y="46.95" width="7.90" height="3.10" rx="1.40" fill="rgb(24,24,24)"/>
<rect x="607.95" y="47.10" width="7.70" height="2.79" rx="1.40" fill="rgb(64,64,64)"/>
<rect x="617.66" y="46.97" width="7.88" height="3.07" rx="1.40" fill="rgb(29,29,29)"/>
<rect x="627.42" y="46.90" width="7.96" height="3.20" rx="1.40" fill="rgb(12,12,12)"/>
<rect x="637.25" y="46.95" width="7.90" height="3.10" rx="1.40" fill="rgb(24,24,24)"/>
<rect x="647.39" y="47.47" width="7.22" height="2.07" rx="1.03" fill="rgb(156,156,156)"/>
</g>
</g>
<text x="563.80" y="51.55" font-size="6.2" text-anchor="middle" stroke="#111" stroke-width="0.12">CPT1A</text>
<text x="661.90" y="51.50" font-size="6.1" stroke="#111" stroke-width="0.12" textLength="17.45" lengthAdjust="spacingAndGlyphs">88kDa</text>
<g>
<rect x="577.65" y="57.35" width="78.70" height="12.50" fill="#f6f6f6" stroke="#1e1e1e" stroke-width="0.9"/>
<g filter="url(#blur2)">
<rect x="578.47" y="62.35" width="7.86" height="2.10" rx="1.05" fill="rgb(33,33,33)"/>
<rect x="588.27" y="62.35" width="7.86" height="2.10" rx="1.05" fill="rgb(33,33,33)"/>
<rect x="598.07" y="62.35" width="7.86" height="2.10" rx="1.05" fill="rgb(33,33,33)"/>
<rect x="607.87" y="62.35" width="7.86" height="2.10" rx="1.05" fill="rgb(33,33,33)"/>
<rect x="617.67" y="62.35" width="7.86" height="2.10" rx="1.05" fill="rgb(33,33,33)"/>
<rect x="627.47" y="62.35" width="7.86" height="2.10" rx="1.05" fill="rgb(33,33,33)"/>
<rect x="637.27" y="62.35" width="7.86" height="2.10" rx="1.05" fill="rgb(33,33,33)"/>
<rect x="647.07" y="62.35" width="7.86" height="2.10" rx="1.05" fill="rgb(33,33,33)"/>
</g>
</g>
<text x="562.80" y="65.80" font-size="6.2" text-anchor="middle" stroke="#111" stroke-width="0.12">α-tubulin</text>
<text x="661.90" y="65.75" font-size="6.1" stroke="#111" stroke-width="0.12" textLength="17.45" lengthAdjust="spacingAndGlyphs">55kDa</text>
<g>
<rect x="577.65" y="76.25" width="78.70" height="12.50" fill="#dcdcdc" stroke="#1e1e1e" stroke-width="0.9"/>
<rect x="586.40" y="76.40" width="1.60" height="12.20" fill="#f6f6f6"/>
<rect x="596.20" y="76.40" width="1.60" height="12.20" fill="#f6f6f6"/>
<rect x="606.00" y="76.40" width="1.60" height="12.20" fill="#f6f6f6"/>
<rect x="615.80" y="76.40" width="1.60" height="12.20" fill="#f6f6f6"/>
<rect x="625.60" y="76.40" width="1.60" height="12.20" fill="#f6f6f6"/>
<rect x="635.40" y="76.40" width="1.60" height="12.20" fill="#f6f6f6"/>
<rect x="645.20" y="76.40" width="1.60" height="12.20" fill="#f6f6f6"/>
<rect x="655.00" y="76.40" width="1.60" height="12.20" fill="#f6f6f6"/>
<g filter="url(#blur2)">
<rect x="578.46" y="80.30" width="7.88" height="2.60" rx="1.30" fill="rgb(29,29,29)"/>
<rect x="588.44" y="80.53" width="7.52" height="2.13" rx="1.07" fill="rgb(98,98,98)"/>
<rect x="598.06" y="80.30" width="7.88" height="2.60" rx="1.30" fill="rgb(29,29,29)"/>
<rect x="607.85" y="80.29" width="7.90" height="2.63" rx="1.31" fill="rgb(24,24,24)"/>
<rect x="617.65" y="80.29" width="7.90" height="2.63" rx="1.31" fill="rgb(24,24,24)"/>
<rect x="627.45" y="80.29" width="7.90" height="2.63" rx="1.31" fill="rgb(24,24,24)"/>
<rect x="637.29" y="80.34" width="7.82" height="2.52" rx="1.26" fill="rgb(40,40,40)"/>
<rect x="647.12" y="80.38" width="7.76" height="2.44" rx="1.22" fill="rgb(52,52,52)"/>
</g>
</g>
<text x="563.80" y="84.70" font-size="6.2" text-anchor="middle" stroke="#111" stroke-width="0.12">CD36</text>
<text x="661.90" y="84.65" font-size="6.1" stroke="#111" stroke-width="0.12" textLength="17.45" lengthAdjust="spacingAndGlyphs">88kDa</text>
<g>
<rect x="577.65" y="91.35" width="78.70" height="11.70" fill="#f6f6f6" stroke="#1e1e1e" stroke-width="0.9"/>
<g filter="url(#blur2)">
<rect x="578.42" y="96.36" width="7.96" height="3.69" rx="1.40" fill="rgb(12,12,12)"/>
<rect x="588.22" y="96.36" width="7.96" height="3.69" rx="1.40" fill="rgb(12,12,12)"/>
<rect x="598.02" y="96.36" width="7.96" height="3.69" rx="1.40" fill="rgb(12,12,12)"/>
<rect x="607.82" y="96.36" width="7.96" height="3.69" rx="1.40" fill="rgb(12,12,12)"/>
<rect x="617.62" y="96.36" width="7.96" height="3.69" rx="1.40" fill="rgb(12,12,12)"/>
<rect x="627.42" y="96.36" width="7.96" height="3.69" rx="1.40" fill="rgb(12,12,12)"/>
<rect x="637.22" y="96.36" width="7.96" height="3.69" rx="1.40" fill="rgb(12,12,12)"/>
<rect x="647.02" y="96.36" width="7.96" height="3.69" rx="1.40" fill="rgb(12,12,12)"/>
</g>
</g>
<text x="563.80" y="99.40" font-size="6.2" text-anchor="middle" stroke="#111" stroke-width="0.12">ACADL</text>
<text x="661.90" y="99.35" font-size="6.1" stroke="#111" stroke-width="0.12" textLength="17.45" lengthAdjust="spacingAndGlyphs">48kDa</text>
<g>
<rect x="577.65" y="106.25" width="78.70" height="11.90" fill="#f6f6f6" stroke="#1e1e1e" stroke-width="0.9"/>
<g filter="url(#blur2)">
<rect x="578.46" y="111.64" width="7.88" height="2.12" rx="1.06" fill="rgb(29,29,29)"/>
<rect x="588.27" y="111.65" width="7.86" height="2.10" rx="1.05" fill="rgb(33,33,33)"/>
<rect x="598.06" y="111.64" width="7.88" height="2.12" rx="1.06" fill="rgb(29,29,29)"/>
<rect x="607.86" y="111.64" width="7.88" height="2.12" rx="1.06" fill="rgb(29,29,29)"/>
<rect x="617.69" y="111.67" width="7.82" height="2.06" rx="1.03" fill="rgb(40,40,40)"/>
<rect x="627.43" y="111.61" width="7.94" height="2.19" rx="1.09" fill="rgb(17,17,17)"/>
<rect x="637.29" y="111.67" width="7.82" height="2.06" rx="1.03" fill="rgb(40,40,40)"/>
<rect x="647.06" y="111.64" width="7.88" height="2.12" rx="1.06" fill="rgb(29,29,29)"/>
</g>
</g>
<text x="562.80" y="114.40" font-size="6.2" text-anchor="middle" stroke="#111" stroke-width="0.12">α-tubulin</text>
<text x="661.90" y="114.35" font-size="6.1" stroke="#111" stroke-width="0.12" textLength="17.45" lengthAdjust="spacingAndGlyphs">55kDa</text>
<g>
<rect x="433.90" y="270.52" width="4.60" height="17.88" fill="#edf4fc" stroke="#c6dcf2" stroke-width="0.5"/>
<line x1="436.20" y1="267.62" x2="436.20" y2="273.42" stroke="#7a9cc8" stroke-width="0.4"/>
<line x1="435.20" y1="267.62" x2="437.20" y2="267.62" stroke="#7a9cc8" stroke-width="0.4"/>
<rect x="434.46" y="270.46" width="1.71" height="1.71" fill="#8fb6e2"/>
<rect x="435.38" y="268.66" width="1.71" height="1.71" fill="#8fb6e2"/>
<rect x="435.71" y="262.57" width="1.71" height="1.71" fill="#8fb6e2"/>
<rect x="436.17" y="270.24" width="1.71" height="1.71" fill="#8fb6e2"/>
<rect x="434.21" y="269.53" width="1.71" height="1.71" fill="#8fb6e2"/>
<rect x="434.79" y="268.20" width="1.71" height="1.71" fill="#8fb6e2"/>
<rect x="440.10" y="273.87" width="4.60" height="14.53" fill="#edf4fc" stroke="#c6dcf2" stroke-width="0.5"/>
<line x1="442.40" y1="271.37" x2="442.40" y2="276.38" stroke="#1d3f7c" stroke-width="0.4"/>
<line x1="441.40" y1="271.37" x2="443.40" y2="271.37" stroke="#1d3f7c" stroke-width="0.4"/>
<circle cx="442.83" cy="279.80" r="1.10" fill="#1d3f7c"/>
<circle cx="442.72" cy="269.39" r="1.10" fill="#1d3f7c"/>
<circle cx="441.44" cy="271.07" r="1.10" fill="#1d3f7c"/>
<circle cx="441.04" cy="280.50" r="1.10" fill="#1d3f7c"/>
<circle cx="442.48" cy="266.90" r="1.10" fill="#1d3f7c"/>
<circle cx="441.17" cy="267.15" r="1.10" fill="#1d3f7c"/>
<rect x="446.30" y="268.96" width="4.60" height="19.44" fill="#cadff5"/>
<line x1="448.60" y1="265.88" x2="448.60" y2="272.04" stroke="#7a9cc8" stroke-width="0.4"/>
<line x1="447.60" y1="265.88" x2="449.60" y2="265.88" stroke="#7a9cc8" stroke-width="0.4"/>
<rect x="447.80" y="273.61" width="1.71" height="1.71" fill="#8fb6e2"/>
<rect x="448.14" y="272.69" width="1.71" height="1.71" fill="#8fb6e2"/>
<rect x="447.74" y="276.46" width="1.71" height="1.71" fill="#8fb6e2"/>
<rect x="448.20" y="268.74" width="1.71" height="1.71" fill="#8fb6e2"/>
<rect x="447.63" y="269.16" width="1.71" height="1.71" fill="#8fb6e2"/>
<rect x="447.12" y="262.01" width="1.71" height="1.71" fill="#8fb6e2"/>
<rect x="452.60" y="283.26" width="4.60" height="5.14" fill="#cadff5"/>
<line x1="454.90" y1="281.85" x2="454.90" y2="284.67" stroke="#1d3f7c" stroke-width="0.4"/>
<line x1="453.90" y1="281.85" x2="455.90" y2="281.85" stroke="#1d3f7c" stroke-width="0.4"/>
<circle cx="454.31" cy="279.22" r="1.10" fill="#1d3f7c"/>
<circle cx="453.70" cy="279.23" r="1.10" fill="#1d3f7c"/>
<circle cx="455.65" cy="280.50" r="1.10" fill="#1d3f7c"/>
<circle cx="454.62" cy="281.57" r="1.10" fill="#1d3f7c"/>
<circle cx="455.87" cy="284.76" r="1.10" fill="#1d3f7c"/>
<circle cx="454.58" cy="285.46" r="1.10" fill="#1d3f7c"/>
<rect x="463.40" y="272.75" width="4.60" height="15.64" fill="#edf4fc" stroke="#c6dcf2" stroke-width="0.5"/>
<line x1="465.70" y1="270.12" x2="465.70" y2="275.39" stroke="#7a9cc8" stroke-width="0.4"/>
<line x1="464.70" y1="270.12" x2="466.70" y2="270.12" stroke="#7a9cc8" stroke-width="0.4"/>
<rect x="466.19" y="264.93" width="1.71" height="1.71" fill="#8fb6e2"/>
<rect x="464.56" y="266.61" width="1.71" height="1.71" fill="#8fb6e2"/>
<rect x="463.65" y="279.50" width="1.71" height="1.71" fill="#8fb6e2"/>
<rect x="465.21" y="276.32" width="1.71" height="1.71" fill="#8fb6e2"/>
<rect x="465.62" y="265.65" width="1.71" height="1.71" fill="#8fb6e2"/>
<rect x="464.20" y="272.36" width="1.71" height="1.71" fill="#8fb6e2"/>
<rect x="469.60" y="273.43" width="4.60" height="14.97" fill="#edf4fc" stroke="#c6dcf2" stroke-width="0.5"/>
<line x1="471.90" y1="270.87" x2="471.90" y2="275.98" stroke="#1d3f7c" stroke-width="0.4"/>
<line x1="470.90" y1="270.87" x2="472.90" y2="270.87" stroke="#1d3f7c" stroke-width="0.4"/>
<circle cx="470.78" cy="279.52" r="1.10" fill="#1d3f7c"/>
<circle cx="470.67" cy="275.90" r="1.10" fill="#1d3f7c"/>
<circle cx="472.73" cy="266.57" r="1.10" fill="#1d3f7c"/>
<circle cx="471.00" cy="269.61" r="1.10" fill="#1d3f7c"/>
<circle cx="472.07" cy="279.07" r="1.10" fill="#1d3f7c"/>
<circle cx="471.75" cy="277.17" r="1.10" fill="#1d3f7c"/>
<rect x="475.80" y="271.19" width="4.60" height="17.21" fill="#cadff5"/>
<line x1="478.10" y1="268.37" x2="478.10" y2="274.01" stroke="#7a9cc8" stroke-width="0.4"/>
<line x1="477.10" y1="268.37" x2="479.10" y2="268.37" stroke="#7a9cc8" stroke-width="0.4"/>
<rect x="476.44" y="275.37" width="1.71" height="1.71" fill="#8fb6e2"/>
<rect x="476.60" y="266.56" width="1.71" height="1.71" fill="#8fb6e2"/>
<rect x="478.56" y="276.34" width="1.71" height="1.71" fill="#8fb6e2"/>
<rect x="478.09" y="268.00" width="1.71" height="1.71" fill="#8fb6e2"/>
<rect x="476.70" y="276.58" width="1.71" height="1.71" fill="#8fb6e2"/>
<rect x="478.32" y="271.63" width="1.71" height="1.71" fill="#8fb6e2"/>
<rect x="482.10" y="263.81" width="4.60" height="24.59" fill="#cadff5"/>
<line x1="484.40" y1="260.13" x2="484.40" y2="267.50" stroke="#1d3f7c" stroke-width="0.4"/>
<line x1="483.40" y1="260.13" x2="485.40" y2="260.13" stroke="#1d3f7c" stroke-width="0.4"/>
<circle cx="483.60" cy="269.97" r="1.10" fill="#1d3f7c"/>
<circle cx="483.72" cy="266.06" r="1.10" fill="#1d3f7c"/>
<circle cx="485.16" cy="256.28" r="1.10" fill="#1d3f7c"/>
<circle cx="483.92" cy="260.80" r="1.10" fill="#1d3f7c"/>
<circle cx="483.83" cy="272.32" r="1.10" fill="#1d3f7c"/>
<circle cx="483.21" cy="253.41" r="1.10" fill="#1d3f7c"/>
<rect x="492.90" y="269.85" width="4.60" height="18.55" fill="#edf4fc" stroke="#c6dcf2" stroke-width="0.5"/>
<line x1="495.20" y1="266.87" x2="495.20" y2="272.82" stroke="#7a9cc8" stroke-width="0.4"/>
<line x1="494.20" y1="266.87" x2="496.20" y2="266.87" stroke="#7a9cc8" stroke-width="0.4"/>
<rect x="495.63" y="276.04" width="1.71" height="1.71" fill="#8fb6e2"/>
<rect x="494.30" y="267.57" width="1.71" height="1.71" fill="#8fb6e2"/>
<rect x="494.55" y="273.41" width="1.71" height="1.71" fill="#8fb6e2"/>
<rect x="495.37" y="267.25" width="1.71" height="1.71" fill="#8fb6e2"/>
<rect x="493.46" y="271.20" width="1.71" height="1.71" fill="#8fb6e2"/>
<rect x="493.38" y="269.80" width="1.71" height="1.71" fill="#8fb6e2"/>
<rect x="499.10" y="282.81" width="4.60" height="5.59" fill="#edf4fc" stroke="#c6dcf2" stroke-width="0.5"/>
<line x1="501.40" y1="281.35" x2="501.40" y2="284.27" stroke="#1d3f7c" stroke-width="0.4"/>
<line x1="500.40" y1="281.35" x2="502.40" y2="281.35" stroke="#1d3f7c" stroke-width="0.4"/>
<circle cx="500.55" cy="279.37" r="1.10" fill="#1d3f7c"/>
<circle cx="502.66" cy="280.13" r="1.10" fill="#1d3f7c"/>
<circle cx="502.47" cy="284.92" r="1.10" fill="#1d3f7c"/>
<circle cx="501.69" cy="285.43" r="1.10" fill="#1d3f7c"/>
<circle cx="501.18" cy="280.80" r="1.10" fill="#1d3f7c"/>
<circle cx="500.29" cy="279.10" r="1.10" fill="#1d3f7c"/>
<rect x="505.30" y="276.11" width="4.60" height="12.29" fill="#cadff5"/>
<line x1="507.60" y1="273.86" x2="507.60" y2="278.35" stroke="#7a9cc8" stroke-width="0.4"/>
<line x1="506.60" y1="273.86" x2="508.60" y2="273.86" stroke="#7a9cc8" stroke-width="0.4"/>
<rect x="507.02" y="281.23" width="1.71" height="1.71" fill="#8fb6e2"/>
<rect x="506.17" y="269.26" width="1.71" height="1.71" fill="#8fb6e2"/>
<rect x="505.84" y="278.64" width="1.71" height="1.71" fill="#8fb6e2"/>
<rect x="507.36" y="272.60" width="1.71" height="1.71" fill="#8fb6e2"/>
<rect x="505.54" y="278.40" width="1.71" height="1.71" fill="#8fb6e2"/>
<rect x="505.98" y="271.06" width="1.71" height="1.71" fill="#8fb6e2"/>
<rect x="511.60" y="266.05" width="4.60" height="22.35" fill="#cadff5"/>
<line x1="513.90" y1="262.63" x2="513.90" y2="269.47" stroke="#1d3f7c" stroke-width="0.4"/>
<line x1="512.90" y1="262.63" x2="514.90" y2="262.63" stroke="#1d3f7c" stroke-width="0.4"/>
<circle cx="512.55" cy="264.88" r="1.10" fill="#1d3f7c"/>
<circle cx="513.25" cy="259.09" r="1.10" fill="#1d3f7c"/>
<circle cx="513.75" cy="263.79" r="1.10" fill="#1d3f7c"/>
<circle cx="512.67" cy="270.39" r="1.10" fill="#1d3f7c"/>
<circle cx="512.99" cy="257.80" r="1.10" fill="#1d3f7c"/>
<circle cx="513.53" cy="271.90" r="1.10" fill="#1d3f7c"/>
<rect x="523.00" y="279.01" width="4.60" height="9.39" fill="#edf4fc" stroke="#c6dcf2" stroke-width="0.5"/>
<line x1="525.30" y1="277.11" x2="525.30" y2="280.92" stroke="#7a9cc8" stroke-width="0.4"/>
<line x1="524.30" y1="277.11" x2="526.30" y2="277.11" stroke="#7a9cc8" stroke-width="0.4"/>
<rect x="524.98" y="277.36" width="1.71" height="1.71" fill="#8fb6e2"/>
<rect x="524.68" y="282.21" width="1.71" height="1.71" fill="#8fb6e2"/>
<rect x="523.44" y="279.67" width="1.71" height="1.71" fill="#8fb6e2"/>
<rect x="523.14" y="273.86" width="1.71" height="1.71" fill="#8fb6e2"/>
<rect x="523.10" y="272.88" width="1.71" height="1.71" fill="#8fb6e2"/>
<rect x="525.59" y="276.43" width="1.71" height="1.71" fill="#8fb6e2"/>
<rect x="529.20" y="260.02" width="4.60" height="28.38" fill="#edf4fc" stroke="#c6dcf2" stroke-width="0.5"/>
<line x1="531.50" y1="255.89" x2="531.50" y2="264.14" stroke="#1d3f7c" stroke-width="0.4"/>
<line x1="530.50" y1="255.89" x2="532.50" y2="255.89" stroke="#1d3f7c" stroke-width="0.4"/>
<circle cx="530.99" cy="255.23" r="1.10" fill="#1d3f7c"/>
<circle cx="532.90" cy="248.98" r="1.10" fill="#1d3f7c"/>
<circle cx="530.31" cy="271.43" r="1.10" fill="#1d3f7c"/>
<circle cx="531.63" cy="256.77" r="1.10" fill="#1d3f7c"/>
<circle cx="532.16" cy="260.44" r="1.10" fill="#1d3f7c"/>
<circle cx="532.62" cy="254.52" r="1.10" fill="#1d3f7c"/>
<rect x="535.40" y="270.07" width="4.60" height="18.33" fill="#cadff5"/>
<line x1="537.70" y1="267.12" x2="537.70" y2="273.02" stroke="#7a9cc8" stroke-width="0.4"/>
<line x1="536.70" y1="267.12" x2="538.70" y2="267.12" stroke="#7a9cc8" stroke-width="0.4"/>
<rect x="537.97" y="265.18" width="1.71" height="1.71" fill="#8fb6e2"/>
<rect x="537.88" y="265.75" width="1.71" height="1.71" fill="#8fb6e2"/>
<rect x="536.61" y="264.22" width="1.71" height="1.71" fill="#8fb6e2"/>
<rect x="537.66" y="262.15" width="1.71" height="1.71" fill="#8fb6e2"/>
<rect x="537.86" y="271.74" width="1.71" height="1.71" fill="#8fb6e2"/>
<rect x="537.05" y="266.06" width="1.71" height="1.71" fill="#8fb6e2"/>
<rect x="541.70" y="242.58" width="4.60" height="45.82" fill="#cadff5"/>
<line x1="544.00" y1="236.42" x2="544.00" y2="248.75" stroke="#1d3f7c" stroke-width="0.4"/>
<line x1="543.00" y1="236.42" x2="545.00" y2="236.42" stroke="#1d3f7c" stroke-width="0.4"/>
<circle cx="545.38" cy="238.13" r="1.10" fill="#1d3f7c"/>
<circle cx="545.06" cy="246.77" r="1.10" fill="#1d3f7c"/>
<circle cx="544.64" cy="239.64" r="1.10" fill="#1d3f7c"/>
<circle cx="543.69" cy="238.70" r="1.10" fill="#1d3f7c"/>
<circle cx="544.66" cy="257.54" r="1.10" fill="#1d3f7c"/>
<circle cx="544.23" cy="237.62" r="1.10" fill="#1d3f7c"/>
</g>
<line x1="431.40" y1="220.85" x2="431.40" y2="288.40" stroke="#222" stroke-width="0.8"/>
<line x1="431.40" y1="288.40" x2="547.50" y2="288.40" stroke="#222" stroke-width="0.95"/>
<line x1="429.80" y1="288.40" x2="431.40" y2="288.40" stroke="#222" stroke-width="0.6"/>
<text x="427.60" y="290.70" font-size="6.5" text-anchor="middle" stroke="#111" stroke-width="0.12">0</text>
<line x1="429.80" y1="266.05" x2="431.40" y2="266.05" stroke="#222" stroke-width="0.6"/>
<text x="427.60" y="268.35" font-size="6.5" text-anchor="middle" stroke="#111" stroke-width="0.12">1</text>
<line x1="429.80" y1="243.70" x2="431.40" y2="243.70" stroke="#222" stroke-width="0.6"/>
<text x="427.60" y="246.00" font-size="6.5" text-anchor="middle" stroke="#111" stroke-width="0.12">2</text>
<line x1="429.80" y1="221.35" x2="431.40" y2="221.35" stroke="#222" stroke-width="0.6"/>
<text x="427.60" y="223.65" font-size="6.5" text-anchor="middle" stroke="#111" stroke-width="0.12">3</text>
<line x1="445.50" y1="288.40" x2="445.50" y2="290.70" stroke="#222" stroke-width="0.7"/>
<line x1="475.00" y1="288.40" x2="475.00" y2="290.70" stroke="#222" stroke-width="0.7"/>
<line x1="504.50" y1="288.40" x2="504.50" y2="290.70" stroke="#222" stroke-width="0.7"/>
<line x1="534.60" y1="288.40" x2="534.60" y2="290.70" stroke="#222" stroke-width="0.7"/>
<text x="445.50" y="297.60" font-size="6.8" text-anchor="middle" stroke="#111" stroke-width="0.12">FASN</text>
<text x="475.00" y="297.60" font-size="6.8" text-anchor="middle" stroke="#111" stroke-width="0.12">CPT1B</text>
<text x="504.60" y="297.60" font-size="6.8" text-anchor="middle" stroke="#111" stroke-width="0.12">CD36</text>
<text x="534.60" y="297.60" font-size="6.8" text-anchor="middle" stroke="#111" stroke-width="0.12">ACADL</text>
<text x="421.6" y="251.5" font-size="6.8" text-anchor="middle" stroke="#111" stroke-width="0.12" transform="rotate(-90 421.6 251.5)">Protein/ α-tubulin level</text>
<rect x="436.50" y="215.50" width="3.60" height="3.60" fill="#fff" stroke="#c3d9f0" stroke-width="0.4"/>
<rect x="437.67" y="216.67" width="1.26" height="1.26" fill="#8fb6e2"/>
<text x="443.80" y="219.25" font-size="5.5" fill="#222" stroke="#222" stroke-width="0.12">Young-SED</text>
<circle cx="474.05" cy="218.08" r="1.25" fill="none" stroke="#222" stroke-width="0.5"/>
<path d="M474.94,217.20 L477.03,215.10 M475.46,215.10 L477.03,215.10 L477.03,216.67" stroke="#222" stroke-width="0.5" fill="none"/>
<rect x="436.50" y="223.60" width="3.60" height="3.60" fill="#fff" stroke="#c3d9f0" stroke-width="0.4"/>
<circle cx="438.30" cy="225.40" r="0.73" fill="#1d3f7c"/>
<text x="443.80" y="227.35" font-size="5.5" fill="#222" stroke="#222" stroke-width="0.12">Young-EXE</text>
<circle cx="473.75" cy="226.18" r="1.25" fill="none" stroke="#222" stroke-width="0.5"/>
<path d="M474.64,225.30 L476.73,223.20 M475.16,223.20 L476.73,223.20 L476.73,224.77" stroke="#222" stroke-width="0.5" fill="none"/>
<rect x="489.30" y="215.50" width="3.60" height="3.60" fill="#cadff5"/>
<rect x="490.47" y="216.67" width="1.26" height="1.26" fill="#8fb6e2"/>
<text x="496.60" y="219.25" font-size="5.5" fill="#222" stroke="#222" stroke-width="0.12">Old-SED</text>
<circle cx="520.01" cy="218.08" r="1.25" fill="none" stroke="#222" stroke-width="0.5"/>
<path d="M520.90,217.20 L522.99,215.10 M521.42,215.10 L522.99,215.10 L522.99,216.67" stroke="#222" stroke-width="0.5" fill="none"/>
<rect x="489.30" y="223.60" width="3.60" height="3.60" fill="#cadff5"/>
<circle cx="491.10" cy="225.40" r="0.73" fill="#1d3f7c"/>
<text x="496.60" y="227.35" font-size="5.5" fill="#222" stroke="#222" stroke-width="0.12">Old-EXE</text>
<circle cx="519.71" cy="226.18" r="1.25" fill="none" stroke="#222" stroke-width="0.5"/>
<path d="M520.60,225.30 L522.69,223.20 M521.12,223.20 L522.69,223.20 L522.69,224.77" stroke="#222" stroke-width="0.5" fill="none"/>
<text x="452.00" y="244.80" font-size="4.8" text-anchor="middle" fill="#222" stroke="#222" stroke-width="0.13"><tspan font-style="italic">P</tspan>=0.029</text>
<path d="M448.60,249.50 L448.60,247.60 L455.90,247.60 L455.90,249.50" stroke="#222" stroke-width="0.7" fill="none"/>
<text x="481.60" y="244.80" font-size="4.8" text-anchor="middle" fill="#222" stroke="#222" stroke-width="0.13"><tspan font-style="italic">P</tspan>=0.029</text>
<path d="M478.20,249.50 L478.20,247.60 L485.60,247.60 L485.60,249.50" stroke="#222" stroke-width="0.7" fill="none"/>
<text x="511.20" y="244.80" font-size="4.8" text-anchor="middle" fill="#222" stroke="#222" stroke-width="0.13"><tspan font-style="italic">P</tspan>=0.003</text>
<path d="M507.20,249.10 L507.20,247.20 L514.80,247.20 L514.80,249.10" stroke="#222" stroke-width="0.7" fill="none"/>
<text x="541.00" y="218.80" font-size="4.8" text-anchor="middle" fill="#222" stroke="#222" stroke-width="0.13"><tspan font-style="italic">P</tspan>=0.021</text>
<path d="M537.60,223.10 L537.60,221.20 L544.50,221.20 L544.50,223.10" stroke="#222" stroke-width="0.7" fill="none"/>
<g>
<rect x="564.80" y="278.79" width="4.60" height="9.61" fill="#edf4fc" stroke="#c6dcf2" stroke-width="0.5"/>
<line x1="567.10" y1="276.86" x2="567.10" y2="280.72" stroke="#7a9cc8" stroke-width="0.4"/>
<line x1="566.10" y1="276.86" x2="568.10" y2="276.86" stroke="#7a9cc8" stroke-width="0.4"/>
<rect x="565.61" y="278.22" width="1.71" height="1.71" fill="#8fb6e2"/>
<rect x="567.11" y="276.18" width="1.71" height="1.71" fill="#8fb6e2"/>
<rect x="566.78" y="276.08" width="1.71" height="1.71" fill="#8fb6e2"/>
<rect x="566.53" y="281.92" width="1.71" height="1.71" fill="#8fb6e2"/>
<rect x="566.41" y="283.39" width="1.71" height="1.71" fill="#8fb6e2"/>
<rect x="566.70" y="279.33" width="1.71" height="1.71" fill="#8fb6e2"/>
<rect x="571.10" y="274.54" width="4.60" height="13.86" fill="#edf4fc" stroke="#c6dcf2" stroke-width="0.5"/>
<line x1="573.40" y1="272.12" x2="573.40" y2="276.97" stroke="#1d3f7c" stroke-width="0.4"/>
<line x1="572.40" y1="272.12" x2="574.40" y2="272.12" stroke="#1d3f7c" stroke-width="0.4"/>
<circle cx="572.21" cy="279.51" r="1.10" fill="#1d3f7c"/>
<circle cx="573.92" cy="275.38" r="1.10" fill="#1d3f7c"/>
<circle cx="572.94" cy="279.28" r="1.10" fill="#1d3f7c"/>
<circle cx="573.13" cy="268.85" r="1.10" fill="#1d3f7c"/>
<circle cx="574.36" cy="280.73" r="1.10" fill="#1d3f7c"/>
<circle cx="572.05" cy="270.07" r="1.10" fill="#1d3f7c"/>
<rect x="577.30" y="270.52" width="4.60" height="17.88" fill="#cadff5"/>
<line x1="579.60" y1="267.62" x2="579.60" y2="273.42" stroke="#7a9cc8" stroke-width="0.4"/>
<line x1="578.60" y1="267.62" x2="580.60" y2="267.62" stroke="#7a9cc8" stroke-width="0.4"/>
<rect x="577.66" y="277.02" width="1.71" height="1.71" fill="#8fb6e2"/>
<rect x="578.53" y="262.72" width="1.71" height="1.71" fill="#8fb6e2"/>
<rect x="577.72" y="269.52" width="1.71" height="1.71" fill="#8fb6e2"/>
<rect x="578.22" y="276.51" width="1.71" height="1.71" fill="#8fb6e2"/>
<rect x="579.09" y="261.51" width="1.71" height="1.71" fill="#8fb6e2"/>
<rect x="577.80" y="262.19" width="1.71" height="1.71" fill="#8fb6e2"/>
<rect x="583.50" y="260.46" width="4.60" height="27.94" fill="#cadff5"/>
<line x1="585.80" y1="256.39" x2="585.80" y2="264.54" stroke="#1d3f7c" stroke-width="0.4"/>
<line x1="584.80" y1="256.39" x2="586.80" y2="256.39" stroke="#1d3f7c" stroke-width="0.4"/>
<circle cx="586.07" cy="255.83" r="1.10" fill="#1d3f7c"/>
<circle cx="585.73" cy="271.02" r="1.10" fill="#1d3f7c"/>
<circle cx="585.48" cy="268.20" r="1.10" fill="#1d3f7c"/>
<circle cx="584.49" cy="253.03" r="1.10" fill="#1d3f7c"/>
<circle cx="586.43" cy="262.80" r="1.10" fill="#1d3f7c"/>
<circle cx="587.11" cy="262.37" r="1.10" fill="#1d3f7c"/>
<rect x="594.30" y="267.61" width="4.60" height="20.79" fill="#edf4fc" stroke="#c6dcf2" stroke-width="0.5"/>
<line x1="596.60" y1="264.38" x2="596.60" y2="270.85" stroke="#7a9cc8" stroke-width="0.4"/>
<line x1="595.60" y1="264.38" x2="597.60" y2="264.38" stroke="#7a9cc8" stroke-width="0.4"/>
<rect x="594.66" y="257.85" width="1.71" height="1.71" fill="#8fb6e2"/>
<rect x="595.00" y="263.70" width="1.71" height="1.71" fill="#8fb6e2"/>
<rect x="595.36" y="269.45" width="1.71" height="1.71" fill="#8fb6e2"/>
<rect x="595.78" y="269.32" width="1.71" height="1.71" fill="#8fb6e2"/>
<rect x="596.61" y="263.20" width="1.71" height="1.71" fill="#8fb6e2"/>
<rect x="595.75" y="263.51" width="1.71" height="1.71" fill="#8fb6e2"/>
<rect x="600.60" y="268.73" width="4.60" height="19.67" fill="#edf4fc" stroke="#c6dcf2" stroke-width="0.5"/>
<line x1="602.90" y1="265.63" x2="602.90" y2="271.84" stroke="#1d3f7c" stroke-width="0.4"/>
<line x1="601.90" y1="265.63" x2="603.90" y2="265.63" stroke="#1d3f7c" stroke-width="0.4"/>
<circle cx="602.59" cy="277.20" r="1.10" fill="#1d3f7c"/>
<circle cx="603.66" cy="262.94" r="1.10" fill="#1d3f7c"/>
<circle cx="601.79" cy="269.99" r="1.10" fill="#1d3f7c"/>
<circle cx="603.04" cy="268.39" r="1.10" fill="#1d3f7c"/>
<circle cx="602.00" cy="273.72" r="1.10" fill="#1d3f7c"/>
<circle cx="603.45" cy="270.04" r="1.10" fill="#1d3f7c"/>
<rect x="606.80" y="261.58" width="4.60" height="26.82" fill="#cadff5"/>
<line x1="609.10" y1="257.64" x2="609.10" y2="265.52" stroke="#7a9cc8" stroke-width="0.4"/>
<line x1="608.10" y1="257.64" x2="610.10" y2="257.64" stroke="#7a9cc8" stroke-width="0.4"/>
<rect x="607.43" y="271.28" width="1.71" height="1.71" fill="#8fb6e2"/>
<rect x="607.63" y="265.82" width="1.71" height="1.71" fill="#8fb6e2"/>
<rect x="608.18" y="264.27" width="1.71" height="1.71" fill="#8fb6e2"/>
<rect x="609.53" y="257.61" width="1.71" height="1.71" fill="#8fb6e2"/>
<rect x="608.19" y="270.93" width="1.71" height="1.71" fill="#8fb6e2"/>
<rect x="609.52" y="261.65" width="1.71" height="1.71" fill="#8fb6e2"/>
<rect x="613.00" y="273.20" width="4.60" height="15.20" fill="#cadff5"/>
<line x1="615.30" y1="270.62" x2="615.30" y2="275.78" stroke="#1d3f7c" stroke-width="0.4"/>
<line x1="614.30" y1="270.62" x2="616.30" y2="270.62" stroke="#1d3f7c" stroke-width="0.4"/>
<circle cx="613.92" cy="278.16" r="1.10" fill="#1d3f7c"/>
<circle cx="614.65" cy="266.87" r="1.10" fill="#1d3f7c"/>
<circle cx="616.06" cy="275.23" r="1.10" fill="#1d3f7c"/>
<circle cx="614.86" cy="277.84" r="1.10" fill="#1d3f7c"/>
<circle cx="614.58" cy="269.49" r="1.10" fill="#1d3f7c"/>
<circle cx="613.92" cy="267.05" r="1.10" fill="#1d3f7c"/>
<rect x="623.80" y="273.43" width="4.60" height="14.97" fill="#edf4fc" stroke="#c6dcf2" stroke-width="0.5"/>
<line x1="626.10" y1="270.87" x2="626.10" y2="275.98" stroke="#7a9cc8" stroke-width="0.4"/>
<line x1="625.10" y1="270.87" x2="627.10" y2="270.87" stroke="#7a9cc8" stroke-width="0.4"/>
<rect x="624.75" y="279.37" width="1.71" height="1.71" fill="#8fb6e2"/>
<rect x="626.05" y="270.81" width="1.71" height="1.71" fill="#8fb6e2"/>
<rect x="626.17" y="265.42" width="1.71" height="1.71" fill="#8fb6e2"/>
<rect x="625.64" y="265.21" width="1.71" height="1.71" fill="#8fb6e2"/>
<rect x="624.49" y="272.52" width="1.71" height="1.71" fill="#8fb6e2"/>
<rect x="625.32" y="279.60" width="1.71" height="1.71" fill="#8fb6e2"/>
<rect x="630.10" y="262.70" width="4.60" height="25.70" fill="#edf4fc" stroke="#c6dcf2" stroke-width="0.5"/>
<line x1="632.40" y1="258.89" x2="632.40" y2="266.51" stroke="#1d3f7c" stroke-width="0.4"/>
<line x1="631.40" y1="258.89" x2="633.40" y2="258.89" stroke="#1d3f7c" stroke-width="0.4"/>
<circle cx="631.82" cy="263.20" r="1.10" fill="#1d3f7c"/>
<circle cx="633.44" cy="259.90" r="1.10" fill="#1d3f7c"/>
<circle cx="631.78" cy="267.92" r="1.10" fill="#1d3f7c"/>
<circle cx="633.64" cy="252.86" r="1.10" fill="#1d3f7c"/>
<circle cx="632.44" cy="254.01" r="1.10" fill="#1d3f7c"/>
<circle cx="632.95" cy="270.14" r="1.10" fill="#1d3f7c"/>
<rect x="636.30" y="264.49" width="4.60" height="23.91" fill="#cadff5"/>
<line x1="638.60" y1="260.88" x2="638.60" y2="268.09" stroke="#7a9cc8" stroke-width="0.4"/>
<line x1="637.60" y1="260.88" x2="639.60" y2="260.88" stroke="#7a9cc8" stroke-width="0.4"/>
<rect x="636.71" y="259.37" width="1.71" height="1.71" fill="#8fb6e2"/>
<rect x="638.83" y="269.58" width="1.71" height="1.71" fill="#8fb6e2"/>
<rect x="637.52" y="268.11" width="1.71" height="1.71" fill="#8fb6e2"/>
<rect x="637.02" y="268.73" width="1.71" height="1.71" fill="#8fb6e2"/>
<rect x="637.56" y="259.82" width="1.71" height="1.71" fill="#8fb6e2"/>
<rect x="639.09" y="259.59" width="1.71" height="1.71" fill="#8fb6e2"/>
<rect x="642.50" y="274.54" width="4.60" height="13.86" fill="#cadff5"/>
<line x1="644.80" y1="272.12" x2="644.80" y2="276.97" stroke="#1d3f7c" stroke-width="0.4"/>
<line x1="643.80" y1="272.12" x2="645.80" y2="272.12" stroke="#1d3f7c" stroke-width="0.4"/>
<circle cx="645.05" cy="273.70" r="1.10" fill="#1d3f7c"/>
<circle cx="645.92" cy="272.79" r="1.10" fill="#1d3f7c"/>
<circle cx="645.61" cy="268.66" r="1.10" fill="#1d3f7c"/>
<circle cx="645.02" cy="268.07" r="1.10" fill="#1d3f7c"/>
<circle cx="644.37" cy="270.89" r="1.10" fill="#1d3f7c"/>
<circle cx="644.43" cy="275.70" r="1.10" fill="#1d3f7c"/>
<rect x="653.50" y="270.52" width="4.60" height="17.88" fill="#edf4fc" stroke="#c6dcf2" stroke-width="0.5"/>
<line x1="655.80" y1="267.62" x2="655.80" y2="273.42" stroke="#7a9cc8" stroke-width="0.4"/>
<line x1="654.80" y1="267.62" x2="656.80" y2="267.62" stroke="#7a9cc8" stroke-width="0.4"/>
<rect x="656.06" y="265.72" width="1.71" height="1.71" fill="#8fb6e2"/>
<rect x="656.09" y="268.61" width="1.71" height="1.71" fill="#8fb6e2"/>
<rect x="655.04" y="277.75" width="1.71" height="1.71" fill="#8fb6e2"/>
<rect x="655.75" y="266.15" width="1.71" height="1.71" fill="#8fb6e2"/>
<rect x="654.61" y="262.91" width="1.71" height="1.71" fill="#8fb6e2"/>
<rect x="653.82" y="264.68" width="1.71" height="1.71" fill="#8fb6e2"/>
<rect x="659.80" y="272.31" width="4.60" height="16.09" fill="#edf4fc" stroke="#c6dcf2" stroke-width="0.5"/>
<line x1="662.10" y1="269.62" x2="662.10" y2="275.00" stroke="#1d3f7c" stroke-width="0.4"/>
<line x1="661.10" y1="269.62" x2="663.10" y2="269.62" stroke="#1d3f7c" stroke-width="0.4"/>
<circle cx="661.05" cy="274.59" r="1.10" fill="#1d3f7c"/>
<circle cx="662.20" cy="275.23" r="1.10" fill="#1d3f7c"/>
<circle cx="662.66" cy="265.57" r="1.10" fill="#1d3f7c"/>
<circle cx="661.80" cy="269.37" r="1.10" fill="#1d3f7c"/>
<circle cx="661.39" cy="271.66" r="1.10" fill="#1d3f7c"/>
<circle cx="661.84" cy="270.41" r="1.10" fill="#1d3f7c"/>
<rect x="666.00" y="266.05" width="4.60" height="22.35" fill="#cadff5"/>
<line x1="668.30" y1="262.63" x2="668.30" y2="269.47" stroke="#7a9cc8" stroke-width="0.4"/>
<line x1="667.30" y1="262.63" x2="669.30" y2="262.63" stroke="#7a9cc8" stroke-width="0.4"/>
<rect x="668.17" y="268.68" width="1.71" height="1.71" fill="#8fb6e2"/>
<rect x="667.89" y="261.53" width="1.71" height="1.71" fill="#8fb6e2"/>
<rect x="668.66" y="272.27" width="1.71" height="1.71" fill="#8fb6e2"/>
<rect x="667.07" y="273.28" width="1.71" height="1.71" fill="#8fb6e2"/>
<rect x="666.13" y="268.90" width="1.71" height="1.71" fill="#8fb6e2"/>
<rect x="667.41" y="261.33" width="1.71" height="1.71" fill="#8fb6e2"/>
<rect x="672.20" y="266.72" width="4.60" height="21.68" fill="#cadff5"/>
<line x1="674.50" y1="263.38" x2="674.50" y2="270.06" stroke="#1d3f7c" stroke-width="0.4"/>
<line x1="673.50" y1="263.38" x2="675.50" y2="263.38" stroke="#1d3f7c" stroke-width="0.4"/>
<circle cx="675.74" cy="267.81" r="1.10" fill="#1d3f7c"/>
<circle cx="673.12" cy="272.91" r="1.10" fill="#1d3f7c"/>
<circle cx="674.11" cy="263.49" r="1.10" fill="#1d3f7c"/>
<circle cx="673.88" cy="269.78" r="1.10" fill="#1d3f7c"/>
<circle cx="673.66" cy="271.77" r="1.10" fill="#1d3f7c"/>
<circle cx="674.31" cy="270.05" r="1.10" fill="#1d3f7c"/>
</g>
<line x1="562.60" y1="220.85" x2="562.60" y2="288.40" stroke="#222" stroke-width="0.8"/>
<line x1="562.60" y1="288.40" x2="680.50" y2="288.40" stroke="#222" stroke-width="0.95"/>
<line x1="561.00" y1="288.40" x2="562.60" y2="288.40" stroke="#222" stroke-width="0.6"/>
<text x="558.80" y="290.70" font-size="6.5" text-anchor="middle" stroke="#111" stroke-width="0.12">0</text>
<line x1="561.00" y1="266.05" x2="562.60" y2="266.05" stroke="#222" stroke-width="0.6"/>
<text x="558.80" y="268.35" font-size="6.5" text-anchor="middle" stroke="#111" stroke-width="0.12">1</text>
<line x1="561.00" y1="243.70" x2="562.60" y2="243.70" stroke="#222" stroke-width="0.6"/>
<text x="558.80" y="246.00" font-size="6.5" text-anchor="middle" stroke="#111" stroke-width="0.12">2</text>
<line x1="561.00" y1="221.35" x2="562.60" y2="221.35" stroke="#222" stroke-width="0.6"/>
<text x="558.80" y="223.65" font-size="6.5" text-anchor="middle" stroke="#111" stroke-width="0.12">3</text>
<line x1="576.50" y1="288.40" x2="576.50" y2="290.70" stroke="#222" stroke-width="0.7"/>
<line x1="606.00" y1="288.40" x2="606.00" y2="290.70" stroke="#222" stroke-width="0.7"/>
<line x1="635.50" y1="288.40" x2="635.50" y2="290.70" stroke="#222" stroke-width="0.7"/>
<line x1="665.20" y1="288.40" x2="665.20" y2="290.70" stroke="#222" stroke-width="0.7"/>
<text x="576.30" y="297.80" font-size="7.0" text-anchor="middle" stroke="#111" stroke-width="0.12">FASN</text>
<text x="605.80" y="297.80" font-size="7.0" text-anchor="middle" stroke="#111" stroke-width="0.12">CPT1A</text>
<text x="635.40" y="297.80" font-size="7.0" text-anchor="middle" stroke="#111" stroke-width="0.12">CD36</text>
<text x="665.00" y="297.80" font-size="7.0" text-anchor="middle" stroke="#111" stroke-width="0.12">ACADL</text>
<rect x="566.90" y="215.00" width="3.60" height="3.60" fill="#fff" stroke="#c3d9f0" stroke-width="0.4"/>
<rect x="568.07" y="216.17" width="1.26" height="1.26" fill="#8fb6e2"/>
<text x="574.20" y="218.75" font-size="5.5" fill="#222" stroke="#222" stroke-width="0.12">Young-SED</text>
<circle cx="604.45" cy="217.58" r="1.25" fill="none" stroke="#222" stroke-width="0.5"/>
<path d="M605.34,216.70 L607.43,214.60 M605.86,214.60 L607.43,214.60 L607.43,216.17" stroke="#222" stroke-width="0.5" fill="none"/>
<rect x="566.90" y="223.30" width="3.60" height="3.60" fill="#fff" stroke="#c3d9f0" stroke-width="0.4"/>
<circle cx="568.70" cy="225.10" r="0.73" fill="#1d3f7c"/>
<text x="574.20" y="227.05" font-size="5.5" fill="#222" stroke="#222" stroke-width="0.12">Young-EXE</text>
<circle cx="604.15" cy="225.88" r="1.25" fill="none" stroke="#222" stroke-width="0.5"/>
<path d="M605.04,225.00 L607.13,222.90 M605.56,222.90 L607.13,222.90 L607.13,224.47" stroke="#222" stroke-width="0.5" fill="none"/>
<rect x="620.10" y="215.00" width="3.60" height="3.60" fill="#cadff5"/>
<rect x="621.27" y="216.17" width="1.26" height="1.26" fill="#8fb6e2"/>
<text x="627.40" y="218.75" font-size="5.5" fill="#222" stroke="#222" stroke-width="0.12">Old-SED</text>
<circle cx="650.81" cy="217.58" r="1.25" fill="none" stroke="#222" stroke-width="0.5"/>
<path d="M651.70,216.70 L653.79,214.60 M652.22,214.60 L653.79,214.60 L653.79,216.17" stroke="#222" stroke-width="0.5" fill="none"/>
<rect x="620.10" y="223.30" width="3.60" height="3.60" fill="#cadff5"/>
<circle cx="621.90" cy="225.10" r="0.73" fill="#1d3f7c"/>
<text x="627.40" y="227.05" font-size="5.5" fill="#222" stroke="#222" stroke-width="0.12">Old-EXE</text>
<circle cx="650.51" cy="225.88" r="1.25" fill="none" stroke="#222" stroke-width="0.5"/>
<path d="M651.40,225.00 L653.49,222.90 M651.92,222.90 L653.49,222.90 L653.49,224.47" stroke="#222" stroke-width="0.5" fill="none"/>
<text x="582.50" y="240.60" font-size="4.8" text-anchor="middle" fill="#222" stroke="#222" stroke-width="0.13"><tspan font-style="italic">P</tspan>=0.038</text>
<path d="M579.20,244.70 L579.20,242.80 L586.90,242.80 L586.90,244.70" stroke="#222" stroke-width="0.7" fill="none"/>
<text x="606.20" y="240.60" font-size="4.8" text-anchor="middle" fill="#222" stroke="#222" stroke-width="0.13"><tspan font-style="italic">P</tspan>=0.019</text>
<path d="M602.20,244.70 L602.20,242.80 L610.10,242.80 L610.10,244.70" stroke="#222" stroke-width="0.7" fill="none"/>
<text x="641.60" y="240.60" font-size="4.8" text-anchor="middle" fill="#222" stroke="#222" stroke-width="0.13"><tspan font-style="italic">P</tspan>=0.043</text>
<path d="M637.70,244.70 L637.70,242.80 L645.60,242.80 L645.60,244.70" stroke="#222" stroke-width="0.7" fill="none"/>
<text x="432.80" y="361.50" font-size="6.4" text-anchor="middle" stroke="#111" stroke-width="0.12" transform="rotate(-90 432.80 361.50)">O<tspan font-size="4.4" dy="1.2">2</tspan><tspan dy="-1.2"> consumption rate</tspan></text>
<text x="441.20" y="361.50" font-size="6.4" text-anchor="middle" stroke="#111" stroke-width="0.12" transform="rotate(-90 441.20 361.50)">(pmol/s/mg)</text>
<line x1="461.60" y1="326.90" x2="461.60" y2="396.40" stroke="#222" stroke-width="0.8"/>
<line x1="461.60" y1="396.40" x2="568.31" y2="396.40" stroke="#222" stroke-width="0.8"/>
<line x1="460.00" y1="396.40" x2="461.60" y2="396.40" stroke="#222" stroke-width="0.6"/>
<text x="458.80" y="398.60" font-size="6.2" text-anchor="end" stroke="#111" stroke-width="0.12">0</text>
<line x1="460.00" y1="382.56" x2="461.60" y2="382.56" stroke="#222" stroke-width="0.6"/>
<text x="458.80" y="384.76" font-size="6.2" text-anchor="end" stroke="#111" stroke-width="0.12">20</text>
<line x1="460.00" y1="368.72" x2="461.60" y2="368.72" stroke="#222" stroke-width="0.6"/>
<text x="458.80" y="370.92" font-size="6.2" text-anchor="end" stroke="#111" stroke-width="0.12">40</text>
<line x1="460.00" y1="354.88" x2="461.60" y2="354.88" stroke="#222" stroke-width="0.6"/>
<text x="458.80" y="357.08" font-size="6.2" text-anchor="end" stroke="#111" stroke-width="0.12">60</text>
<line x1="460.00" y1="341.04" x2="461.60" y2="341.04" stroke="#222" stroke-width="0.6"/>
<text x="458.80" y="343.24" font-size="6.2" text-anchor="end" stroke="#111" stroke-width="0.12">80</text>
<line x1="460.00" y1="327.20" x2="461.60" y2="327.20" stroke="#222" stroke-width="0.6"/>
<text x="458.80" y="329.40" font-size="6.2" text-anchor="end" stroke="#111" stroke-width="0.12">100</text>
<line x1="461.60" y1="396.40" x2="461.60" y2="398.00" stroke="#222" stroke-width="0.6"/>
<text x="461.60" y="405.80" font-size="6.3" text-anchor="middle" stroke="#111" stroke-width="0.12">0</text>
<line x1="496.07" y1="396.40" x2="496.07" y2="398.00" stroke="#222" stroke-width="0.6"/>
<text x="496.07" y="405.80" font-size="6.3" text-anchor="middle" stroke="#111" stroke-width="0.12">10</text>
<line x1="530.54" y1="396.40" x2="530.54" y2="398.00" stroke="#222" stroke-width="0.6"/>
<text x="530.54" y="405.80" font-size="6.3" text-anchor="middle" stroke="#111" stroke-width="0.12">20</text>
<line x1="565.01" y1="396.40" x2="565.01" y2="398.00" stroke="#222" stroke-width="0.6"/>
<text x="565.01" y="405.80" font-size="6.3" text-anchor="middle" stroke="#111" stroke-width="0.12">30</text>
<polyline points="461.60,382.56 462.24,382.32 462.88,382.32 463.52,382.37 464.15,382.46 464.79,382.20 465.43,382.17 466.07,382.27 466.71,382.26 467.35,382.35 467.98,382.42 468.62,382.25 469.26,382.14 469.90,382.33 470.54,382.01 471.18,382.23 471.81,382.20 472.45,382.26 473.09,381.85 473.73,381.93 474.37,381.86 475.00,381.94 475.64,382.16 476.28,382.02 476.92,381.93 477.56,382.07 478.20,381.70 478.84,381.92 479.47,382.00 480.11,381.71 480.75,381.99 481.39,381.64 482.03,381.82 482.67,381.77 483.30,381.84 483.94,381.77 484.58,381.88 485.22,381.93 485.86,381.58 486.50,381.82 487.13,381.59 487.77,381.81 488.41,381.48 489.05,381.50 489.69,381.54 490.33,381.53 490.96,381.59 491.60,381.52 492.24,381.76 492.88,381.60 493.52,381.44 494.16,381.68 494.79,381.37 495.43,381.37 496.07,381.56 496.71,381.50 497.35,381.38 497.99,381.33 498.63,381.00 499.27,381.17 499.91,381.24 500.55,381.14 501.36,380.02 502.16,379.06 502.96,378.41 503.65,377.37 504.34,376.31 505.03,375.19 505.72,374.37 506.53,373.40 507.33,372.62 508.13,371.78 508.78,371.84 509.43,371.71 510.07,371.51 510.72,371.14 511.37,371.25 512.01,371.02 512.66,371.01 513.31,370.96 513.95,370.97 514.60,370.65 515.24,370.66 515.89,370.81 516.54,370.68 517.18,370.67 517.83,370.57 518.48,370.54 519.12,370.76 519.77,370.51 520.41,370.51 521.06,370.65 521.71,370.52 522.35,370.68 523.00,370.72 523.65,370.76 524.29,370.47 524.94,370.73 525.58,370.73 526.23,370.39 526.88,370.37 527.52,370.46 528.17,370.28 528.82,370.57 529.46,370.45 530.11,370.40 530.76,370.31 531.40,370.38 532.05,370.39 532.69,370.24 533.34,369.97 533.99,369.90 534.68,369.83 535.37,369.77 536.06,369.69 536.74,369.22 537.43,369.23 538.12,368.97 538.93,368.22 539.73,367.11 540.54,365.81 541.40,362.02 542.26,358.18 542.95,355.99 543.64,353.76 544.33,351.39 545.19,349.72 546.05,348.39 546.70,348.27 547.34,348.35 547.99,348.12 548.64,348.41 549.28,348.10 549.93,347.96 550.58,348.32 551.22,348.06 551.87,347.93 552.51,347.74 553.16,347.75 553.81,347.78 554.45,347.62 555.10,347.29 555.75,347.20 556.39,347.42 557.04,347.39 557.69,347.34 558.35,347.33 559.00,347.11 559.65,347.19 560.30,346.84 560.95,346.88 561.60,347.05 562.25,346.85" fill="none" stroke="#74a2da" stroke-width="1.05" stroke-linejoin="round"/>
<polyline points="461.60,381.51 462.23,381.56 462.85,381.46 463.48,381.54 464.11,381.53 464.73,381.50 465.36,381.38 465.99,381.21 466.61,381.25 467.24,381.43 467.87,381.12 468.49,381.02 469.16,381.02 469.82,380.97 470.48,381.25 471.15,381.02 471.81,381.14 472.47,380.81 473.13,381.01 473.80,380.75 474.46,380.90 475.12,380.67 475.79,380.78 476.45,380.86 477.11,380.67 477.97,380.22 478.84,379.49 479.52,379.63 480.21,379.43 480.90,379.30 481.59,379.02 482.28,379.27 482.91,379.06 483.54,379.10 484.16,379.00 484.79,378.91 485.42,379.18 486.04,379.02 486.67,379.09 487.30,379.07 487.92,379.28 488.55,378.97 489.18,378.90 489.80,379.14 490.43,379.14 491.06,378.84 491.68,379.19 492.31,379.18 492.94,379.16 493.56,378.84 494.19,378.84 494.82,378.95 495.44,378.86 496.07,379.09 496.76,378.81 497.45,378.87 498.14,378.82 498.83,378.85 499.52,378.82 500.21,378.87 500.90,378.36 501.59,377.63 502.27,377.13 502.96,375.79 503.65,374.59 504.34,373.47 505.20,370.81 506.07,368.14 506.93,365.48 507.79,362.84 508.48,362.51 509.17,362.09 509.80,362.42 510.43,362.21 511.06,362.17 511.70,362.03 512.33,361.92 512.96,361.93 513.59,361.95 514.22,361.85 514.86,361.85 515.49,361.73 516.12,361.76 516.75,361.72 517.38,361.89 518.01,361.59 518.63,361.79 519.26,361.68 519.89,361.57 520.51,361.49 521.14,361.46 521.77,361.85 522.39,361.71 523.02,361.69 523.65,361.64 524.27,361.72 524.90,361.53 525.53,361.71 526.15,361.60 526.78,361.31 527.41,361.38 528.03,361.48 528.66,361.60 529.29,361.23 529.91,361.32 530.54,361.51 531.18,361.43 531.82,361.29 532.46,361.25 533.10,361.41 533.74,361.10 534.38,361.34 535.02,361.35 535.66,361.08 536.30,361.35 536.94,361.11 537.58,361.29 538.22,361.11 538.86,361.22 539.50,361.16 540.19,360.46 540.88,360.20 541.57,359.75 542.26,357.60 542.95,355.66 543.64,353.63 544.50,349.74 545.36,345.98 546.22,343.07 547.09,339.81 547.95,339.92 548.81,339.32 549.46,339.25 550.11,339.33 550.76,339.60 551.41,339.39 552.06,339.56 552.72,339.31 553.37,339.26 554.02,339.43 554.67,339.51 555.30,339.30 555.93,339.50 556.56,339.42 557.20,339.38 557.83,339.20 558.46,339.43 559.09,339.54 559.72,339.28 560.36,339.28 560.99,339.41 561.62,339.62 562.25,339.45" fill="none" stroke="#1b3f80" stroke-width="1.15" stroke-linejoin="round"/>
<text x="462.90" y="359.50" font-size="4.6" fill="#222" stroke="#222" stroke-width="0.14" textLength="33.60" lengthAdjust="spacingAndGlyphs">Octanoylcarnitine</text>
<text x="462.90" y="365.40" font-size="4.6" fill="#222" stroke="#222" stroke-width="0.14">&amp; Malate</text>
<line x1="476.60" y1="367.20" x2="476.60" y2="374.60" stroke="#111" stroke-width="0.55"/>
<path d="M476.60,375.60 L475.39,373.39 L477.81,373.39 Z" fill="#111"/>
<text x="499.40" y="350.30" font-size="4.6" text-anchor="middle" fill="#222" stroke="#222" stroke-width="0.14">ADP</text>
<line x1="500.00" y1="351.60" x2="500.00" y2="360.20" stroke="#111" stroke-width="0.55"/>
<path d="M500.00,361.20 L498.79,358.99 L501.21,358.99 Z" fill="#111"/>
<text x="538.40" y="338.60" font-size="4.6" text-anchor="middle" fill="#222" stroke="#222" stroke-width="0.14">Succinate</text>
<line x1="537.60" y1="339.60" x2="537.60" y2="348.20" stroke="#111" stroke-width="0.55"/>
<path d="M537.60,349.20 L536.39,346.99 L538.81,346.99 Z" fill="#111"/>
<line x1="467.80" y1="330.20" x2="475.30" y2="330.20" stroke="#74a2da" stroke-width="1.0"/>
<text x="478.80" y="332.40" font-size="6.3" fill="#222" stroke="#222" stroke-width="0.12">SED</text>
<circle cx="493.30" cy="331.15" r="1.20" fill="none" stroke="#222" stroke-width="0.5"/>
<path d="M494.15,330.30 L496.15,328.30 M494.65,328.30 L496.15,328.30 L496.15,329.80" stroke="#222" stroke-width="0.5" fill="none"/>
<line x1="501.80" y1="330.20" x2="510.30" y2="330.20" stroke="#1b3f80" stroke-width="1.1"/>
<text x="512.30" y="332.40" font-size="6.3" fill="#222" stroke="#222" stroke-width="0.12">EXE</text>
<circle cx="526.46" cy="331.15" r="1.20" fill="none" stroke="#222" stroke-width="0.5"/>
<path d="M527.31,330.30 L529.31,328.30 M527.81,328.30 L529.31,328.30 L529.31,329.80" stroke="#222" stroke-width="0.5" fill="none"/>
<text x="513.00" y="415.20" font-size="6.5" text-anchor="middle" stroke="#111" stroke-width="0.12" textLength="31.00" lengthAdjust="spacingAndGlyphs">Time (min)</text>
<g>
<rect x="591.70" y="381.26" width="6.30" height="14.24" fill="#cadff5"/>
<circle cx="593.30" cy="383.47" r="0.95" fill="#8fb6e2"/>
<circle cx="595.59" cy="381.75" r="0.95" fill="#8fb6e2"/>
<circle cx="593.30" cy="382.90" r="0.95" fill="#8fb6e2"/>
<line x1="594.85" y1="379.48" x2="594.85" y2="383.05" stroke="#7a9cc8" stroke-width="0.4"/>
<line x1="593.65" y1="379.48" x2="596.05" y2="379.48" stroke="#7a9cc8" stroke-width="0.4"/>
<rect x="601.20" y="380.58" width="6.10" height="14.92" fill="#cadff5"/>
<circle cx="605.28" cy="381.81" r="1.05" fill="#1d3f7c"/>
<circle cx="605.21" cy="382.20" r="1.05" fill="#1d3f7c"/>
<circle cx="602.80" cy="379.84" r="1.05" fill="#1d3f7c"/>
<circle cx="604.04" cy="380.42" r="1.05" fill="#1d3f7c"/>
<line x1="604.25" y1="378.78" x2="604.25" y2="382.39" stroke="#1d3f7c" stroke-width="0.4"/>
<line x1="603.05" y1="378.78" x2="605.45" y2="378.78" stroke="#1d3f7c" stroke-width="0.4"/>
<rect x="615.90" y="381.26" width="6.10" height="14.24" fill="#cadff5"/>
<circle cx="620.94" cy="381.66" r="0.95" fill="#8fb6e2"/>
<circle cx="617.03" cy="383.10" r="0.95" fill="#8fb6e2"/>
<circle cx="618.56" cy="379.27" r="0.95" fill="#8fb6e2"/>
<line x1="618.95" y1="379.48" x2="618.95" y2="383.05" stroke="#7a9cc8" stroke-width="0.4"/>
<line x1="617.75" y1="379.48" x2="620.15" y2="379.48" stroke="#7a9cc8" stroke-width="0.4"/>
<rect x="625.40" y="378.55" width="6.10" height="16.95" fill="#cadff5"/>
<circle cx="627.77" cy="379.98" r="1.05" fill="#1d3f7c"/>
<circle cx="630.27" cy="379.19" r="1.05" fill="#1d3f7c"/>
<circle cx="627.32" cy="379.92" r="1.05" fill="#1d3f7c"/>
<circle cx="628.64" cy="378.15" r="1.05" fill="#1d3f7c"/>
<line x1="628.45" y1="376.69" x2="628.45" y2="380.41" stroke="#1d3f7c" stroke-width="0.4"/>
<line x1="627.25" y1="376.69" x2="629.65" y2="376.69" stroke="#1d3f7c" stroke-width="0.4"/>
<rect x="640.10" y="369.74" width="6.10" height="25.76" fill="#cadff5"/>
<circle cx="644.50" cy="367.26" r="0.95" fill="#8fb6e2"/>
<circle cx="641.97" cy="370.52" r="0.95" fill="#8fb6e2"/>
<circle cx="645.11" cy="367.90" r="0.95" fill="#8fb6e2"/>
<line x1="643.15" y1="367.61" x2="643.15" y2="371.86" stroke="#7a9cc8" stroke-width="0.4"/>
<line x1="641.95" y1="367.61" x2="644.35" y2="367.61" stroke="#7a9cc8" stroke-width="0.4"/>
<rect x="649.60" y="363.63" width="6.10" height="31.87" fill="#cadff5"/>
<circle cx="653.59" cy="366.42" r="1.05" fill="#1d3f7c"/>
<circle cx="653.25" cy="361.45" r="1.05" fill="#1d3f7c"/>
<circle cx="653.84" cy="365.31" r="1.05" fill="#1d3f7c"/>
<circle cx="651.43" cy="362.27" r="1.05" fill="#1d3f7c"/>
<line x1="652.65" y1="361.32" x2="652.65" y2="365.95" stroke="#1d3f7c" stroke-width="0.4"/>
<line x1="651.45" y1="361.32" x2="653.85" y2="361.32" stroke="#1d3f7c" stroke-width="0.4"/>
<rect x="664.40" y="347.36" width="6.10" height="48.14" fill="#cadff5"/>
<circle cx="666.33" cy="346.34" r="0.95" fill="#8fb6e2"/>
<circle cx="666.79" cy="350.68" r="0.95" fill="#8fb6e2"/>
<circle cx="667.03" cy="348.56" r="0.95" fill="#8fb6e2"/>
<line x1="667.45" y1="344.56" x2="667.45" y2="350.16" stroke="#7a9cc8" stroke-width="0.4"/>
<line x1="666.25" y1="344.56" x2="668.65" y2="344.56" stroke="#7a9cc8" stroke-width="0.4"/>
<rect x="673.80" y="339.23" width="6.10" height="56.27" fill="#cadff5"/>
<circle cx="678.19" cy="338.07" r="1.05" fill="#1d3f7c"/>
<circle cx="678.76" cy="335.59" r="1.05" fill="#1d3f7c"/>
<circle cx="678.01" cy="335.33" r="1.05" fill="#1d3f7c"/>
<circle cx="675.56" cy="340.75" r="1.05" fill="#1d3f7c"/>
<line x1="676.85" y1="336.18" x2="676.85" y2="342.27" stroke="#1d3f7c" stroke-width="0.4"/>
<line x1="675.65" y1="336.18" x2="678.05" y2="336.18" stroke="#1d3f7c" stroke-width="0.4"/>
</g>
<line x1="588.50" y1="327.40" x2="588.50" y2="395.50" stroke="#222" stroke-width="0.8"/>
<line x1="588.50" y1="395.50" x2="680.60" y2="395.50" stroke="#222" stroke-width="0.8"/>
<line x1="586.90" y1="395.50" x2="588.50" y2="395.50" stroke="#222" stroke-width="0.6"/>
<text x="585.70" y="397.70" font-size="6.2" text-anchor="end" stroke="#111" stroke-width="0.12">0</text>
<line x1="586.90" y1="381.94" x2="588.50" y2="381.94" stroke="#222" stroke-width="0.6"/>
<text x="585.70" y="384.14" font-size="6.2" text-anchor="end" stroke="#111" stroke-width="0.12">20</text>
<line x1="586.90" y1="368.38" x2="588.50" y2="368.38" stroke="#222" stroke-width="0.6"/>
<text x="585.70" y="370.58" font-size="6.2" text-anchor="end" stroke="#111" stroke-width="0.12">40</text>
<line x1="586.90" y1="354.82" x2="588.50" y2="354.82" stroke="#222" stroke-width="0.6"/>
<text x="585.70" y="357.02" font-size="6.2" text-anchor="end" stroke="#111" stroke-width="0.12">60</text>
<line x1="586.90" y1="341.26" x2="588.50" y2="341.26" stroke="#222" stroke-width="0.6"/>
<text x="585.70" y="343.46" font-size="6.2" text-anchor="end" stroke="#111" stroke-width="0.12">80</text>
<line x1="586.90" y1="327.70" x2="588.50" y2="327.70" stroke="#222" stroke-width="0.6"/>
<text x="585.70" y="329.90" font-size="6.2" text-anchor="end" stroke="#111" stroke-width="0.12">100</text>
<line x1="599.60" y1="395.50" x2="599.60" y2="397.10" stroke="#222" stroke-width="0.6"/>
<text x="601.40" y="402.10" font-size="6.3" text-anchor="end" stroke="#111" stroke-width="0.12" transform="rotate(-45 601.40 402.10)">Basal</text>
<line x1="623.70" y1="395.50" x2="623.70" y2="397.10" stroke="#222" stroke-width="0.6"/>
<text x="625.50" y="402.10" font-size="6.3" text-anchor="end" stroke="#111" stroke-width="0.12" transform="rotate(-45 625.50 402.10)">Oct/Mal</text>
<line x1="647.90" y1="395.50" x2="647.90" y2="397.10" stroke="#222" stroke-width="0.6"/>
<text x="649.70" y="402.10" font-size="6.3" text-anchor="end" stroke="#111" stroke-width="0.12" transform="rotate(-45 649.70 402.10)">ADP</text>
<line x1="672.15" y1="395.50" x2="672.15" y2="397.10" stroke="#222" stroke-width="0.6"/>
<text x="673.95" y="402.10" font-size="6.3" text-anchor="end" stroke="#111" stroke-width="0.12" transform="rotate(-45 673.95 402.10)">Succinate</text>
<circle cx="593.80" cy="331.00" r="0.95" fill="#8fb6e2"/>
<text x="601.60" y="333.10" font-size="6.0" fill="#222" stroke="#222" stroke-width="0.12">SED</text>
<circle cx="615.43" cy="331.92" r="1.15" fill="none" stroke="#222" stroke-width="0.5"/>
<path d="M616.24,331.10 L618.15,329.20 M616.71,329.20 L618.15,329.20 L618.15,330.63" stroke="#222" stroke-width="0.5" fill="none"/>
<circle cx="593.80" cy="337.60" r="1.05" fill="#1d3f7c"/>
<text x="601.60" y="339.70" font-size="6.0" fill="#222" stroke="#222" stroke-width="0.12">EXE</text>
<circle cx="615.10" cy="338.52" r="1.15" fill="none" stroke="#222" stroke-width="0.5"/>
<path d="M615.91,337.70 L617.82,335.80 M616.38,335.80 L617.82,335.80 L617.82,337.23" stroke="#222" stroke-width="0.5" fill="none"/>
<text x="647.50" y="326.00" font-size="5.4" text-anchor="middle" fill="#222" stroke="#222" stroke-width="0.13"><tspan font-style="italic">P</tspan>=0.017</text>
<path d="M641.20,331.50 L641.20,329.60 L652.60,329.60 L652.60,331.50" stroke="#222" stroke-width="0.7" fill="none"/>
<text x="671.70" y="326.00" font-size="5.4" text-anchor="middle" fill="#222" stroke="#222" stroke-width="0.13"><tspan font-style="italic">P</tspan>=0.007</text>
<path d="M666.50,331.50 L666.50,329.60 L677.80,329.60 L677.80,331.50" stroke="#222" stroke-width="0.7" fill="none"/>
<text x="432.80" y="461.50" font-size="6.4" text-anchor="middle" stroke="#111" stroke-width="0.12" transform="rotate(-90 432.80 461.50)">O<tspan font-size="4.4" dy="1.2">2</tspan><tspan dy="-1.2"> consumption rate</tspan></text>
<text x="441.20" y="461.50" font-size="6.4" text-anchor="middle" stroke="#111" stroke-width="0.12" transform="rotate(-90 441.20 461.50)">(pmol/s/mg)</text>
<line x1="461.40" y1="427.10" x2="461.40" y2="495.90" stroke="#222" stroke-width="0.8"/>
<line x1="461.40" y1="495.90" x2="570.90" y2="495.90" stroke="#222" stroke-width="0.8"/>
<line x1="459.80" y1="495.90" x2="461.40" y2="495.90" stroke="#222" stroke-width="0.6"/>
<text x="458.60" y="498.10" font-size="6.2" text-anchor="end" stroke="#111" stroke-width="0.12">0</text>
<line x1="459.80" y1="482.20" x2="461.40" y2="482.20" stroke="#222" stroke-width="0.6"/>
<text x="458.60" y="484.40" font-size="6.2" text-anchor="end" stroke="#111" stroke-width="0.12">20</text>
<line x1="459.80" y1="468.50" x2="461.40" y2="468.50" stroke="#222" stroke-width="0.6"/>
<text x="458.60" y="470.70" font-size="6.2" text-anchor="end" stroke="#111" stroke-width="0.12">40</text>
<line x1="459.80" y1="454.80" x2="461.40" y2="454.80" stroke="#222" stroke-width="0.6"/>
<text x="458.60" y="457.00" font-size="6.2" text-anchor="end" stroke="#111" stroke-width="0.12">60</text>
<line x1="459.80" y1="441.10" x2="461.40" y2="441.10" stroke="#222" stroke-width="0.6"/>
<text x="458.60" y="443.30" font-size="6.2" text-anchor="end" stroke="#111" stroke-width="0.12">80</text>
<line x1="459.80" y1="427.40" x2="461.40" y2="427.40" stroke="#222" stroke-width="0.6"/>
<text x="458.60" y="429.60" font-size="6.2" text-anchor="end" stroke="#111" stroke-width="0.12">100</text>
<line x1="461.40" y1="495.90" x2="461.40" y2="497.50" stroke="#222" stroke-width="0.6"/>
<text x="461.40" y="505.40" font-size="6.3" text-anchor="middle" stroke="#111" stroke-width="0.12">0</text>
<line x1="496.80" y1="495.90" x2="496.80" y2="497.50" stroke="#222" stroke-width="0.6"/>
<text x="496.80" y="505.40" font-size="6.3" text-anchor="middle" stroke="#111" stroke-width="0.12">5</text>
<line x1="532.20" y1="495.90" x2="532.20" y2="497.50" stroke="#222" stroke-width="0.6"/>
<text x="532.20" y="505.40" font-size="6.3" text-anchor="middle" stroke="#111" stroke-width="0.12">10</text>
<line x1="567.60" y1="495.90" x2="567.60" y2="497.50" stroke="#222" stroke-width="0.6"/>
<text x="567.60" y="505.40" font-size="6.3" text-anchor="middle" stroke="#111" stroke-width="0.12">15</text>
<polyline points="461.40,485.44 462.82,485.64 464.23,485.55 465.65,485.01 467.06,485.21 468.48,485.10 469.90,484.95 471.31,485.14 472.73,484.99 474.14,485.32 475.56,485.09 477.33,485.87 479.10,486.27 481.22,486.82 482.64,485.21 484.06,483.40 486.18,481.43 487.51,481.70 488.83,481.36 490.16,481.48 491.49,481.59 492.82,481.64 494.14,481.37 495.47,481.48 496.80,481.33 498.22,481.27 499.63,481.05 501.05,481.08 502.46,480.89 503.88,480.78 505.65,479.73 507.42,478.24 509.19,476.28 510.96,473.86 512.73,471.40 514.50,469.12 516.27,468.99 518.04,468.37 519.46,468.43 520.87,468.63 522.29,468.69 523.70,468.49 525.12,468.69 526.54,468.19 527.95,468.22 529.37,468.08 530.78,467.99 532.20,467.75 533.97,465.59 535.74,463.78 537.51,458.96 539.28,454.08 541.05,449.06 542.82,443.80 544.94,441.08 546.24,441.13 547.54,441.03 548.84,441.09 550.14,441.27 551.43,440.90 552.73,441.16 554.03,441.13 555.33,441.14 556.63,440.92 557.92,440.91 559.22,441.10 560.52,441.10" fill="none" stroke="#74a2da" stroke-width="1.05" stroke-linejoin="round"/>
<polyline points="461.40,484.98 463.17,484.93 464.94,484.43 466.71,484.49 468.48,484.10 470.25,483.91 472.02,483.64 473.79,483.97 475.56,484.38 476.98,484.96 478.39,485.27 480.52,486.19 482.64,484.19 484.76,481.64 486.42,481.21 488.07,481.24 489.72,480.87 491.14,480.70 492.55,480.66 493.97,480.85 495.38,480.69 496.80,480.83 498.57,480.31 500.34,479.77 502.11,478.40 503.88,477.30 505.65,475.36 507.42,473.20 509.19,471.18 510.96,469.25 513.08,467.70 514.74,467.68 516.39,467.77 518.04,467.63 519.46,468.01 520.87,467.81 522.29,467.76 523.70,467.88 525.12,467.95 526.54,467.56 527.95,467.50 529.37,467.40 530.78,467.32 532.20,464.20 533.62,461.71 535.39,456.67 537.16,451.49 538.93,446.68 540.70,441.63 542.82,440.55 544.24,440.37 545.65,440.31 547.07,440.02 548.48,439.99 549.90,439.79 551.23,439.61 552.55,439.50 553.88,439.52 555.21,439.82 556.54,439.65 557.87,439.43 559.19,439.74 560.52,439.52" fill="none" stroke="#1b3f80" stroke-width="1.15" stroke-linejoin="round"/>
<text x="480.20" y="469.90" font-size="4.6" text-anchor="middle" fill="#222" stroke="#222" stroke-width="0.14">Pyruvate</text>
<line x1="480.00" y1="471.60" x2="480.00" y2="478.80" stroke="#111" stroke-width="0.55"/>
<path d="M480.00,479.80 L478.79,477.59 L481.21,477.59 Z" fill="#111"/>
<text x="499.40" y="461.10" font-size="4.6" text-anchor="middle" fill="#222" stroke="#222" stroke-width="0.14">ADP</text>
<line x1="499.40" y1="462.60" x2="499.40" y2="471.20" stroke="#111" stroke-width="0.55"/>
<path d="M499.40,472.20 L498.19,469.99 L500.61,469.99 Z" fill="#111"/>
<text x="531.60" y="440.80" font-size="4.6" text-anchor="middle" fill="#222" stroke="#222" stroke-width="0.14">Succinate</text>
<line x1="531.60" y1="443.50" x2="531.60" y2="451.40" stroke="#111" stroke-width="0.55"/>
<path d="M531.60,452.40 L530.39,450.19 L532.81,450.19 Z" fill="#111"/>
<line x1="468.30" y1="430.00" x2="475.80" y2="430.00" stroke="#74a2da" stroke-width="1.0"/>
<text x="479.30" y="432.20" font-size="6.3" fill="#222" stroke="#222" stroke-width="0.12">SED</text>
<circle cx="493.80" cy="430.95" r="1.20" fill="none" stroke="#222" stroke-width="0.5"/>
<path d="M494.65,430.10 L496.65,428.10 M495.15,428.10 L496.65,428.10 L496.65,429.60" stroke="#222" stroke-width="0.5" fill="none"/>
<line x1="502.30" y1="430.00" x2="510.80" y2="430.00" stroke="#1b3f80" stroke-width="1.1"/>
<text x="512.80" y="432.20" font-size="6.3" fill="#222" stroke="#222" stroke-width="0.12">EXE</text>
<circle cx="526.96" cy="430.95" r="1.20" fill="none" stroke="#222" stroke-width="0.5"/>
<path d="M527.81,430.10 L529.81,428.10 M528.31,428.10 L529.81,428.10 L529.81,429.60" stroke="#222" stroke-width="0.5" fill="none"/>
<text x="511.80" y="513.60" font-size="6.5" text-anchor="middle" stroke="#111" stroke-width="0.12" textLength="31.00" lengthAdjust="spacingAndGlyphs">Time (min)</text>
<g>
<rect x="591.10" y="482.68" width="6.20" height="9.62" fill="#cadff5"/>
<circle cx="593.05" cy="484.46" r="0.95" fill="#8fb6e2"/>
<circle cx="595.80" cy="483.51" r="0.95" fill="#8fb6e2"/>
<circle cx="595.08" cy="482.70" r="0.95" fill="#8fb6e2"/>
<line x1="594.20" y1="481.02" x2="594.20" y2="484.34" stroke="#7a9cc8" stroke-width="0.4"/>
<line x1="593.00" y1="481.02" x2="595.40" y2="481.02" stroke="#7a9cc8" stroke-width="0.4"/>
<rect x="600.30" y="482.00" width="6.20" height="10.31" fill="#cadff5"/>
<circle cx="603.44" cy="483.70" r="1.05" fill="#1d3f7c"/>
<circle cx="603.49" cy="480.53" r="1.05" fill="#1d3f7c"/>
<circle cx="604.93" cy="480.10" r="1.05" fill="#1d3f7c"/>
<circle cx="601.40" cy="482.54" r="1.05" fill="#1d3f7c"/>
<line x1="603.40" y1="480.31" x2="603.40" y2="483.68" stroke="#1d3f7c" stroke-width="0.4"/>
<line x1="602.20" y1="480.31" x2="604.60" y2="480.31" stroke="#1d3f7c" stroke-width="0.4"/>
<rect x="615.50" y="478.56" width="6.20" height="13.74" fill="#cadff5"/>
<circle cx="617.11" cy="477.40" r="0.95" fill="#8fb6e2"/>
<circle cx="619.52" cy="480.78" r="0.95" fill="#8fb6e2"/>
<circle cx="619.95" cy="477.01" r="0.95" fill="#8fb6e2"/>
<line x1="618.60" y1="476.77" x2="618.60" y2="480.35" stroke="#7a9cc8" stroke-width="0.4"/>
<line x1="617.40" y1="476.77" x2="619.80" y2="476.77" stroke="#7a9cc8" stroke-width="0.4"/>
<rect x="624.70" y="477.87" width="6.20" height="14.43" fill="#cadff5"/>
<circle cx="626.61" cy="475.79" r="1.05" fill="#1d3f7c"/>
<circle cx="626.28" cy="479.79" r="1.05" fill="#1d3f7c"/>
<circle cx="626.25" cy="475.68" r="1.05" fill="#1d3f7c"/>
<circle cx="625.88" cy="479.44" r="1.05" fill="#1d3f7c"/>
<line x1="627.80" y1="476.07" x2="627.80" y2="479.68" stroke="#1d3f7c" stroke-width="0.4"/>
<line x1="626.60" y1="476.07" x2="629.00" y2="476.07" stroke="#1d3f7c" stroke-width="0.4"/>
<rect x="640.10" y="462.76" width="6.20" height="29.54" fill="#cadff5"/>
<circle cx="641.35" cy="465.37" r="0.95" fill="#8fb6e2"/>
<circle cx="641.85" cy="463.61" r="0.95" fill="#8fb6e2"/>
<circle cx="644.92" cy="463.86" r="0.95" fill="#8fb6e2"/>
<line x1="643.20" y1="460.50" x2="643.20" y2="465.02" stroke="#7a9cc8" stroke-width="0.4"/>
<line x1="642.00" y1="460.50" x2="644.40" y2="460.50" stroke="#7a9cc8" stroke-width="0.4"/>
<rect x="649.30" y="462.76" width="6.20" height="29.54" fill="#cadff5"/>
<circle cx="653.66" cy="464.69" r="1.05" fill="#1d3f7c"/>
<circle cx="652.67" cy="461.38" r="1.05" fill="#1d3f7c"/>
<circle cx="653.48" cy="462.32" r="1.05" fill="#1d3f7c"/>
<circle cx="651.32" cy="462.25" r="1.05" fill="#1d3f7c"/>
<line x1="652.40" y1="460.50" x2="652.40" y2="465.02" stroke="#1d3f7c" stroke-width="0.4"/>
<line x1="651.20" y1="460.50" x2="653.60" y2="460.50" stroke="#1d3f7c" stroke-width="0.4"/>
<rect x="664.70" y="441.46" width="6.20" height="50.84" fill="#cadff5"/>
<circle cx="666.78" cy="442.74" r="0.95" fill="#8fb6e2"/>
<circle cx="669.75" cy="442.21" r="0.95" fill="#8fb6e2"/>
<circle cx="666.08" cy="442.01" r="0.95" fill="#8fb6e2"/>
<line x1="667.80" y1="438.56" x2="667.80" y2="444.36" stroke="#7a9cc8" stroke-width="0.4"/>
<line x1="666.60" y1="438.56" x2="669.00" y2="438.56" stroke="#7a9cc8" stroke-width="0.4"/>
<rect x="673.90" y="441.46" width="6.20" height="50.84" fill="#cadff5"/>
<circle cx="678.25" cy="441.64" r="1.05" fill="#1d3f7c"/>
<circle cx="677.81" cy="441.87" r="1.05" fill="#1d3f7c"/>
<circle cx="675.25" cy="444.53" r="1.05" fill="#1d3f7c"/>
<circle cx="675.19" cy="440.25" r="1.05" fill="#1d3f7c"/>
<line x1="677.00" y1="438.56" x2="677.00" y2="444.36" stroke="#1d3f7c" stroke-width="0.4"/>
<line x1="675.80" y1="438.56" x2="678.20" y2="438.56" stroke="#1d3f7c" stroke-width="0.4"/>
</g>
<line x1="588.00" y1="423.30" x2="588.00" y2="492.30" stroke="#222" stroke-width="0.8"/>
<line x1="588.00" y1="492.30" x2="680.80" y2="492.30" stroke="#222" stroke-width="0.8"/>
<line x1="586.40" y1="492.30" x2="588.00" y2="492.30" stroke="#222" stroke-width="0.6"/>
<text x="585.20" y="494.50" font-size="6.2" text-anchor="end" stroke="#111" stroke-width="0.12">0</text>
<line x1="586.40" y1="478.56" x2="588.00" y2="478.56" stroke="#222" stroke-width="0.6"/>
<text x="585.20" y="480.76" font-size="6.2" text-anchor="end" stroke="#111" stroke-width="0.12">20</text>
<line x1="586.40" y1="464.82" x2="588.00" y2="464.82" stroke="#222" stroke-width="0.6"/>
<text x="585.20" y="467.02" font-size="6.2" text-anchor="end" stroke="#111" stroke-width="0.12">40</text>
<line x1="586.40" y1="451.08" x2="588.00" y2="451.08" stroke="#222" stroke-width="0.6"/>
<text x="585.20" y="453.28" font-size="6.2" text-anchor="end" stroke="#111" stroke-width="0.12">60</text>
<line x1="586.40" y1="437.34" x2="588.00" y2="437.34" stroke="#222" stroke-width="0.6"/>
<text x="585.20" y="439.54" font-size="6.2" text-anchor="end" stroke="#111" stroke-width="0.12">80</text>
<line x1="586.40" y1="423.60" x2="588.00" y2="423.60" stroke="#222" stroke-width="0.6"/>
<text x="585.20" y="425.80" font-size="6.2" text-anchor="end" stroke="#111" stroke-width="0.12">100</text>
<line x1="598.80" y1="492.30" x2="598.80" y2="493.90" stroke="#222" stroke-width="0.6"/>
<text x="600.60" y="498.90" font-size="6.3" text-anchor="end" stroke="#111" stroke-width="0.12" transform="rotate(-45 600.60 498.90)">Basal</text>
<line x1="623.20" y1="492.30" x2="623.20" y2="493.90" stroke="#222" stroke-width="0.6"/>
<text x="625.00" y="498.90" font-size="6.3" text-anchor="end" stroke="#111" stroke-width="0.12" transform="rotate(-45 625.00 498.90)">Pyruvate</text>
<line x1="647.80" y1="492.30" x2="647.80" y2="493.90" stroke="#222" stroke-width="0.6"/>
<text x="649.60" y="498.90" font-size="6.3" text-anchor="end" stroke="#111" stroke-width="0.12" transform="rotate(-45 649.60 498.90)">ADP</text>
<line x1="672.40" y1="492.30" x2="672.40" y2="493.90" stroke="#222" stroke-width="0.6"/>
<text x="674.20" y="498.90" font-size="6.3" text-anchor="end" stroke="#111" stroke-width="0.12" transform="rotate(-45 674.20 498.90)">Succinate</text>
<circle cx="593.80" cy="426.30" r="0.95" fill="#8fb6e2"/>
<text x="601.60" y="428.40" font-size="6.0" fill="#222" stroke="#222" stroke-width="0.12">SED</text>
<circle cx="615.43" cy="427.22" r="1.15" fill="none" stroke="#222" stroke-width="0.5"/>
<path d="M616.24,426.40 L618.15,424.50 M616.71,424.50 L618.15,424.50 L618.15,425.93" stroke="#222" stroke-width="0.5" fill="none"/>
<circle cx="593.80" cy="432.90" r="1.05" fill="#1d3f7c"/>
<text x="601.60" y="435.00" font-size="6.0" fill="#222" stroke="#222" stroke-width="0.12">EXE</text>
<circle cx="615.10" cy="433.82" r="1.15" fill="none" stroke="#222" stroke-width="0.5"/>
<path d="M615.91,433.00 L617.82,431.10 M616.38,431.10 L617.82,431.10 L617.82,432.53" stroke="#222" stroke-width="0.5" fill="none"/>
</svg></body></html>
